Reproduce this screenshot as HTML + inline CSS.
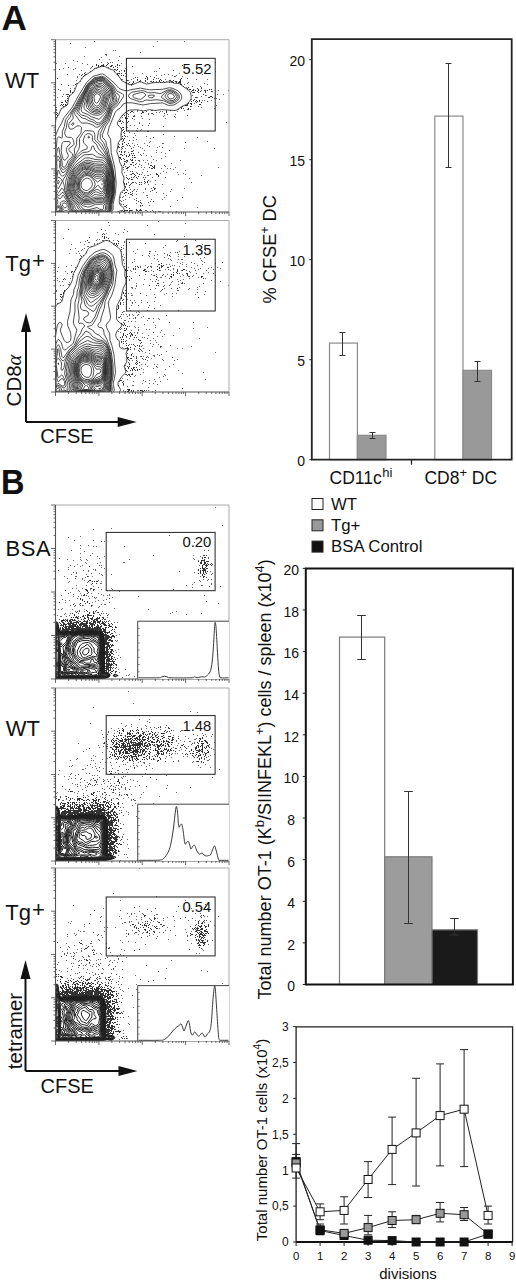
<!DOCTYPE html>
<html><head><meta charset="utf-8"><style>
html,body{margin:0;padding:0;background:#fff;}
body{width:516px;height:1280px;overflow:hidden;}
svg{display:block;font-family:"Liberation Sans", sans-serif;}
</style></head><body>
<svg width="516" height="1280" viewBox="0 0 516 1280" fill="#111">
<text x="1.6" y="29.8" font-size="35" text-anchor="start" font-weight="bold" >A</text>
<text transform="translate(0.9,494.2) scale(0.93,1)" font-size="35" font-weight="bold">B</text>
<rect x="329.5" y="343.1" width="27.899999999999977" height="116.6" fill="#fff" stroke="#8a8a8a" stroke-width="1.2"/>
<rect x="357.4" y="435.3" width="28.600000000000023" height="24.4" fill="#999" stroke="#8a8a8a" stroke-width="1.2"/>
<rect x="434.8" y="116.1" width="28.19999999999999" height="343.6" fill="#fff" stroke="#8a8a8a" stroke-width="1.2"/>
<rect x="463" y="370.3" width="28.5" height="89.4" fill="#999" stroke="#8a8a8a" stroke-width="1.2"/>
<path d="M342.5 332.5V355.5M339.5 332.5h6M339.5 355.5h6" stroke="#333" stroke-width="1" fill="none"/>
<path d="M372.5 432.5V438.5M369.5 432.5h6M369.5 438.5h6" stroke="#333" stroke-width="1" fill="none"/>
<path d="M448.5 63.5V167.5M445.5 63.5h6M445.5 167.5h6" stroke="#333" stroke-width="1" fill="none"/>
<path d="M477.5 361.5V381.5M474.5 361.5h6M474.5 381.5h6" stroke="#333" stroke-width="1" fill="none"/>
<path d="M311.8 39.2H511.7V459.7H311.8Z" fill="none" stroke="#222" stroke-width="1.8"/>
<path d="M309.3 459.7H311.8" stroke="#222" stroke-width="1"/>
<text x="305" y="465.8" font-size="14" text-anchor="end" font-weight="normal" >0</text>
<path d="M309.3 359.7H311.8" stroke="#222" stroke-width="1"/>
<text x="305" y="365.8" font-size="14" text-anchor="end" font-weight="normal" >5</text>
<path d="M309.3 259.7H311.8" stroke="#222" stroke-width="1"/>
<text x="305" y="265.8" font-size="14" text-anchor="end" font-weight="normal" >10</text>
<path d="M309.3 159.7H311.8" stroke="#222" stroke-width="1"/>
<text x="305" y="165.8" font-size="14" text-anchor="end" font-weight="normal" >15</text>
<path d="M309.3 59.69999999999999H311.8" stroke="#222" stroke-width="1"/>
<text x="305" y="65.8" font-size="14" text-anchor="end" font-weight="normal" >20</text>
<path d="M411.5 459.7V464.7" stroke="#222" stroke-width="1.2"/>
<text x="329.5" y="483.8" font-size="17.5" text-anchor="start" font-weight="normal" >CD11c<tspan font-size="13" dy="-7" dx="0.5">hi</tspan></text>
<text x="424.4" y="483.8" font-size="17.5" text-anchor="start" font-weight="normal" >CD8<tspan font-size="13" dy="-7">+</tspan><tspan dy="7"> DC</tspan></text>
<text transform="translate(275.5,249.3) rotate(-90)" font-size="18.3" text-anchor="middle">% CFSE<tspan font-size="12" dy="-7">+</tspan><tspan dy="7"> DC</tspan></text>
<rect x="312" y="498.5" width="11" height="11" fill="#fff" stroke="#222" stroke-width="1"/>
<text x="331" y="509.5" font-size="16.8" text-anchor="start" font-weight="normal" >WT</text>
<rect x="312" y="519.8" width="11" height="11" fill="#999" stroke="#222" stroke-width="1"/>
<text x="331" y="530.8" font-size="16.8" text-anchor="start" font-weight="normal" >Tg+</text>
<rect x="312" y="541.1" width="11" height="11" fill="#111" stroke="#222" stroke-width="1"/>
<text x="331" y="552.1" font-size="16.8" text-anchor="start" font-weight="normal" >BSA Control</text>
<rect x="339.5" y="637.1" width="45.2" height="347.4" fill="#fff" stroke="#7a7a7a" stroke-width="1.2"/>
<rect x="384.7" y="856.8" width="47.3" height="127.7" fill="#9c9c9c" stroke="#7a7a7a" stroke-width="1.2"/>
<rect x="432" y="929.8" width="45.5" height="54.7" fill="#1a1a1a" stroke="#7a7a7a" stroke-width="1.2"/>
<path d="M361.5 615.5V659.5M357.2 615.5h8.6M357.2 659.5h8.6" stroke="#333" stroke-width="1" fill="none"/>
<path d="M408.5 791.5V923.5M404.2 791.5h8.6M404.2 923.5h8.6" stroke="#333" stroke-width="1" fill="none"/>
<path d="M454.5 918.5V935M450.2 918.5h8.6M450.2 935h8.6" stroke="#333" stroke-width="1" fill="none"/>
<path d="M305.8 568.4H512.9V984.5H305.8Z" fill="none" stroke="#111" stroke-width="2"/>
<path d="M302.8 984.5H305.8" stroke="#222" stroke-width="1"/>
<text x="291.2" y="991.3" font-size="14" text-anchor="middle" font-weight="normal" >0</text>
<path d="M302.8 942.9H305.8" stroke="#222" stroke-width="1"/>
<text x="291.2" y="949.7" font-size="14" text-anchor="middle" font-weight="normal" >2</text>
<path d="M302.8 901.3H305.8" stroke="#222" stroke-width="1"/>
<text x="291.2" y="908.1" font-size="14" text-anchor="middle" font-weight="normal" >4</text>
<path d="M302.8 859.7H305.8" stroke="#222" stroke-width="1"/>
<text x="291.2" y="866.5" font-size="14" text-anchor="middle" font-weight="normal" >6</text>
<path d="M302.8 818.1H305.8" stroke="#222" stroke-width="1"/>
<text x="291.2" y="824.9" font-size="14" text-anchor="middle" font-weight="normal" >8</text>
<path d="M302.8 776.5H305.8" stroke="#222" stroke-width="1"/>
<text x="291.2" y="783.2" font-size="14" text-anchor="middle" font-weight="normal" >10</text>
<path d="M302.8 734.8H305.8" stroke="#222" stroke-width="1"/>
<text x="291.2" y="741.6" font-size="14" text-anchor="middle" font-weight="normal" >12</text>
<path d="M302.8 693.2H305.8" stroke="#222" stroke-width="1"/>
<text x="291.2" y="700.0" font-size="14" text-anchor="middle" font-weight="normal" >14</text>
<path d="M302.8 651.6H305.8" stroke="#222" stroke-width="1"/>
<text x="291.2" y="658.4" font-size="14" text-anchor="middle" font-weight="normal" >16</text>
<path d="M302.8 610.0H305.8" stroke="#222" stroke-width="1"/>
<text x="291.2" y="616.8" font-size="14" text-anchor="middle" font-weight="normal" >18</text>
<path d="M302.8 568.4H305.8" stroke="#222" stroke-width="1"/>
<text x="291.2" y="575.2" font-size="14" text-anchor="middle" font-weight="normal" >20</text>
<text transform="translate(270.7,779.3) rotate(-90)" font-size="18" text-anchor="middle">Total number OT-1 (K<tspan font-size="13" dy="-7">b</tspan><tspan dy="7">/SIINFEKL</tspan><tspan font-size="13" dy="-7">+</tspan><tspan dy="7">) cells / spleen (x10</tspan><tspan font-size="13" dy="-7">4</tspan><tspan dy="7">)</tspan></text>
<path d="M296.1 1242.0V1026.8H512.6V1242.0" fill="none" stroke="#222" stroke-width="1.3"/>
<path d="M296.1 1242.0H512.6" stroke="#111" stroke-width="2.2"/>
<path d="M293.1 1242.0H296.1" stroke="#222" stroke-width="1"/>
<text x="288.8" y="1246.3" font-size="12" text-anchor="end" font-weight="normal" >0</text>
<path d="M293.1 1206.1H296.1" stroke="#222" stroke-width="1"/>
<text x="288.8" y="1210.4" font-size="12" text-anchor="end" font-weight="normal" >0,5</text>
<path d="M293.1 1170.2H296.1" stroke="#222" stroke-width="1"/>
<text x="288.8" y="1174.5" font-size="12" text-anchor="end" font-weight="normal" >1</text>
<path d="M293.1 1134.3H296.1" stroke="#222" stroke-width="1"/>
<text x="288.8" y="1138.6" font-size="12" text-anchor="end" font-weight="normal" >1,5</text>
<path d="M293.1 1098.4H296.1" stroke="#222" stroke-width="1"/>
<text x="288.8" y="1102.7" font-size="12" text-anchor="end" font-weight="normal" >2</text>
<path d="M293.1 1062.5H296.1" stroke="#222" stroke-width="1"/>
<text x="288.8" y="1066.8" font-size="12" text-anchor="end" font-weight="normal" >2,5</text>
<path d="M293.1 1026.6H296.1" stroke="#222" stroke-width="1"/>
<text x="288.8" y="1030.9" font-size="12" text-anchor="end" font-weight="normal" >3</text>
<path d="M296.1 1242.0V1246.0" stroke="#222" stroke-width="1"/>
<text x="296.1" y="1259.5" font-size="11.5" text-anchor="middle" font-weight="normal" >0</text>
<path d="M320.1 1242.0V1246.0" stroke="#222" stroke-width="1"/>
<text x="320.1" y="1259.5" font-size="11.5" text-anchor="middle" font-weight="normal" >1</text>
<path d="M344.1 1242.0V1246.0" stroke="#222" stroke-width="1"/>
<text x="344.1" y="1259.5" font-size="11.5" text-anchor="middle" font-weight="normal" >2</text>
<path d="M368.1 1242.0V1246.0" stroke="#222" stroke-width="1"/>
<text x="368.1" y="1259.5" font-size="11.5" text-anchor="middle" font-weight="normal" >3</text>
<path d="M392.1 1242.0V1246.0" stroke="#222" stroke-width="1"/>
<text x="392.1" y="1259.5" font-size="11.5" text-anchor="middle" font-weight="normal" >4</text>
<path d="M416.1 1242.0V1246.0" stroke="#222" stroke-width="1"/>
<text x="416.1" y="1259.5" font-size="11.5" text-anchor="middle" font-weight="normal" >5</text>
<path d="M440.1 1242.0V1246.0" stroke="#222" stroke-width="1"/>
<text x="440.1" y="1259.5" font-size="11.5" text-anchor="middle" font-weight="normal" >6</text>
<path d="M464.1 1242.0V1246.0" stroke="#222" stroke-width="1"/>
<text x="464.1" y="1259.5" font-size="11.5" text-anchor="middle" font-weight="normal" >7</text>
<path d="M488.1 1242.0V1246.0" stroke="#222" stroke-width="1"/>
<text x="488.1" y="1259.5" font-size="11.5" text-anchor="middle" font-weight="normal" >8</text>
<path d="M512.1 1242.0V1246.0" stroke="#222" stroke-width="1"/>
<text x="512.1" y="1259.5" font-size="11.5" text-anchor="middle" font-weight="normal" >9</text>
<text x="408" y="1278.5" font-size="15" text-anchor="middle" font-weight="normal" >divisions</text>
<text transform="translate(267,1140) rotate(-90)" font-size="15" text-anchor="middle">Total number OT-1 cells (x10<tspan font-size="10" dy="-6">4</tspan><tspan dy="6">)</tspan></text>
<polyline points="296.1,1161.6 320.1,1230.5 344.1,1235.5 368.1,1240.2 392.1,1240.6 416.1,1242.0 440.1,1242.0 464.1,1242.0 488.1,1234.1" fill="none" stroke="#222" stroke-width="1"/>
<path d="M296.1 1143.6V1170.2M292.1 1143.6h8M292.1 1170.2h8M320.1 1224.0V1234.8M316.1 1224.0h8M316.1 1234.8h8M344.1 1230.5V1236.3M340.1 1230.5h8M340.1 1236.3h8M368.1 1215.4V1234.8M364.1 1215.4h8M364.1 1234.8h8M392.1 1211.8V1227.6M388.1 1211.8h8M388.1 1227.6h8M416.1 1215.4V1223.3M412.1 1215.4h8M412.1 1223.3h8M440.1 1202.5V1221.9M436.1 1202.5h8M436.1 1221.9h8M464.1 1207.5V1220.5M460.1 1207.5h8M460.1 1220.5h8M488.1 1233.4V1234.8M484.1 1233.4h8M484.1 1234.8h8" stroke="#222" stroke-width="1" fill="none"/>
<polyline points="296.1,1163.0 320.1,1229.8 344.1,1233.4 368.1,1227.6 392.1,1220.5 416.1,1219.7 440.1,1213.3 464.1,1214.7 488.1,1234.1" fill="none" stroke="#222" stroke-width="1"/>
<path d="M296.1 1154.4V1178.1M292.1 1154.4h8M292.1 1178.1h8M320.1 1203.9V1219.7M316.1 1203.9h8M316.1 1219.7h8M344.1 1196.8V1224.0M340.1 1196.8h8M340.1 1224.0h8M368.1 1161.6V1197.5M364.1 1161.6h8M364.1 1197.5h8M392.1 1117.1V1184.6M388.1 1117.1h8M388.1 1184.6h8M416.1 1078.3V1186.0M412.1 1078.3h8M412.1 1186.0h8M440.1 1063.9V1165.9M436.1 1063.9h8M436.1 1165.9h8M464.1 1049.6V1166.6M460.1 1049.6h8M460.1 1166.6h8M488.1 1206.1V1224.0M484.1 1206.1h8M484.1 1224.0h8" stroke="#222" stroke-width="1" fill="none"/>
<polyline points="296.1,1168.0 320.1,1211.8 344.1,1210.4 368.1,1179.5 392.1,1149.4 416.1,1132.9 440.1,1115.6 464.1,1109.2 488.1,1215.4" fill="none" stroke="#222" stroke-width="1"/>
<rect x="292.1" y="1157.6" width="8" height="8" fill="#111" stroke="#111" stroke-width="1"/>
<rect x="340.1" y="1231.5" width="8" height="8" fill="#111" stroke="#111" stroke-width="1"/>
<rect x="292.1" y="1159.0" width="8" height="8" fill="#999" stroke="#111" stroke-width="1"/>
<rect x="316.1" y="1225.8" width="8" height="8" fill="#999" stroke="#111" stroke-width="1"/>
<rect x="340.1" y="1229.4" width="8" height="8" fill="#999" stroke="#111" stroke-width="1"/>
<rect x="364.1" y="1223.6" width="8" height="8" fill="#999" stroke="#111" stroke-width="1"/>
<rect x="388.1" y="1216.5" width="8" height="8" fill="#999" stroke="#111" stroke-width="1"/>
<rect x="412.1" y="1215.7" width="8" height="8" fill="#999" stroke="#111" stroke-width="1"/>
<rect x="436.1" y="1209.3" width="8" height="8" fill="#999" stroke="#111" stroke-width="1"/>
<rect x="460.1" y="1210.7" width="8" height="8" fill="#999" stroke="#111" stroke-width="1"/>
<rect x="484.1" y="1230.1" width="8" height="8" fill="#999" stroke="#111" stroke-width="1"/>
<rect x="316.1" y="1226.5" width="8" height="8" fill="#111" stroke="#111" stroke-width="1"/>
<rect x="364.1" y="1236.2" width="8" height="8" fill="#111" stroke="#111" stroke-width="1"/>
<rect x="388.1" y="1236.6" width="8" height="8" fill="#111" stroke="#111" stroke-width="1"/>
<rect x="412.1" y="1238.0" width="8" height="8" fill="#111" stroke="#111" stroke-width="1"/>
<rect x="436.1" y="1238.0" width="8" height="8" fill="#111" stroke="#111" stroke-width="1"/>
<rect x="460.1" y="1238.0" width="8" height="8" fill="#111" stroke="#111" stroke-width="1"/>
<rect x="484.1" y="1230.1" width="8" height="8" fill="#111" stroke="#111" stroke-width="1"/>
<rect x="292.1" y="1164.0" width="8" height="8" fill="#fff" stroke="#111" stroke-width="1"/>
<rect x="316.1" y="1207.8" width="8" height="8" fill="#fff" stroke="#111" stroke-width="1"/>
<rect x="340.1" y="1206.4" width="8" height="8" fill="#fff" stroke="#111" stroke-width="1"/>
<rect x="364.1" y="1175.5" width="8" height="8" fill="#fff" stroke="#111" stroke-width="1"/>
<rect x="388.1" y="1145.4" width="8" height="8" fill="#fff" stroke="#111" stroke-width="1"/>
<rect x="412.1" y="1128.9" width="8" height="8" fill="#fff" stroke="#111" stroke-width="1"/>
<rect x="436.1" y="1111.6" width="8" height="8" fill="#fff" stroke="#111" stroke-width="1"/>
<rect x="460.1" y="1105.2" width="8" height="8" fill="#fff" stroke="#111" stroke-width="1"/>
<rect x="484.1" y="1211.4" width="8" height="8" fill="#fff" stroke="#111" stroke-width="1"/>
<clipPath id="c39"><rect x="55.5" y="39.7" width="173.5" height="172.3"/></clipPath>
<g clip-path="url(#c39)">
<path d="M108 63h1v1h-1zM96 64h1v1h-1zM103 64h1v1h-1zM107 64h1v1h-1zM117 64h1v1h-1zM96 65h1v1h-1zM98 65h1v1h-1zM101 65h3v1h-3zM106 65h1v1h-1zM111 65h2v1h-2zM117 65h1v1h-1zM119 65h1v1h-1zM92 66h1v1h-1zM98 66h1v1h-1zM100 66h1v1h-1zM103 66h1v1h-1zM110 66h2v1h-2zM115 66h1v1h-1zM113 67h1v1h-1zM117 67h1v1h-1zM114 69h2v1h-2zM117 69h1v1h-1zM116 70h1v1h-1zM124 70h1v1h-1zM126 70h1v1h-1zM114 71h1v1h-1zM119 71h1v1h-1zM124 71h1v1h-1zM84 73h1v1h-1zM117 73h3v1h-3zM121 73h1v1h-1zM82 74h1v1h-1zM85 74h1v1h-1zM117 74h1v1h-1zM81 75h1v1h-1zM84 75h1v1h-1zM118 75h1v1h-1zM121 75h1v1h-1zM123 75h1v1h-1zM83 76h1v1h-1zM146 76h1v1h-1zM174 76h1v1h-1zM135 77h1v1h-1zM147 77h1v1h-1zM154 77h1v1h-1zM145 78h1v1h-1zM147 78h1v1h-1zM158 78h1v1h-1zM181 78h1v1h-1zM137 79h1v1h-1zM147 79h1v1h-1zM153 79h1v1h-1zM160 79h1v1h-1zM180 79h1v1h-1zM127 80h1v1h-1zM145 80h1v1h-1zM159 80h1v1h-1zM161 80h1v1h-1zM169 80h2v1h-2zM173 80h1v1h-1zM180 80h1v1h-1zM133 81h1v1h-1zM139 81h1v1h-1zM145 81h1v1h-1zM151 81h1v1h-1zM153 81h1v1h-1zM159 81h1v1h-1zM163 81h1v1h-1zM171 81h2v1h-2zM175 81h2v1h-2zM179 81h2v1h-2zM129 82h1v1h-1zM133 82h1v1h-1zM152 82h1v1h-1zM160 82h1v1h-1zM169 82h1v1h-1zM173 82h1v1h-1zM176 82h1v1h-1zM178 82h3v1h-3zM132 83h1v1h-1zM180 83h1v1h-1zM75 84h1v1h-1zM131 84h1v1h-1zM181 84h1v1h-1zM188 87h1v1h-1zM187 88h1v1h-1zM197 88h1v1h-1zM201 88h1v1h-1zM189 89h2v1h-2zM193 89h1v1h-1zM198 89h1v1h-1zM209 89h1v1h-1zM211 89h1v1h-1zM70 90h1v1h-1zM192 90h2v1h-2zM195 90h1v1h-1zM198 90h1v1h-1zM204 90h2v1h-2zM207 90h1v1h-1zM70 91h1v1h-1zM191 91h1v1h-1zM197 91h1v1h-1zM200 91h1v1h-1zM205 91h1v1h-1zM211 91h1v1h-1zM70 92h1v1h-1zM72 92h1v1h-1zM192 92h3v1h-3zM198 92h1v1h-1zM205 92h1v1h-1zM66 94h3v1h-3zM203 94h1v1h-1zM69 95h1v1h-1zM67 96h1v1h-1zM69 96h1v1h-1zM210 96h2v1h-2zM195 97h2v1h-2zM208 97h2v1h-2zM212 97h1v1h-1zM67 98h1v1h-1zM194 99h1v1h-1zM65 100h1v1h-1zM67 100h1v1h-1zM193 100h1v1h-1zM196 100h1v1h-1zM199 100h1v1h-1zM65 101h1v1h-1zM191 101h1v1h-1zM195 101h1v1h-1zM197 101h1v1h-1zM199 101h1v1h-1zM61 102h2v1h-2zM66 102h1v1h-1zM196 102h1v1h-1zM201 102h1v1h-1zM188 103h1v1h-1zM190 103h2v1h-2zM61 104h1v1h-1zM63 104h1v1h-1zM65 104h1v1h-1zM67 104h1v1h-1zM187 104h1v1h-1zM191 104h1v1h-1zM199 104h2v1h-2zM62 105h1v1h-1zM65 105h2v1h-2zM185 105h3v1h-3zM63 106h1v1h-1zM182 106h1v1h-1zM190 106h1v1h-1zM181 107h1v1h-1zM181 108h1v1h-1zM183 108h1v1h-1zM188 108h1v1h-1zM188 109h1v1h-1zM131 111h2v1h-2zM142 111h1v1h-1zM166 111h1v1h-1zM56 112h1v1h-1zM130 112h1v1h-1zM142 112h2v1h-2zM166 112h1v1h-1zM57 113h1v1h-1zM141 113h1v1h-1zM164 113h1v1h-1zM56 114h1v1h-1zM128 114h1v1h-1zM57 115h1v1h-1zM122 115h1v1h-1zM124 115h1v1h-1zM133 116h2v1h-2zM125 117h1v1h-1zM125 118h1v1h-1zM127 118h1v1h-1zM132 118h1v1h-1zM120 120h1v1h-1zM126 120h1v1h-1zM119 121h2v1h-2zM122 121h1v1h-1zM128 121h1v1h-1zM127 122h1v1h-1zM121 123h1v1h-1zM122 127h2v1h-2zM121 128h1v1h-1zM123 129h1v1h-1zM122 130h1v1h-1zM124 131h1v1h-1zM123 132h1v1h-1zM124 133h1v1h-1zM124 135h1v1h-1zM122 136h1v1h-1zM125 136h1v1h-1zM122 138h1v1h-1zM124 138h1v1h-1zM121 139h1v1h-1zM123 139h1v1h-1zM123 140h1v1h-1zM122 141h1v1h-1zM124 142h1v1h-1zM122 143h1v1h-1zM128 143h1v1h-1zM122 144h1v1h-1zM126 144h1v1h-1zM127 145h1v1h-1zM129 145h1v1h-1zM118 146h1v1h-1zM122 146h2v1h-2zM119 147h1v1h-1zM121 147h1v1h-1zM122 148h1v1h-1zM131 148h1v1h-1zM121 149h1v1h-1zM133 150h1v1h-1zM119 151h1v1h-1zM121 151h1v1h-1zM131 151h2v1h-2zM121 152h1v1h-1zM124 152h1v1h-1zM131 153h1v1h-1zM133 153h1v1h-1zM120 154h2v1h-2zM124 154h1v1h-1zM129 154h1v1h-1zM122 155h1v1h-1zM126 155h1v1h-1zM129 155h1v1h-1zM132 155h1v1h-1zM134 155h1v1h-1zM126 156h1v1h-1zM128 156h1v1h-1zM119 157h2v1h-2zM132 157h1v1h-1zM134 157h1v1h-1zM120 158h1v1h-1zM121 159h1v1h-1zM124 159h1v1h-1zM130 159h1v1h-1zM132 159h1v1h-1zM126 160h2v1h-2zM131 160h2v1h-2zM124 161h2v1h-2zM127 161h1v1h-1zM126 162h1v1h-1zM132 162h2v1h-2zM124 163h1v1h-1zM124 164h1v1h-1zM130 164h2v1h-2zM135 164h1v1h-1zM123 165h1v1h-1zM133 165h1v1h-1zM150 165h2v1h-2zM154 165h1v1h-1zM125 166h1v1h-1zM129 166h1v1h-1zM152 166h1v1h-1zM154 166h1v1h-1zM123 167h1v1h-1zM127 167h2v1h-2zM149 167h1v1h-1zM153 167h2v1h-2zM126 168h2v1h-2zM151 168h2v1h-2zM154 168h1v1h-1zM132 171h1v1h-1zM132 173h2v1h-2zM137 173h1v1h-1zM156 173h1v1h-1zM131 174h1v1h-1zM134 174h1v1h-1zM139 174h1v1h-1zM156 174h2v1h-2zM135 175h1v1h-1zM158 175h1v1h-1zM134 176h1v1h-1zM138 176h1v1h-1zM158 176h1v1h-1zM126 177h1v1h-1zM131 177h1v1h-1zM133 177h1v1h-1zM136 177h1v1h-1zM143 177h1v1h-1zM145 177h1v1h-1zM127 178h1v1h-1zM129 178h1v1h-1zM128 179h1v1h-1zM131 179h2v1h-2zM144 179h1v1h-1zM148 180h1v1h-1zM144 181h1v1h-1zM147 181h1v1h-1zM128 182h1v1h-1zM132 182h2v1h-2zM139 182h1v1h-1zM141 182h1v1h-1zM145 182h1v1h-1zM147 182h1v1h-1zM124 183h1v1h-1zM126 183h1v1h-1zM131 183h1v1h-1zM124 184h1v1h-1zM126 184h1v1h-1zM130 184h1v1h-1zM139 184h1v1h-1zM141 184h1v1h-1zM129 185h1v1h-1zM125 186h1v1h-1zM153 187h1v1h-1zM154 188h2v1h-2zM126 189h1v1h-1zM134 189h1v1h-1zM154 189h1v1h-1zM124 190h1v1h-1zM127 190h1v1h-1zM152 190h1v1h-1zM132 191h1v1h-1zM125 192h2v1h-2zM130 192h1v1h-1zM124 193h1v1h-1zM128 193h1v1h-1zM132 193h1v1h-1zM130 194h2v1h-2zM132 195h1v1h-1zM136 200h1v1h-1zM121 201h1v1h-1zM138 201h1v1h-1zM140 202h1v1h-1zM141 203h1v1h-1zM123 204h1v1h-1zM126 205h1v1h-1zM140 205h1v1h-1zM142 205h1v1h-1zM124 206h2v1h-2zM126 207h1v1h-1zM129 208h1v1h-1zM136 209h1v1h-1zM140 209h1v1h-1zM124 210h4v1h-4zM129 210h3v1h-3zM136 210h2v1h-2zM139 210h3v1h-3zM123 211h2v1h-2zM129 211h1v1h-1zM138 211h1v1h-1z" fill="#333"/>
<path d="M94 41h1v1h-1zM157 41h1v1h-1zM184 41h1v1h-1zM70 43h1v1h-1zM153 46h1v1h-1zM85 47h1v1h-1zM113 50h1v1h-1zM115 50h1v1h-1zM140 52h1v1h-1zM105 54h2v1h-2zM106 55h1v1h-1zM84 56h1v1h-1zM119 56h1v1h-1zM101 57h1v1h-1zM99 59h1v1h-1zM109 59h1v1h-1zM73 60h1v1h-1zM118 60h1v1h-1zM77 61h1v1h-1zM101 62h1v1h-1zM107 62h1v1h-1zM110 62h1v1h-1zM112 62h1v1h-1zM215 62h1v1h-1zM56 63h1v1h-1zM65 63h1v1h-1zM82 63h1v1h-1zM121 63h1v1h-1zM87 64h1v1h-1zM187 64h1v1h-1zM182 65h1v1h-1zM132 66h1v1h-1zM68 67h1v1h-1zM91 67h1v1h-1zM108 67h1v1h-1zM63 68h1v1h-1zM75 68h1v1h-1zM90 68h1v1h-1zM94 68h1v1h-1zM96 68h1v1h-1zM125 68h1v1h-1zM159 68h1v1h-1zM59 69h1v1h-1zM73 69h1v1h-1zM196 69h1v1h-1zM81 70h1v1h-1zM121 70h1v1h-1zM173 70h1v1h-1zM90 71h1v1h-1zM154 71h1v1h-1zM156 71h1v1h-1zM215 71h1v1h-1zM85 72h1v1h-1zM125 73h1v1h-1zM133 73h1v1h-1zM142 73h1v1h-1zM179 73h1v1h-1zM67 74h1v1h-1zM79 74h1v1h-1zM164 74h1v1h-1zM168 74h1v1h-1zM202 74h1v1h-1zM156 75h1v1h-1zM161 75h1v1h-1zM172 75h1v1h-1zM176 75h1v1h-1zM77 76h1v1h-1zM125 76h1v1h-1zM150 76h1v1h-1zM175 76h1v1h-1zM182 76h1v1h-1zM77 77h1v1h-1zM137 77h1v1h-1zM57 78h1v1h-1zM81 78h1v1h-1zM133 78h1v1h-1zM156 78h1v1h-1zM187 78h1v1h-1zM121 79h2v1h-2zM131 79h1v1h-1zM165 79h1v1h-1zM196 79h1v1h-1zM207 79h1v1h-1zM76 80h1v1h-1zM128 80h1v1h-1zM137 80h1v1h-1zM140 80h1v1h-1zM80 81h1v1h-1zM140 81h1v1h-1zM150 81h1v1h-1zM156 81h1v1h-1zM166 81h1v1h-1zM125 82h1v1h-1zM147 82h1v1h-1zM164 82h1v1h-1zM188 82h1v1h-1zM76 83h2v1h-2zM128 83h1v1h-1zM187 83h1v1h-1zM204 83h1v1h-1zM61 84h1v1h-1zM184 84h1v1h-1zM207 84h1v1h-1zM68 85h1v1h-1zM73 85h1v1h-1zM131 85h1v1h-1zM183 86h1v1h-1zM192 86h1v1h-1zM200 86h1v1h-1zM186 87h1v1h-1zM201 87h1v1h-1zM70 88h1v1h-1zM74 88h1v1h-1zM58 89h1v1h-1zM60 90h1v1h-1zM201 90h1v1h-1zM218 90h1v1h-1zM228 90h1v1h-1zM212 91h1v1h-1zM63 94h1v1h-1zM217 94h1v1h-1zM223 94h1v1h-1zM192 95h1v1h-1zM205 95h2v1h-2zM62 96h1v1h-1zM201 96h1v1h-1zM57 97h1v1h-1zM197 97h1v1h-1zM214 98h1v1h-1zM216 98h1v1h-1zM191 99h1v1h-1zM219 99h1v1h-1zM202 100h1v1h-1zM204 100h1v1h-1zM211 100h1v1h-1zM207 101h1v1h-1zM194 103h1v1h-1zM60 105h1v1h-1zM216 105h1v1h-1zM191 106h1v1h-1zM198 106h1v1h-1zM56 107h1v1h-1zM201 107h1v1h-1zM61 108h1v1h-1zM214 108h1v1h-1zM56 109h1v1h-1zM178 109h1v1h-1zM187 109h1v1h-1zM190 109h1v1h-1zM56 110h1v1h-1zM60 110h1v1h-1zM128 110h1v1h-1zM137 110h1v1h-1zM151 110h2v1h-2zM155 110h1v1h-1zM166 110h1v1h-1zM170 110h1v1h-1zM174 110h1v1h-1zM184 110h1v1h-1zM137 111h1v1h-1zM146 111h1v1h-1zM160 111h1v1h-1zM162 111h1v1h-1zM177 111h1v1h-1zM133 112h1v1h-1zM156 112h1v1h-1zM159 112h1v1h-1zM127 113h1v1h-1zM148 113h1v1h-1zM151 113h2v1h-2zM123 114h1v1h-1zM148 114h1v1h-1zM153 114h1v1h-1zM167 114h1v1h-1zM175 114h1v1h-1zM134 115h1v1h-1zM164 115h1v1h-1zM187 115h1v1h-1zM128 116h1v1h-1zM141 116h1v1h-1zM163 116h1v1h-1zM174 116h1v1h-1zM56 117h1v1h-1zM122 117h1v1h-1zM175 117h1v1h-1zM142 118h1v1h-1zM165 118h1v1h-1zM134 119h1v1h-1zM149 119h1v1h-1zM123 122h1v1h-1zM139 122h1v1h-1zM226 122h1v1h-1zM126 123h1v1h-1zM139 123h1v1h-1zM149 123h1v1h-1zM118 125h1v1h-1zM130 125h1v1h-1zM134 125h1v1h-1zM142 125h1v1h-1zM148 125h1v1h-1zM126 126h1v1h-1zM163 126h1v1h-1zM127 127h1v1h-1zM137 128h1v1h-1zM141 129h1v1h-1zM128 130h1v1h-1zM136 130h1v1h-1zM140 130h1v1h-1zM137 131h1v1h-1zM147 131h2v1h-2zM129 132h1v1h-1zM134 133h1v1h-1zM121 134h1v1h-1zM163 134h1v1h-1zM135 135h1v1h-1zM127 136h1v1h-1zM146 136h1v1h-1zM174 136h1v1h-1zM133 137h1v1h-1zM153 137h1v1h-1zM197 137h1v1h-1zM150 138h1v1h-1zM136 139h1v1h-1zM129 140h1v1h-1zM133 140h1v1h-1zM150 141h1v1h-1zM207 141h1v1h-1zM149 142h1v1h-1zM185 142h1v1h-1zM118 143h1v1h-1zM132 143h1v1h-1zM144 143h1v1h-1zM162 143h2v1h-2zM119 144h1v1h-1zM137 144h1v1h-1zM134 145h1v1h-1zM147 145h1v1h-1zM130 146h1v1h-1zM138 146h1v1h-1zM149 146h1v1h-1zM159 146h1v1h-1zM118 147h1v1h-1zM133 147h1v1h-1zM140 147h1v1h-1zM157 147h1v1h-1zM162 147h1v1h-1zM125 148h1v1h-1zM142 148h1v1h-1zM184 148h1v1h-1zM214 148h1v1h-1zM144 150h1v1h-1zM156 150h1v1h-1zM169 150h1v1h-1zM124 151h2v1h-2zM128 152h1v1h-1zM138 152h1v1h-1zM156 152h1v1h-1zM161 152h1v1h-1zM143 153h1v1h-1zM165 153h1v1h-1zM140 154h1v1h-1zM141 155h1v1h-1zM146 155h1v1h-1zM151 156h1v1h-1zM165 156h1v1h-1zM135 157h1v1h-1zM123 158h1v1h-1zM161 158h1v1h-1zM153 159h1v1h-1zM135 160h1v1h-1zM138 160h2v1h-2zM143 160h1v1h-1zM147 160h1v1h-1zM156 160h1v1h-1zM180 160h1v1h-1zM139 161h1v1h-1zM145 162h1v1h-1zM151 162h1v1h-1zM136 163h1v1h-1zM148 163h1v1h-1zM171 163h1v1h-1zM139 164h1v1h-1zM148 164h1v1h-1zM121 165h1v1h-1zM141 165h1v1h-1zM164 165h1v1h-1zM138 166h1v1h-1zM165 166h1v1h-1zM135 167h1v1h-1zM141 167h1v1h-1zM144 167h1v1h-1zM175 167h1v1h-1zM218 167h1v1h-1zM161 168h1v1h-1zM167 168h1v1h-1zM170 168h1v1h-1zM123 169h1v1h-1zM143 169h1v1h-1zM173 169h1v1h-1zM127 170h1v1h-1zM185 170h1v1h-1zM130 171h1v1h-1zM147 171h1v1h-1zM163 171h1v1h-1zM124 172h1v1h-1zM136 172h1v1h-1zM142 172h1v1h-1zM166 172h1v1h-1zM177 172h1v1h-1zM160 173h1v1h-1zM183 173h1v1h-1zM130 174h1v1h-1zM141 174h1v1h-1zM150 174h1v1h-1zM178 174h1v1h-1zM185 174h1v1h-1zM126 175h1v1h-1zM144 175h1v1h-1zM147 175h2v1h-2zM201 175h1v1h-1zM123 176h1v1h-1zM152 177h1v1h-1zM165 177h1v1h-1zM137 178h1v1h-1zM189 178h1v1h-1zM155 180h1v1h-1zM150 181h1v1h-1zM123 182h1v1h-1zM135 182h1v1h-1zM191 182h1v1h-1zM136 183h1v1h-1zM144 183h1v1h-1zM148 184h1v1h-1zM155 184h1v1h-1zM162 184h1v1h-1zM125 187h1v1h-1zM129 187h1v1h-1zM145 188h1v1h-1zM151 188h1v1h-1zM184 188h1v1h-1zM130 189h1v1h-1zM137 189h1v1h-1zM145 189h1v1h-1zM171 189h1v1h-1zM133 190h1v1h-1zM136 191h1v1h-1zM150 191h1v1h-1zM170 191h1v1h-1zM122 192h1v1h-1zM143 192h1v1h-1zM156 192h1v1h-1zM163 193h1v1h-1zM136 194h1v1h-1zM125 195h1v1h-1zM146 195h2v1h-2zM166 195h1v1h-1zM123 196h1v1h-1zM120 197h1v1h-1zM122 197h1v1h-1zM129 197h1v1h-1zM147 197h1v1h-1zM164 197h1v1h-1zM182 197h1v1h-1zM136 198h1v1h-1zM125 199h1v1h-1zM134 199h1v1h-1zM151 199h1v1h-1zM162 199h1v1h-1zM120 200h1v1h-1zM123 200h1v1h-1zM140 200h1v1h-1zM177 200h1v1h-1zM150 201h1v1h-1zM153 201h1v1h-1zM148 202h1v1h-1zM120 203h1v1h-1zM136 203h1v1h-1zM121 204h1v1h-1zM149 205h1v1h-1zM140 206h1v1h-1zM170 206h1v1h-1zM197 207h1v1h-1zM132 210h1v1h-1zM145 210h2v1h-2zM152 210h1v1h-1zM121 211h1v1h-1zM147 211h1v1h-1zM150 211h1v1h-1zM153 211h1v1h-1zM155 211h1v1h-1zM158 211h3v1h-3zM176 211h1v1h-1zM211 211h1v1h-1z" fill="#666"/>
<path d="M106.5 216.3L85.0 216.5L67.0 215.0L57.5 215.9L54.0 214.7L51.9 212.2L51.5 209.2L52.3 201.2L51.1 182.7L51.6 175.7L52.4 137.2L56.1 118.7L58.7 114.7L60.5 110.2L62.5 107.8L65.8 106.2L67.0 105.0L67.8 103.2L68.9 96.7L74.0 92.0L76.8 84.7L80.4 80.7L83.5 76.3L90.3 72.2L95.0 68.5L102.0 66.3L105.0 66.5L110.0 69.1L113.5 70.2L115.6 73.2L118.8 76.2L121.8 80.7L129.0 84.6L133.0 84.4L139.5 81.9L141.5 82.1L146.5 84.1L152.5 82.8L159.5 82.3L163.5 82.6L169.5 81.7L174.5 83.2L178.0 83.3L179.5 83.8L189.2 90.7L190.5 92.5L191.2 96.2L191.0 98.7L189.3 101.7L186.8 104.2L182.0 106.4L177.0 109.9L175.0 110.5L161.5 109.6L155.5 110.5L149.5 109.7L143.5 110.9L136.5 109.7L129.5 110.2L127.0 111.3L123.4 114.2L121.0 117.0L118.0 121.7L117.4 123.2L117.4 124.7L121.2 128.2L121.8 130.2L120.9 134.2L121.2 138.2L118.4 142.7L116.8 151.7L118.9 157.2L119.7 162.2L122.2 167.2L121.9 172.7L124.1 177.7L123.5 182.2L124.8 187.2L124.2 189.7L121.5 191.8L120.5 193.3L119.4 198.2L119.2 201.7L120.0 204.9L123.4 207.7L124.2 209.2L123.0 210.4L119.5 211.1L111.5 214.9L106.5 216.3 M105.0 214.7L83.0 214.7L75.5 214.0L66.5 212.3L57.5 213.9L55.0 212.9L53.8 211.2L53.6 208.7L54.8 204.2L55.0 201.2L53.7 192.7L53.0 182.2L53.7 175.7L53.8 162.7L55.2 138.2L56.0 134.5L58.4 128.7L61.3 123.7L64.0 117.7L72.5 107.0L78.2 96.2L86.5 82.7L93.0 76.4L100.5 74.2L102.5 74.0L104.5 74.8L113.0 81.9L119.0 88.3L121.0 89.4L125.0 90.6L127.5 90.7L132.0 89.5L140.5 88.1L149.5 89.9L162.5 89.3L169.5 87.7L173.0 88.4L177.5 90.5L179.5 92.1L180.9 94.2L181.7 96.2L181.7 98.2L181.0 99.7L179.2 101.7L174.0 105.0L168.5 105.4L162.5 102.9L150.5 103.6L143.0 105.0L132.0 102.8L126.5 102.8L123.5 103.8L120.5 107.7L117.0 110.2L115.3 112.2L109.3 126.7L107.7 133.2L108.0 134.7L110.6 139.2L111.2 152.7L114.8 167.7L116.2 183.2L115.4 193.7L113.0 204.7L113.1 209.2L112.7 210.7L109.5 213.4L105.0 214.7 M104.0 214.2L81.0 213.9L74.0 212.9L66.0 210.5L59.5 213.0L57.5 213.1L56.0 212.6L54.7 211.2L54.3 209.7L56.3 203.7L56.5 201.7L54.7 193.2L53.7 182.7L54.7 175.2L54.8 161.7L57.2 138.2L58.5 136.7L61.5 138.1L62.3 137.7L62.3 131.7L64.4 126.2L65.5 119.7L74.7 106.7L80.0 96.7L83.8 90.7L86.8 84.7L94.0 77.9L101.5 76.3L104.0 76.9L106.5 78.7L113.3 85.2L117.0 91.1L122.4 93.7L123.4 94.7L123.6 95.7L123.1 97.2L118.1 104.7L114.0 108.3L112.6 110.2L109.1 121.2L105.7 126.2L102.3 134.7L102.7 137.7L105.1 140.2L105.9 141.7L106.5 145.2L108.1 149.2L109.1 154.2L112.6 165.7L114.8 180.7L114.3 193.7L111.8 204.7L111.7 209.7L110.9 211.2L109.2 212.7L107.0 213.7L104.0 214.2 M172.5 103.2L169.0 103.4L163.5 100.6L156.0 99.7L150.5 100.4L146.0 99.9L142.5 101.6L139.5 101.7L130.9 98.7L129.0 97.2L128.4 95.7L129.6 93.7L131.8 92.2L140.5 90.7L143.5 90.8L149.0 92.9L154.5 92.5L159.5 93.6L161.5 93.1L167.5 90.0L171.0 89.7L173.8 90.7L177.1 92.7L178.8 94.7L179.5 96.7L179.1 98.7L177.9 100.2L175.0 102.4L172.5 103.2 M65.0 160.2L66.6 158.7L68.6 155.7L66.6 151.7L66.3 149.7L67.0 147.2L70.2 143.7L70.1 142.2L69.0 141.5L63.5 141.6L62.5 142.6L61.9 144.2L61.2 150.7L61.4 153.2L63.0 158.9L64.0 160.1L65.0 160.2 M65.9 207.7L67.3 206.2L66.9 204.2L65.0 202.9L63.0 203.3L62.2 204.7L62.8 206.2L64.5 207.7L65.9 207.7 M105.5 213.7L85.0 213.8L73.0 212.1L68.4 209.7L68.1 208.7L68.8 205.7L68.4 204.2L66.5 202.0L64.0 200.7L61.5 201.6L60.2 203.2L60.7 205.2L63.3 209.2L62.8 210.7L60.0 212.4L57.5 212.7L55.6 211.7L54.8 209.7L55.2 207.7L58.0 202.2L55.2 193.2L54.1 182.7L55.2 175.2L55.3 161.7L57.5 149.1L58.5 147.3L59.0 148.1L59.5 152.7L62.2 161.7L62.3 165.7L63.0 167.1L64.5 167.1L66.0 165.8L68.2 160.7L72.0 156.7L72.5 155.2L72.4 153.7L69.0 150.7L68.8 149.2L69.8 147.7L72.5 146.0L73.6 144.7L74.0 143.2L73.5 140.7L72.5 138.5L71.5 137.5L67.5 137.2L66.0 136.5L64.7 133.7L64.8 131.7L66.3 127.7L67.4 120.7L70.2 117.2L71.9 112.2L76.0 106.3L87.6 84.7L94.5 78.7L101.0 77.3L103.0 77.6L105.0 78.6L111.5 84.8L113.3 87.2L115.5 92.4L119.0 95.2L119.6 96.2L117.6 102.7L112.0 108.8L108.0 120.2L103.6 126.2L100.2 133.7L100.4 138.7L103.6 142.7L106.8 150.2L107.9 154.7L110.2 160.2L112.3 167.7L114.2 179.2L113.8 193.7L111.1 204.7L111.0 209.7L109.2 212.2L105.5 213.7 M173.0 101.8L170.0 102.2L168.0 101.6L161.7 97.7L161.5 96.2L165.2 92.7L167.6 91.2L170.0 90.7L173.0 91.4L176.9 94.2L178.1 96.7L177.8 98.2L176.6 99.7L173.0 101.8 M140.5 99.3L138.5 99.2L134.2 97.7L133.0 96.7L132.9 95.2L134.0 94.3L140.5 92.6L142.5 92.5L144.0 93.0L145.5 94.2L145.9 95.2L141.8 98.7L140.5 99.3 M152.0 97.8L149.5 97.7L148.3 96.7L148.2 95.7L151.5 95.0L154.1 95.2L154.5 96.2L152.0 97.8 M103.0 213.7L82.5 213.4L75.0 212.2L71.1 210.7L69.8 209.2L69.9 205.7L69.4 204.2L65.6 199.2L63.8 195.7L63.0 195.3L62.5 195.5L61.3 197.7L60.0 198.7L58.5 198.2L57.0 196.2L55.6 192.2L54.5 182.7L55.8 175.2L56.0 161.7L57.5 156.2L58.0 155.8L59.0 156.7L60.7 160.7L60.8 166.7L61.7 168.7L63.5 169.7L66.5 167.6L68.0 165.7L69.6 161.7L73.6 156.7L74.5 153.2L74.4 149.2L76.5 144.7L76.8 138.2L80.1 134.2L81.1 132.2L81.5 127.7L80.8 126.7L79.5 125.9L77.0 125.9L73.5 128.5L72.0 129.1L70.0 129.0L69.0 127.8L68.7 125.7L69.2 123.2L73.3 118.2L72.7 114.2L73.2 112.2L77.0 106.5L88.3 84.7L95.0 79.4L101.0 78.1L103.0 78.4L105.0 79.6L111.5 86.2L116.4 97.2L116.8 99.2L116.0 102.7L112.5 106.3L111.0 108.6L106.9 119.7L99.1 130.2L98.3 132.2L97.4 138.7L97.8 140.2L101.9 144.2L105.4 150.7L109.2 159.7L111.7 167.7L113.7 178.7L113.3 193.7L110.6 204.7L110.5 209.7L109.7 211.2L108.0 212.5L103.0 213.7 M171.0 100.7L167.7 99.7L165.0 96.7L165.3 95.2L166.3 93.7L168.0 92.4L169.5 91.9L171.5 92.0L173.5 93.0L175.6 94.7L176.4 96.2L176.2 97.7L175.0 99.2L173.0 100.4L171.0 100.7 M59.0 212.2L56.5 211.8L55.5 210.7L55.3 209.7L56.5 206.5L58.5 205.3L60.5 206.6L62.1 209.2L62.0 210.2L61.1 211.2L59.0 212.2 M96.5 127.2L95.5 127.0L92.0 124.6L87.9 123.2L86.0 122.9L83.0 123.3L81.1 122.7L75.0 114.6L74.5 112.7L78.0 106.7L88.7 85.2L90.5 83.4L95.5 80.0L98.5 79.1L101.5 78.8L103.5 79.4L105.0 80.4L111.2 87.2L114.9 97.7L115.3 100.7L114.5 102.7L110.8 107.2L108.3 114.2L104.9 120.7L100.5 125.7L98.5 126.8L96.5 127.2 M172.5 98.7L170.0 98.8L168.2 97.7L167.5 95.7L168.5 94.0L171.0 93.3L173.5 94.7L174.4 96.7L173.9 97.7L172.5 98.7 M72.5 125.3L71.6 124.7L71.9 123.7L73.0 122.9L74.0 123.1L73.8 124.2L72.5 125.3 M105.0 213.2L84.5 213.3L78.0 212.4L73.4 211.2L71.0 209.2L70.5 204.7L67.2 199.7L65.3 195.2L64.0 193.4L63.0 192.6L62.0 192.5L59.5 195.4L58.5 195.6L57.0 194.2L56.2 191.7L54.8 182.2L56.4 175.2L57.0 166.7L56.6 162.7L57.1 160.7L58.0 159.5L59.5 160.9L59.9 162.7L59.5 167.2L62.0 172.1L63.0 172.9L64.5 172.1L68.5 167.0L70.8 162.2L74.0 158.2L76.0 153.8L78.5 149.7L79.6 146.2L79.5 138.7L84.0 131.5L85.0 130.6L92.5 131.0L93.8 131.7L94.9 134.7L94.7 138.7L95.0 140.2L99.1 144.2L104.0 151.5L108.5 159.7L111.2 167.7L113.3 178.7L112.8 194.7L110.1 204.7L109.8 210.2L108.0 212.1L105.0 213.2 M59.0 211.7L57.0 211.6L55.8 210.2L56.1 208.2L58.0 206.5L59.9 207.2L61.2 209.2L60.7 210.7L59.0 211.7 M98.5 124.8L96.5 124.4L93.0 122.0L89.0 120.8L86.0 119.0L82.0 117.9L77.8 114.2L76.7 112.2L83.9 95.7L89.1 85.7L91.0 83.8L95.5 81.0L101.0 79.6L103.0 80.1L104.5 81.0L110.5 87.7L112.2 92.2L113.8 100.2L113.1 102.2L110.3 106.2L107.8 113.2L104.2 119.7L101.5 123.2L98.5 124.8 M105.5 212.8L102.0 213.2L95.0 212.7L84.5 212.9L78.5 212.1L74.0 210.7L72.3 209.2L71.8 205.2L68.2 199.7L66.0 194.5L62.5 188.4L62.0 187.9L61.5 188.3L59.6 191.7L58.5 192.7L57.5 192.1L56.5 189.3L55.3 181.7L57.5 175.2L58.0 170.4L59.0 170.7L60.2 174.2L61.3 175.7L62.5 176.1L64.0 175.5L66.0 173.2L71.7 163.2L77.4 154.7L82.0 150.6L87.0 148.9L87.4 147.7L87.0 146.3L83.9 143.2L83.2 140.2L84.8 135.7L86.0 134.4L87.5 133.7L90.0 133.8L91.9 135.2L92.5 136.7L92.3 140.2L92.7 141.2L96.3 144.2L98.5 148.7L107.0 158.6L108.6 161.7L110.9 168.7L112.8 178.7L112.3 194.7L109.5 204.7L109.2 210.2L107.9 211.7L105.5 212.8 M59.0 211.0L57.5 211.0L56.6 210.2L56.7 208.7L57.5 207.8L58.9 207.7L59.9 208.7L59.9 210.2L59.0 211.0 M99.5 122.9L97.0 122.8L93.7 120.2L90.0 118.8L86.5 116.3L81.5 115.0L79.4 113.2L78.7 111.2L80.9 104.7L84.5 95.7L89.5 86.2L91.5 84.2L95.5 81.8L98.5 80.7L101.0 80.4L103.0 80.9L104.5 82.0L109.8 88.2L111.7 93.2L112.6 99.2L112.1 101.2L109.8 105.2L106.8 113.2L102.0 120.8L99.5 122.9 M89.0 138.0L88.0 137.7L88.0 136.7L88.5 136.4L89.5 136.8L89.5 137.7L89.0 138.0 M104.0 212.7L84.0 212.6L78.6 211.7L74.6 210.2L73.5 208.7L72.8 205.2L68.7 199.2L64.9 190.7L64.0 184.7L62.6 181.2L63.7 178.7L67.0 173.8L72.6 163.7L77.8 156.7L83.0 152.5L87.5 152.0L89.5 151.2L90.9 149.7L91.8 146.7L92.5 145.8L93.5 146.0L94.7 149.7L98.0 153.4L103.5 156.2L107.0 160.0L109.9 167.2L112.1 176.7L112.4 184.2L112.0 194.2L111.1 198.7L108.9 205.2L108.9 209.2L107.5 211.4L104.0 212.7 M58.5 188.5L58.0 188.6L57.0 187.2L55.9 182.2L57.0 178.5L58.0 177.4L59.0 177.2L60.9 178.7L62.4 181.2L58.5 188.5 M99.0 119.4L91.5 116.8L87.0 114.0L82.5 112.5L81.4 111.2L81.2 109.7L82.1 105.2L85.4 95.7L90.2 86.7L92.0 84.9L95.0 83.2L98.5 81.9L101.0 81.6L102.5 81.9L104.3 83.2L109.0 89.1L110.6 93.2L111.1 97.7L110.7 100.2L106.2 111.7L104.5 114.0L99.0 119.4 M104.0 212.2L95.0 211.9L85.0 212.2L80.5 211.5L76.9 210.2L75.5 208.7L74.4 205.2L69.8 199.2L66.1 190.7L65.7 181.2L67.2 176.2L74.5 163.6L80.3 157.7L84.0 154.9L92.5 154.3L96.5 156.8L103.0 157.9L105.0 159.4L106.5 161.2L109.2 167.2L111.7 178.2L111.4 194.7L110.3 199.2L108.0 205.2L107.9 209.7L106.7 211.2L104.0 212.2 M58.5 183.8L57.5 183.7L57.2 182.7L57.3 181.2L58.0 180.4L58.9 180.7L59.2 181.7L58.5 183.8 M98.0 115.3L93.5 114.9L90.0 113.3L84.9 109.7L84.1 108.2L83.9 106.2L86.5 95.7L91.4 87.2L93.0 85.7L95.5 84.4L101.0 83.2L102.5 83.7L104.0 84.9L108.0 90.3L109.3 93.2L109.6 96.7L106.3 107.7L105.0 110.7L101.5 113.9L98.0 115.3 M104.5 211.3L101.5 211.7L94.5 211.1L86.0 211.5L82.5 211.1L79.8 210.2L78.5 209.2L76.4 205.2L71.5 199.6L67.5 191.2L67.1 188.2L67.8 180.2L68.7 176.7L70.8 172.2L76.0 164.7L85.0 158.0L89.0 157.8L95.0 159.4L102.5 160.1L104.5 161.4L106.0 163.1L108.5 168.2L110.9 177.7L111.2 184.7L110.7 194.2L109.5 199.2L106.8 205.2L106.7 209.7L104.5 211.3 M99.0 113.2L94.5 113.4L90.5 111.7L86.7 107.7L86.0 104.2L87.5 95.7L92.0 88.2L95.5 85.7L100.5 84.7L103.0 85.9L107.0 91.2L108.2 93.7L108.4 96.2L104.5 108.8L102.5 111.4L99.0 113.2 M103.5 210.7L101.0 210.8L95.5 210.1L86.0 210.8L81.4 209.7L80.3 208.7L78.2 205.2L72.9 199.7L68.6 191.2L68.1 188.2L69.3 179.2L70.3 175.7L72.0 172.2L74.0 169.1L77.0 165.9L85.5 160.5L88.5 160.2L93.7 161.7L100.5 161.9L103.0 162.6L106.0 165.2L108.5 170.5L110.3 178.2L110.6 185.2L110.0 194.7L108.6 199.7L105.6 205.2L105.5 209.2L104.7 210.2L103.5 210.7 M97.0 112.2L92.5 111.3L90.5 109.9L89.1 108.2L87.6 104.2L87.6 98.7L88.8 94.7L93.0 88.6L96.0 86.7L100.0 86.2L102.5 87.5L106.0 92.0L107.1 94.2L107.2 96.2L104.7 105.2L103.2 108.7L100.5 111.2L97.0 112.2 M102.0 209.7L99.7 209.2L97.0 207.5L89.0 209.7L85.5 209.7L83.0 208.9L80.4 205.7L74.0 199.5L69.5 191.2L69.0 188.2L70.3 179.2L72.5 173.2L74.5 170.1L77.5 167.1L81.0 164.5L85.0 162.4L88.0 161.9L94.5 163.8L103.0 164.4L104.5 165.3L106.0 167.1L108.4 172.2L109.6 176.7L110.1 184.2L109.3 195.2L107.5 200.5L103.6 205.7L103.7 208.7L102.0 209.7 M98.5 110.8L94.5 110.7L91.3 108.7L89.2 104.7L88.5 100.2L89.3 95.7L92.5 90.7L95.0 88.5L98.5 87.6L100.5 88.0L102.5 89.7L105.4 93.2L106.1 95.7L105.7 98.2L103.0 106.5L101.1 109.2L98.5 110.8 M90.0 206.8L87.5 207.0L83.5 205.9L78.0 202.1L73.3 196.7L70.6 191.7L69.9 189.2L71.5 177.7L74.0 172.3L76.5 169.4L80.5 166.1L84.0 164.2L87.0 163.4L89.0 163.5L95.5 165.7L102.5 165.8L104.5 166.9L106.5 169.7L108.5 174.2L109.6 183.7L108.7 195.7L107.7 198.7L106.0 201.5L102.5 204.1L95.5 204.4L90.0 206.8 M98.5 109.3L95.5 109.6L92.5 107.8L90.5 104.2L89.7 100.2L90.0 96.7L92.2 92.7L94.5 90.2L97.5 89.2L99.5 89.5L102.0 91.2L104.2 93.7L104.9 96.2L102.2 105.2L100.5 107.9L98.5 109.3 M90.0 204.3L83.5 204.1L79.8 202.2L74.5 196.5L71.9 192.2L70.9 189.2L72.4 178.2L74.5 173.3L77.0 170.3L80.5 167.4L83.5 165.6L86.5 164.8L89.0 165.0L95.5 167.4L101.5 167.2L104.0 168.2L106.0 170.6L107.8 174.2L109.1 183.7L108.1 195.2L107.1 198.2L105.5 200.7L102.5 202.6L96.0 202.7L90.0 204.3 M98.0 107.8L95.5 107.9L93.5 106.5L91.7 103.2L91.0 99.7L91.3 96.7L92.7 93.7L94.5 91.7L97.0 90.7L99.0 91.0L101.0 92.2L102.9 94.2L103.6 96.2L103.2 98.7L101.2 104.2L99.6 106.7L98.0 107.8 M90.0 202.7L84.0 202.8L80.5 201.2L75.2 195.7L72.8 191.7L72.0 189.2L73.3 178.7L75.0 174.4L77.1 171.7L80.5 168.6L83.5 166.9L86.5 166.1L89.0 166.4L95.5 169.0L101.5 168.8L104.0 169.9L106.0 172.2L107.2 174.7L108.5 183.7L107.5 194.8L106.5 197.7L105.0 199.8L102.5 201.3L96.5 201.1L90.0 202.7 M97.0 106.2L95.5 105.9L93.9 104.2L92.7 101.7L92.3 98.7L92.7 96.2L94.0 93.8L95.5 92.5L97.5 92.1L100.8 93.7L101.9 95.2L102.3 96.7L101.7 99.2L99.5 104.2L98.5 105.5L97.0 106.2 M88.5 201.8L84.0 201.7L80.5 199.8L75.3 194.2L73.7 191.2L73.0 188.7L74.2 178.7L75.6 175.2L78.0 172.2L81.0 169.4L83.5 167.9L86.5 167.2L89.0 167.6L95.5 170.4L101.5 170.3L104.0 171.3L105.5 172.8L106.7 175.2L108.1 184.2L106.9 194.7L106.0 197.0L104.5 199.0L102.5 200.0L96.5 199.7L88.5 201.8 M96.5 103.2L95.5 102.7L94.5 101.1L94.0 97.2L95.0 94.7L96.0 93.9L97.5 93.7L100.0 95.1L100.6 97.2L98.0 102.4L96.5 103.2 M88.0 200.7L83.5 200.4L80.0 198.0L75.7 193.2L74.5 190.7L73.9 188.2L75.0 179.2L76.4 175.7L81.4 170.2L83.5 169.0L86.0 168.3L89.0 168.8L96.0 171.8L101.5 171.6L104.0 172.6L106.1 175.7L107.6 184.2L106.3 194.2L105.5 196.2L104.0 198.0L102.0 198.8L96.0 198.4L88.0 200.7 M87.5 199.7L84.5 199.7L82.0 198.5L78.0 194.9L75.6 191.2L75.0 189.2L74.9 186.7L75.9 179.2L77.1 176.2L81.5 171.3L83.5 170.0L85.5 169.4L89.0 169.8L96.0 173.0L101.5 172.8L103.5 173.4L104.9 174.7L105.6 176.2L107.1 184.2L106.0 192.6L105.0 195.4L104.0 196.6L102.5 197.4L96.0 196.9L87.5 199.7 M87.0 198.3L84.5 198.1L82.0 196.8L78.6 193.7L76.7 190.7L76.1 188.2L76.2 185.7L77.1 179.2L78.5 176.2L82.5 172.2L86.0 170.7L89.0 171.3L96.0 174.8L101.5 174.5L103.5 175.2L104.7 177.2L106.4 184.7L105.2 191.7L104.2 194.2L103.0 195.3L101.5 195.7L96.5 194.5L95.0 194.5L90.4 197.2L87.0 198.3 M87.0 196.8L84.9 196.7L82.5 195.6L79.5 193.0L77.7 190.2L77.2 187.2L77.8 181.7L78.4 178.7L79.5 176.7L83.5 173.0L86.5 172.0L89.0 172.6L96.0 176.4L101.5 176.1L103.0 176.7L105.0 181.3L105.7 184.7L104.5 190.7L103.5 192.9L102.5 193.7L101.0 193.9L97.0 192.0L95.5 191.9L93.5 192.8L89.5 195.9L87.0 196.8 M87.0 195.3L85.0 195.3L82.5 194.0L79.9 191.7L78.5 189.2L78.2 186.2L78.9 180.7L79.5 178.7L80.9 176.7L84.5 173.9L87.0 173.3L89.5 174.1L96.5 178.4L101.0 177.9L102.5 178.6L104.5 182.2L104.9 184.7L104.5 187.3L102.9 191.2L102.0 191.9L101.0 191.9L98.0 189.6L96.5 189.5L93.5 191.0L89.0 194.5L87.0 195.3 M87.5 193.9L85.5 194.1L83.3 193.2L80.5 190.8L79.3 188.7L78.9 185.7L79.6 181.2L80.5 178.7L82.0 177.0L85.0 174.8L87.5 174.4L91.1 176.2L97.5 182.0L100.5 180.0L101.5 180.0L102.5 180.7L103.7 182.7L104.1 184.7L103.5 187.1L102.5 188.8L102.0 189.2L101.0 188.9L98.5 185.6L97.5 185.4L94.2 189.2L87.5 193.9 M87.5 192.7L85.0 192.7L82.3 191.2L80.2 188.7L79.6 186.2L80.1 182.2L81.2 179.2L84.5 176.3L87.0 175.4L89.5 176.2L92.5 178.7L94.3 181.2L95.1 184.2L94.8 186.2L93.6 188.2L90.0 191.3L87.5 192.7 M102.0 184.7L102.0 183.6L102.0 184.7 M87.5 190.4L85.5 190.5L83.0 189.3L81.5 187.5L81.0 185.2L81.5 182.6L83.0 180.2L85.5 178.4L87.5 178.0L89.4 178.7L90.9 180.2L92.0 182.2L92.4 184.2L92.0 186.2L91.1 187.7L87.5 190.4" fill="none" stroke="#222" stroke-width="0.8"/>
</g>
<path d="M55.5 39.7H229V212" fill="none" stroke="#aaa" stroke-width="1"/>
<path d="M55.5 39.7V212H229" fill="none" stroke="#555" stroke-width="1.1"/>
<path d="M51.0 212.0H55.5M55.5 212V216M53.5 199.0H55.5M68.6 212V214M53.5 191.4H55.5M76.2 212V214M53.5 186.1H55.5M81.6 212V214M53.5 181.9H55.5M85.8 212V214M53.5 178.5H55.5M89.3 212V214M53.5 175.6H55.5M92.2 212V214M53.5 173.1H55.5M94.7 212V214M53.5 170.9H55.5M96.9 212V214M51.0 168.9H55.5M98.9 212V216M53.5 156.0H55.5M111.9 212V214M53.5 148.4H55.5M119.6 212V214M53.5 143.0H55.5M125.0 212V214M53.5 138.8H55.5M129.2 212V214M53.5 135.4H55.5M132.6 212V214M53.5 132.5H55.5M135.5 212V214M53.5 130.0H55.5M138.0 212V214M53.5 127.8H55.5M140.3 212V214M51.0 125.8H55.5M142.2 212V216M53.5 112.9H55.5M155.3 212V214M53.5 105.3H55.5M162.9 212V214M53.5 99.9H55.5M168.4 212V214M53.5 95.7H55.5M172.6 212V214M53.5 92.3H55.5M176.0 212V214M53.5 89.4H55.5M178.9 212V214M53.5 86.9H55.5M181.4 212V214M53.5 84.7H55.5M183.6 212V214M51.0 82.8H55.5M185.6 212V216M53.5 69.8H55.5M198.7 212V214M53.5 62.2H55.5M206.3 212V214M53.5 56.8H55.5M211.7 212V214M53.5 52.7H55.5M215.9 212V214M53.5 49.3H55.5M219.4 212V214M53.5 46.4H55.5M222.3 212V214M53.5 43.9H55.5M224.8 212V214M53.5 41.7H55.5M227.0 212V214M51.0 39.7H55.5M229.0 212V216" stroke="#444" stroke-width="0.8" fill="none"/>
<rect x="126.4" y="58.3" width="88.79999999999998" height="72.7" fill="none" stroke="#222" stroke-width="1"/>
<text x="211.39999999999998" y="74.3" font-size="14.8" text-anchor="end">5.52</text>
<clipPath id="c220"><rect x="55.5" y="220.5" width="173.5" height="171.5"/></clipPath>
<g clip-path="url(#c220)">
<path d="M102 234h1v1h-1zM104 234h1v1h-1zM102 236h1v1h-1zM104 236h1v1h-1zM104 237h1v1h-1zM106 237h1v1h-1zM104 238h1v1h-1zM108 238h1v1h-1zM87 240h1v1h-1zM118 241h1v1h-1zM114 243h1v1h-1zM116 243h1v1h-1zM118 243h1v1h-1zM116 244h1v1h-1zM115 245h1v1h-1zM117 245h1v1h-1zM121 247h1v1h-1zM121 249h1v1h-1zM177 252h1v1h-1zM149 253h1v1h-1zM169 255h1v1h-1zM81 256h1v1h-1zM161 263h1v1h-1zM159 264h1v1h-1zM161 265h1v1h-1zM163 265h1v1h-1zM135 266h1v1h-1zM137 266h1v1h-1zM150 266h1v1h-1zM157 266h1v1h-1zM161 266h2v1h-2zM170 266h1v1h-1zM126 267h1v1h-1zM138 267h1v1h-1zM147 267h1v1h-1zM159 267h1v1h-1zM161 267h1v1h-1zM167 267h2v1h-2zM126 268h1v1h-1zM133 268h1v1h-1zM135 268h1v1h-1zM159 268h1v1h-1zM125 269h1v1h-1zM133 269h1v1h-1zM135 269h1v1h-1zM144 269h2v1h-2zM157 269h1v1h-1zM168 269h1v1h-1zM183 269h2v1h-2zM125 270h1v1h-1zM127 270h1v1h-1zM143 270h2v1h-2zM159 270h1v1h-1zM177 270h1v1h-1zM182 270h1v1h-1zM72 271h1v1h-1zM145 271h2v1h-2zM177 271h1v1h-1zM71 272h1v1h-1zM176 272h1v1h-1zM177 273h1v1h-1zM186 273h2v1h-2zM171 274h1v1h-1zM173 274h1v1h-1zM187 274h1v1h-1zM154 275h1v1h-1zM162 275h1v1h-1zM173 275h1v1h-1zM187 275h1v1h-1zM127 276h1v1h-1zM156 276h1v1h-1zM170 276h2v1h-2zM188 276h2v1h-2zM201 276h2v1h-2zM171 277h1v1h-1zM201 277h1v1h-1zM131 278h1v1h-1zM169 278h1v1h-1zM203 278h1v1h-1zM63 279h1v1h-1zM156 279h1v1h-1zM182 282h1v1h-1zM157 283h2v1h-2zM182 283h1v1h-1zM156 285h1v1h-1zM158 285h1v1h-1zM177 288h1v1h-1zM162 289h1v1h-1zM64 290h1v1h-1zM64 291h1v1h-1zM63 292h1v1h-1zM123 292h1v1h-1zM63 293h1v1h-1zM123 293h1v1h-1zM125 293h1v1h-1zM60 294h2v1h-2zM124 295h1v1h-1zM60 296h1v1h-1zM62 296h1v1h-1zM61 297h1v1h-1zM121 298h1v1h-1zM123 299h1v1h-1zM122 300h1v1h-1zM120 302h1v1h-1zM132 302h1v1h-1zM120 303h1v1h-1zM120 304h1v1h-1zM118 305h1v1h-1zM118 306h1v1h-1zM118 307h1v1h-1zM118 308h1v1h-1zM122 312h1v1h-1zM121 314h1v1h-1zM138 314h1v1h-1zM120 316h1v1h-1zM127 316h1v1h-1zM119 317h1v1h-1zM135 317h1v1h-1zM123 322h1v1h-1zM121 323h1v1h-1zM124 323h1v1h-1zM122 324h1v1h-1zM124 324h1v1h-1zM123 325h1v1h-1zM125 325h1v1h-1zM127 326h1v1h-1zM124 328h1v1h-1zM126 328h1v1h-1zM120 329h1v1h-1zM126 329h1v1h-1zM124 330h2v1h-2zM130 332h1v1h-1zM123 333h1v1h-1zM129 333h1v1h-1zM131 333h1v1h-1zM123 334h1v1h-1zM127 334h1v1h-1zM131 334h2v1h-2zM123 335h1v1h-1zM125 335h1v1h-1zM130 335h1v1h-1zM132 335h1v1h-1zM135 335h1v1h-1zM122 336h1v1h-1zM126 336h1v1h-1zM130 336h1v1h-1zM120 337h1v1h-1zM122 337h1v1h-1zM134 337h1v1h-1zM136 337h1v1h-1zM121 339h1v1h-1zM123 339h1v1h-1zM138 339h1v1h-1zM139 340h2v1h-2zM121 341h1v1h-1zM123 341h1v1h-1zM125 341h1v1h-1zM121 342h1v1h-1zM141 342h1v1h-1zM123 343h1v1h-1zM126 343h1v1h-1zM140 343h1v1h-1zM133 344h1v1h-1zM126 345h1v1h-1zM128 345h1v1h-1zM137 345h1v1h-1zM139 345h1v1h-1zM135 346h1v1h-1zM139 346h1v1h-1zM141 346h1v1h-1zM160 346h1v1h-1zM127 347h1v1h-1zM130 347h1v1h-1zM125 348h1v1h-1zM127 348h2v1h-2zM139 348h1v1h-1zM128 349h1v1h-1zM130 349h1v1h-1zM140 349h1v1h-1zM127 350h1v1h-1zM138 350h1v1h-1zM141 350h1v1h-1zM139 351h1v1h-1zM131 354h1v1h-1zM131 355h1v1h-1zM133 356h1v1h-1zM141 356h1v1h-1zM127 357h2v1h-2zM146 357h1v1h-1zM127 358h1v1h-1zM130 358h2v1h-2zM136 358h1v1h-1zM142 358h1v1h-1zM128 359h1v1h-1zM145 359h1v1h-1zM129 360h1v1h-1zM136 360h1v1h-1zM137 361h1v1h-1zM128 362h1v1h-1zM136 362h1v1h-1zM139 362h1v1h-1zM135 363h1v1h-1zM137 363h1v1h-1zM129 364h1v1h-1zM136 364h1v1h-1zM127 366h1v1h-1zM129 366h1v1h-1zM156 366h1v1h-1zM128 367h1v1h-1zM133 367h2v1h-2zM136 367h1v1h-1zM128 368h1v1h-1zM131 368h1v1h-1zM133 368h1v1h-1zM132 369h1v1h-1zM134 369h1v1h-1zM137 369h1v1h-1zM139 369h1v1h-1zM126 370h1v1h-1zM130 370h1v1h-1zM132 370h1v1h-1zM135 370h1v1h-1zM137 370h1v1h-1zM126 374h1v1h-1zM128 374h2v1h-2zM131 374h2v1h-2zM127 375h1v1h-1zM129 375h1v1h-1zM130 376h1v1h-1zM120 380h2v1h-2zM123 381h1v1h-1zM122 382h1v1h-1zM123 383h1v1h-1zM123 384h1v1h-1zM127 389h3v1h-3zM128 390h2v1h-2zM131 390h1v1h-1zM133 390h1v1h-1zM140 390h3v1h-3zM144 390h1v1h-1zM125 391h1v1h-1zM127 391h2v1h-2zM131 391h1v1h-1zM133 391h1v1h-1zM142 391h2v1h-2z" fill="#333"/>
<path d="M158 221h1v1h-1zM108 222h1v1h-1zM185 223h1v1h-1zM109 225h1v1h-1zM147 225h1v1h-1zM68 229h1v1h-1zM101 229h1v1h-1zM124 229h1v1h-1zM105 230h1v1h-1zM127 231h1v1h-1zM97 232h1v1h-1zM123 232h1v1h-1zM103 233h1v1h-1zM106 233h1v1h-1zM115 233h1v1h-1zM118 234h1v1h-1zM154 234h1v1h-1zM184 236h1v1h-1zM89 237h1v1h-1zM63 238h1v1h-1zM97 239h1v1h-1zM99 239h1v1h-1zM126 239h1v1h-1zM96 240h1v1h-1zM102 240h2v1h-2zM106 240h1v1h-1zM109 240h1v1h-1zM113 240h1v1h-1zM117 240h1v1h-1zM177 240h1v1h-1zM195 240h1v1h-1zM85 241h1v1h-1zM124 241h1v1h-1zM176 241h1v1h-1zM80 242h1v1h-1zM88 242h2v1h-2zM124 242h1v1h-1zM129 242h1v1h-1zM94 243h1v1h-1zM97 243h1v1h-1zM145 243h1v1h-1zM186 243h1v1h-1zM71 244h1v1h-1zM84 244h1v1h-1zM94 244h1v1h-1zM113 244h1v1h-1zM202 244h1v1h-1zM123 245h1v1h-1zM126 245h1v1h-1zM165 245h1v1h-1zM87 246h2v1h-2zM91 246h1v1h-1zM163 247h1v1h-1zM75 248h1v1h-1zM84 248h1v1h-1zM123 248h1v1h-1zM70 249h1v1h-1zM82 249h1v1h-1zM126 249h1v1h-1zM137 249h1v1h-1zM81 250h1v1h-1zM205 250h1v1h-1zM78 251h1v1h-1zM121 251h1v1h-1zM133 251h1v1h-1zM149 251h2v1h-2zM155 251h1v1h-1zM179 251h1v1h-1zM86 252h1v1h-1zM170 252h1v1h-1zM175 252h1v1h-1zM196 252h1v1h-1zM69 253h1v1h-1zM76 253h1v1h-1zM79 253h1v1h-1zM135 253h1v1h-1zM164 253h1v1h-1zM123 254h1v1h-1zM126 254h1v1h-1zM157 254h1v1h-1zM167 254h1v1h-1zM178 254h1v1h-1zM205 254h1v1h-1zM80 255h1v1h-1zM83 255h1v1h-1zM142 255h1v1h-1zM148 255h1v1h-1zM154 255h1v1h-1zM167 255h1v1h-1zM198 255h1v1h-1zM122 256h1v1h-1zM149 256h1v1h-1zM170 256h1v1h-1zM178 256h1v1h-1zM184 256h1v1h-1zM124 257h1v1h-1zM164 257h1v1h-1zM204 257h1v1h-1zM80 258h1v1h-1zM154 258h1v1h-1zM168 258h1v1h-1zM200 258h1v1h-1zM79 259h1v1h-1zM123 259h1v1h-1zM134 259h1v1h-1zM157 259h1v1h-1zM170 259h1v1h-1zM178 259h1v1h-1zM181 259h2v1h-2zM123 260h1v1h-1zM171 260h1v1h-1zM201 260h1v1h-1zM134 261h1v1h-1zM158 261h1v1h-1zM202 261h1v1h-1zM132 262h1v1h-1zM177 262h1v1h-1zM182 262h1v1h-1zM191 262h1v1h-1zM204 262h1v1h-1zM222 262h1v1h-1zM124 263h1v1h-1zM151 263h1v1h-1zM180 263h1v1h-1zM194 263h1v1h-1zM215 263h1v1h-1zM158 264h1v1h-1zM166 264h1v1h-1zM169 264h1v1h-1zM182 264h1v1h-1zM186 264h1v1h-1zM202 264h1v1h-1zM71 265h1v1h-1zM145 265h1v1h-1zM172 265h1v1h-1zM174 265h1v1h-1zM197 265h1v1h-1zM66 266h1v1h-1zM77 266h1v1h-1zM124 266h1v1h-1zM140 266h1v1h-1zM148 266h1v1h-1zM151 266h1v1h-1zM179 266h1v1h-1zM186 266h1v1h-1zM58 267h1v1h-1zM75 267h1v1h-1zM128 267h1v1h-1zM140 267h1v1h-1zM151 267h1v1h-1zM191 267h1v1h-1zM211 267h1v1h-1zM217 267h1v1h-1zM173 268h1v1h-1zM194 268h1v1h-1zM200 268h1v1h-1zM208 268h1v1h-1zM220 268h1v1h-1zM75 269h1v1h-1zM165 269h1v1h-1zM173 269h1v1h-1zM177 269h1v1h-1zM198 269h1v1h-1zM213 269h1v1h-1zM130 270h1v1h-1zM151 270h1v1h-1zM160 270h1v1h-1zM170 270h1v1h-1zM181 270h1v1h-1zM186 270h1v1h-1zM195 270h1v1h-1zM206 270h1v1h-1zM57 271h1v1h-1zM65 271h1v1h-1zM71 271h1v1h-1zM74 271h1v1h-1zM131 271h1v1h-1zM148 271h1v1h-1zM153 271h1v1h-1zM189 271h1v1h-1zM135 272h1v1h-1zM173 272h1v1h-1zM190 272h1v1h-1zM208 272h1v1h-1zM67 273h1v1h-1zM179 273h1v1h-1zM196 273h1v1h-1zM203 273h1v1h-1zM213 273h1v1h-1zM73 274h1v1h-1zM145 274h1v1h-1zM151 274h1v1h-1zM156 274h1v1h-1zM163 274h1v1h-1zM167 274h1v1h-1zM182 274h1v1h-1zM139 275h1v1h-1zM153 275h1v1h-1zM183 275h1v1h-1zM193 275h1v1h-1zM215 275h1v1h-1zM72 276h1v1h-1zM129 276h1v1h-1zM165 276h1v1h-1zM180 276h1v1h-1zM192 276h1v1h-1zM125 277h1v1h-1zM157 277h1v1h-1zM160 277h2v1h-2zM198 277h1v1h-1zM57 278h1v1h-1zM64 278h1v1h-1zM70 278h1v1h-1zM126 278h1v1h-1zM189 278h1v1h-1zM205 278h1v1h-1zM65 279h1v1h-1zM129 279h1v1h-1zM144 279h1v1h-1zM150 279h1v1h-1zM177 279h1v1h-1zM183 279h1v1h-1zM57 280h1v1h-1zM129 280h1v1h-1zM158 280h1v1h-1zM180 280h1v1h-1zM211 280h1v1h-1zM59 281h1v1h-1zM62 281h1v1h-1zM152 281h1v1h-1zM155 281h1v1h-1zM172 281h1v1h-1zM178 281h1v1h-1zM220 281h1v1h-1zM69 282h1v1h-1zM163 282h1v1h-1zM171 282h1v1h-1zM136 283h1v1h-1zM181 283h1v1h-1zM184 283h1v1h-1zM203 283h1v1h-1zM68 284h2v1h-2zM126 284h1v1h-1zM143 284h1v1h-1zM170 284h1v1h-1zM178 284h1v1h-1zM60 285h1v1h-1zM63 285h1v1h-1zM136 285h1v1h-1zM149 285h1v1h-1zM164 285h1v1h-1zM169 285h1v1h-1zM228 285h1v1h-1zM136 286h1v1h-1zM163 286h1v1h-1zM199 286h1v1h-1zM126 287h1v1h-1zM131 287h2v1h-2zM179 287h1v1h-1zM197 287h1v1h-1zM132 288h1v1h-1zM135 288h1v1h-1zM155 288h1v1h-1zM164 288h1v1h-1zM171 288h1v1h-1zM189 288h1v1h-1zM66 289h1v1h-1zM150 289h1v1h-1zM188 289h1v1h-1zM197 289h1v1h-1zM56 290h1v1h-1zM125 290h1v1h-1zM161 290h1v1h-1zM177 290h2v1h-2zM56 291h1v1h-1zM160 291h1v1h-1zM205 291h1v1h-1zM197 292h1v1h-1zM128 293h1v1h-1zM131 293h1v1h-1zM140 293h1v1h-1zM166 293h1v1h-1zM172 293h1v1h-1zM176 293h1v1h-1zM154 294h1v1h-1zM164 294h1v1h-1zM195 294h1v1h-1zM204 294h1v1h-1zM131 295h2v1h-2zM146 295h1v1h-1zM125 296h1v1h-1zM172 296h1v1h-1zM121 297h1v1h-1zM155 297h1v1h-1zM198 297h1v1h-1zM56 299h1v1h-1zM60 299h1v1h-1zM127 299h1v1h-1zM61 300h1v1h-1zM130 300h1v1h-1zM134 300h1v1h-1zM141 300h1v1h-1zM154 301h1v1h-1zM60 302h1v1h-1zM123 302h1v1h-1zM135 302h1v1h-1zM141 302h1v1h-1zM147 302h1v1h-1zM57 303h1v1h-1zM132 303h1v1h-1zM123 304h1v1h-1zM126 304h1v1h-1zM131 305h1v1h-1zM138 305h1v1h-1zM149 305h1v1h-1zM160 305h1v1h-1zM148 307h1v1h-1zM129 308h1v1h-1zM154 308h1v1h-1zM117 309h1v1h-1zM130 310h1v1h-1zM147 310h1v1h-1zM178 310h1v1h-1zM123 311h2v1h-2zM138 311h1v1h-1zM136 312h1v1h-1zM139 312h1v1h-1zM116 313h1v1h-1zM123 314h1v1h-1zM126 314h1v1h-1zM129 314h1v1h-1zM132 314h1v1h-1zM129 315h1v1h-1zM133 315h1v1h-1zM137 315h1v1h-1zM166 315h1v1h-1zM143 316h1v1h-1zM118 317h1v1h-1zM141 317h1v1h-1zM121 318h1v1h-1zM129 318h1v1h-1zM133 318h1v1h-1zM135 318h1v1h-1zM148 318h2v1h-2zM153 318h1v1h-1zM158 318h1v1h-1zM159 319h1v1h-1zM124 320h2v1h-2zM147 320h1v1h-1zM128 321h1v1h-1zM131 321h1v1h-1zM135 321h1v1h-1zM153 322h1v1h-1zM169 322h1v1h-1zM193 322h1v1h-1zM144 324h1v1h-1zM155 325h1v1h-1zM129 326h1v1h-1zM134 326h1v1h-1zM120 327h1v1h-1zM135 327h1v1h-1zM138 327h1v1h-1zM155 327h1v1h-1zM207 327h1v1h-1zM121 328h1v1h-1zM179 328h1v1h-1zM193 328h1v1h-1zM138 329h1v1h-1zM146 329h1v1h-1zM149 329h1v1h-1zM131 330h1v1h-1zM138 330h1v1h-1zM161 330h1v1h-1zM118 331h1v1h-1zM120 332h1v1h-1zM134 332h1v1h-1zM137 332h1v1h-1zM153 332h1v1h-1zM160 332h1v1h-1zM137 333h1v1h-1zM142 333h1v1h-1zM164 334h1v1h-1zM148 335h1v1h-1zM173 335h1v1h-1zM157 336h1v1h-1zM162 336h1v1h-1zM126 337h1v1h-1zM142 337h1v1h-1zM144 337h1v1h-1zM129 338h1v1h-1zM147 338h1v1h-1zM153 338h1v1h-1zM199 338h1v1h-1zM117 339h1v1h-1zM133 339h1v1h-1zM126 340h1v1h-1zM150 340h1v1h-1zM155 340h1v1h-1zM156 342h1v1h-1zM150 343h1v1h-1zM129 344h1v1h-1zM131 344h1v1h-1zM153 344h1v1h-1zM158 344h1v1h-1zM134 345h1v1h-1zM142 345h1v1h-1zM170 345h1v1h-1zM152 346h1v1h-1zM161 346h1v1h-1zM191 346h1v1h-1zM122 347h1v1h-1zM160 347h1v1h-1zM134 348h1v1h-1zM143 348h1v1h-1zM177 348h1v1h-1zM182 348h1v1h-1zM134 349h1v1h-1zM149 350h1v1h-1zM142 351h1v1h-1zM166 351h1v1h-1zM145 352h1v1h-1zM215 352h1v1h-1zM127 353h1v1h-1zM132 353h1v1h-1zM149 353h1v1h-1zM157 354h1v1h-1zM161 354h1v1h-1zM153 355h2v1h-2zM159 355h1v1h-1zM136 356h1v1h-1zM140 356h1v1h-1zM143 356h1v1h-1zM147 356h1v1h-1zM154 356h1v1h-1zM136 357h1v1h-1zM148 357h1v1h-1zM172 357h1v1h-1zM151 358h1v1h-1zM143 359h1v1h-1zM162 359h1v1h-1zM177 359h1v1h-1zM132 360h1v1h-1zM147 360h1v1h-1zM163 360h1v1h-1zM174 360h1v1h-1zM129 363h1v1h-1zM141 364h1v1h-1zM145 364h1v1h-1zM154 364h1v1h-1zM157 364h1v1h-1zM173 364h1v1h-1zM125 365h1v1h-1zM139 365h1v1h-1zM147 366h1v1h-1zM169 366h1v1h-1zM157 367h1v1h-1zM125 368h1v1h-1zM141 368h1v1h-1zM153 368h1v1h-1zM143 369h1v1h-1zM165 369h1v1h-1zM178 370h1v1h-1zM127 371h1v1h-1zM143 372h1v1h-1zM157 372h1v1h-1zM203 372h1v1h-1zM132 373h1v1h-1zM182 373h1v1h-1zM125 374h1v1h-1zM140 374h1v1h-1zM164 374h1v1h-1zM135 375h1v1h-1zM165 375h1v1h-1zM134 376h1v1h-1zM163 376h1v1h-1zM159 377h1v1h-1zM122 378h1v1h-1zM127 379h1v1h-1zM154 379h1v1h-1zM167 379h1v1h-1zM205 379h1v1h-1zM143 380h1v1h-1zM149 380h1v1h-1zM119 381h1v1h-1zM133 381h1v1h-1zM145 381h1v1h-1zM155 381h1v1h-1zM160 381h1v1h-1zM142 383h1v1h-1zM149 383h1v1h-1zM153 383h1v1h-1zM157 384h1v1h-1zM118 385h1v1h-1zM123 385h1v1h-1zM132 385h2v1h-2zM127 386h1v1h-1zM148 387h1v1h-1zM182 388h1v1h-1zM123 390h1v1h-1zM137 390h2v1h-2zM146 390h1v1h-1zM148 390h1v1h-1zM155 390h1v1h-1zM123 391h1v1h-1zM152 391h1v1h-1z" fill="#666"/>
<path d="M91.0 397.5L78.5 397.4L64.5 396.1L57.0 396.7L53.5 395.5L51.4 393.0L50.6 390.0L51.4 380.0L51.0 362.5L51.5 346.5L53.0 325.5L54.3 317.5L54.6 312.0L55.7 306.0L57.0 304.3L60.7 302.5L62.1 301.0L64.2 292.5L65.5 290.5L68.6 287.5L71.6 282.0L72.5 279.6L73.4 273.5L76.0 269.1L80.5 259.4L82.4 257.0L85.7 254.0L87.7 249.5L89.5 247.5L95.5 245.4L105.0 240.7L107.0 240.4L110.5 241.8L118.5 247.8L120.1 249.5L121.3 253.0L122.4 264.5L125.1 270.0L124.7 275.5L126.0 279.5L126.0 282.5L123.2 288.5L120.7 298.5L117.1 305.5L116.6 307.5L116.5 319.0L117.5 320.7L121.4 324.0L121.7 325.5L121.0 327.0L117.1 331.0L116.0 333.5L115.7 335.5L116.5 338.0L119.3 341.0L119.4 346.0L120.1 347.5L122.5 348.9L124.5 349.0L127.0 348.3L127.5 349.0L126.1 353.5L126.8 358.5L126.7 362.0L124.2 366.0L125.9 371.5L125.4 373.0L121.5 377.0L118.0 382.5L118.0 385.0L120.5 389.5L120.2 391.0L119.0 392.3L113.5 394.8L107.0 396.8L102.0 397.4L91.0 397.5 M90.0 396.0L78.0 395.8L64.5 393.9L57.5 394.9L55.5 394.5L53.6 393.0L52.8 391.5L52.5 389.5L53.6 382.5L53.1 363.5L53.8 347.0L57.2 326.0L58.0 323.8L59.5 322.5L61.0 322.7L62.0 324.0L62.0 325.5L60.6 329.0L60.4 331.0L63.9 340.0L65.5 341.9L67.0 342.5L69.0 342.0L70.4 340.5L71.0 338.0L70.7 333.5L70.0 330.9L67.7 325.5L67.5 321.5L69.9 312.0L71.0 299.5L73.4 294.5L74.0 289.5L76.1 284.5L78.1 275.5L82.4 266.5L89.0 257.2L95.0 252.1L101.0 249.8L104.0 249.5L106.0 250.2L110.5 253.1L112.9 255.5L113.8 258.0L114.9 265.0L116.8 270.5L114.8 285.5L111.9 295.0L109.0 300.6L108.2 303.0L110.5 316.0L110.4 318.5L109.5 320.6L106.7 324.0L106.2 325.5L106.6 327.5L109.6 333.5L110.1 340.5L111.9 345.5L114.0 355.0L115.5 372.5L113.1 384.0L114.4 390.0L113.5 391.5L111.7 393.0L106.5 395.2L102.0 395.8L90.0 396.0 M103.0 395.0L80.5 395.3L74.5 394.7L64.5 392.8L57.5 394.1L56.0 393.7L54.5 392.7L53.4 390.0L54.9 383.0L54.1 363.0L55.1 347.5L56.0 343.7L57.5 340.1L58.0 339.5L59.0 339.8L61.4 343.0L63.0 348.6L64.5 350.1L66.0 349.5L68.5 347.0L72.0 344.7L73.3 343.0L76.8 330.5L76.5 329.0L74.0 325.0L73.3 322.0L75.0 311.0L74.9 302.5L76.9 296.0L77.3 291.0L78.8 286.5L79.2 281.0L80.7 275.0L83.6 268.5L90.0 259.0L95.5 255.2L100.0 253.3L102.5 252.8L104.5 253.1L106.5 254.1L109.1 256.0L110.7 258.0L112.4 263.0L113.9 273.0L113.4 280.0L112.5 285.0L105.1 301.5L104.3 308.0L101.1 318.0L100.7 321.5L98.4 324.0L97.8 325.5L98.5 327.0L102.0 327.9L103.6 330.0L104.2 334.5L106.8 339.0L111.2 351.5L113.0 364.0L113.3 374.5L111.5 384.6L112.3 389.0L112.1 390.5L111.0 392.0L108.8 393.5L103.0 395.0 M88.0 395.0L77.0 394.6L64.5 391.8L59.5 393.3L57.5 393.5L56.0 393.1L54.8 392.0L54.1 390.5L54.1 389.0L55.9 384.5L56.2 382.5L54.9 363.5L56.0 355.5L56.2 348.5L57.5 345.1L58.5 344.8L59.0 345.2L60.7 349.5L61.9 356.5L63.0 357.7L64.0 357.3L69.0 349.9L74.5 345.0L77.5 337.6L80.7 333.0L82.1 329.0L84.8 326.0L84.4 325.0L82.5 323.5L81.0 323.1L79.0 323.3L78.4 322.5L79.2 318.5L77.8 305.5L79.0 300.0L79.2 293.0L80.5 287.0L80.8 281.5L82.1 275.5L84.4 269.5L90.5 260.2L93.0 258.2L96.5 256.3L100.0 255.1L103.0 254.8L105.5 255.6L108.0 257.4L109.7 259.5L110.8 262.0L112.6 272.5L111.9 281.0L110.9 284.5L108.7 289.0L107.0 294.0L103.7 300.0L101.7 305.5L99.7 309.5L96.9 317.5L92.5 324.7L91.0 325.7L87.5 326.5L87.4 327.0L88.5 328.0L92.4 330.0L95.5 333.5L99.0 335.1L101.3 337.5L104.5 339.9L106.0 341.9L109.0 348.0L110.7 354.0L112.1 365.5L112.2 375.5L110.6 385.0L111.2 389.5L110.8 391.0L109.3 392.5L105.0 394.3L101.5 394.7L88.0 395.0 M89.5 323.0L85.9 322.0L84.2 320.5L83.6 319.0L84.3 317.5L88.0 315.5L88.6 313.5L88.1 312.0L86.5 310.8L82.5 310.2L81.0 308.7L80.4 307.0L80.5 305.4L82.0 301.5L80.4 294.0L82.0 280.0L84.5 271.0L90.5 261.2L93.0 259.1L97.0 257.0L100.5 256.0L103.5 256.0L105.5 256.8L107.8 258.5L110.2 262.5L111.8 272.5L111.2 280.0L106.3 293.5L98.6 307.0L95.0 316.6L91.6 322.0L89.5 323.0 M93.5 394.5L84.5 394.8L77.5 394.4L71.5 393.2L64.5 391.0L59.5 392.9L57.5 393.1L55.3 392.0L54.5 390.0L55.1 387.5L58.0 383.2L61.3 385.5L63.0 386.2L64.3 385.5L64.8 384.0L64.4 381.5L63.0 379.0L62.0 378.6L61.0 379.0L58.5 381.7L58.0 381.7L56.9 378.5L55.5 363.0L57.1 355.5L57.7 349.0L58.0 348.6L58.5 348.8L59.0 349.8L59.5 355.5L60.3 358.0L62.0 360.4L63.5 360.9L65.0 359.2L69.2 351.5L75.0 346.3L79.5 338.2L82.9 335.0L85.0 331.6L86.0 331.2L89.2 332.5L92.0 336.0L93.5 337.2L98.0 339.5L103.0 340.9L105.5 343.1L107.9 347.0L109.3 350.5L111.4 363.0L111.7 375.0L110.0 384.5L110.6 389.0L110.1 391.0L108.0 392.8L104.5 394.1L93.5 394.5 M94.0 311.2L93.0 311.3L92.0 310.8L86.5 306.9L85.0 305.0L84.1 300.5L82.0 296.8L81.4 294.5L82.5 281.0L84.9 271.5L90.5 262.0L93.0 259.8L96.5 257.9L100.0 256.9L103.0 256.8L105.0 257.5L107.2 259.0L108.9 261.0L109.8 263.0L111.2 272.0L110.8 278.5L105.5 293.6L100.0 302.4L97.1 305.5L95.4 309.5L94.0 311.2 M89.0 394.5L81.0 394.5L75.0 393.7L69.5 392.3L64.0 389.8L60.0 392.4L57.5 392.7L55.5 391.7L54.8 390.0L55.5 387.5L57.5 385.5L59.5 385.7L64.0 388.2L65.5 386.9L66.2 385.0L65.3 380.5L62.5 375.4L61.5 375.1L59.0 377.4L58.5 377.5L57.8 376.5L56.2 364.5L56.3 362.0L57.0 359.5L57.5 358.7L58.5 358.4L60.9 361.5L61.6 364.0L61.1 369.0L61.5 370.2L62.5 370.2L64.0 367.5L65.1 361.5L69.9 352.0L75.0 347.5L80.0 341.1L85.0 337.2L87.0 336.3L89.0 336.8L92.9 339.5L96.2 341.0L103.0 342.3L105.5 344.4L107.8 348.0L109.2 352.0L111.3 366.5L111.2 376.0L109.6 385.0L110.2 389.5L109.2 391.5L106.5 393.2L103.0 394.1L89.0 394.5 M91.5 306.1L89.5 305.7L87.5 304.1L85.7 299.5L82.9 294.5L82.6 291.5L83.2 283.0L84.6 275.0L86.8 269.5L89.7 264.5L91.6 262.0L94.5 259.9L97.5 258.5L100.5 257.9L103.0 258.1L106.7 260.0L109.0 263.5L110.3 272.5L109.8 278.5L105.3 291.5L104.1 294.0L98.6 301.0L93.5 305.2L91.5 306.1 M92.5 394.0L84.5 394.3L78.0 393.9L72.5 392.7L68.3 391.0L67.2 390.0L66.9 389.0L67.9 385.5L67.9 384.0L64.5 373.5L66.6 361.5L70.5 353.4L79.5 344.6L87.5 340.4L93.5 342.8L102.0 343.7L105.0 345.5L107.0 348.3L108.3 351.5L110.6 364.5L110.6 375.5L109.0 384.2L109.5 389.0L108.9 391.0L107.0 392.5L103.5 393.6L92.5 394.0 M58.5 364.7L57.9 364.0L58.0 363.2L58.5 363.0L58.5 364.7 M59.0 392.1L56.9 392.0L55.5 390.5L55.7 388.5L57.5 386.8L60.0 387.2L61.6 389.0L61.3 390.5L59.0 392.1 M92.0 302.1L90.5 302.3L89.5 301.6L85.3 295.5L84.4 293.5L84.0 290.0L84.3 284.0L85.7 275.0L87.9 269.5L90.4 265.0L92.1 263.0L97.5 259.8L100.0 259.3L102.5 259.5L106.0 261.3L108.0 264.5L109.2 272.5L108.8 278.0L104.5 290.1L103.0 293.0L98.5 297.5L92.0 302.1 M94.0 393.5L86.0 393.9L79.5 393.6L74.0 392.6L70.2 391.0L69.2 390.0L68.9 389.0L69.7 386.0L69.6 384.0L66.4 375.0L66.3 371.5L67.7 362.5L71.0 355.5L73.0 352.9L79.5 347.3L84.0 344.9L86.5 344.0L88.5 344.1L93.5 345.5L101.0 345.3L104.0 346.5L105.9 348.5L107.2 351.0L109.4 361.0L110.0 367.0L109.9 375.0L108.2 384.5L108.6 389.0L108.3 390.5L106.5 392.1L103.5 393.2L94.0 393.5 M59.0 391.0L57.5 391.2L56.7 390.5L56.5 389.5L57.1 388.5L58.5 388.2L59.8 389.0L59.9 390.0L59.0 391.0 M93.5 297.6L91.5 297.8L89.0 296.7L87.2 295.0L86.0 292.6L85.3 286.5L86.4 276.5L88.1 271.0L92.0 264.5L94.0 262.9L97.0 261.3L99.0 260.8L101.5 260.9L104.9 262.5L106.6 265.0L108.1 272.0L107.8 277.5L105.1 285.5L102.2 291.5L98.5 294.9L93.5 297.6 M86.5 393.5L76.5 392.7L72.8 391.5L70.9 390.0L70.5 388.5L71.2 386.0L71.1 384.0L68.4 377.5L67.7 374.0L69.1 362.0L71.5 357.4L74.5 353.7L79.0 349.9L84.5 346.8L88.0 346.2L94.0 347.9L99.5 346.9L102.0 347.1L104.3 348.5L106.0 351.0L107.8 356.5L108.9 363.0L109.3 367.5L109.1 375.0L107.3 384.5L107.6 390.0L106.0 391.7L102.5 392.9L86.5 393.5 M94.5 295.1L92.5 295.5L90.5 295.0L89.0 294.0L87.5 291.7L86.5 287.0L86.9 278.5L88.5 272.5L92.1 266.0L94.0 264.3L96.5 262.9L98.5 262.4L100.5 262.4L103.5 263.8L105.2 266.0L106.9 271.5L106.9 276.5L104.7 284.0L102.0 289.2L99.0 292.4L94.5 295.1 M88.5 393.0L78.0 392.5L74.6 391.5L72.4 390.0L72.0 388.5L72.5 384.0L69.8 377.5L69.1 374.5L70.3 362.5L72.4 358.5L76.0 354.3L79.5 351.5L85.0 348.5L88.0 348.0L95.0 350.2L99.5 348.8L102.0 348.9L104.0 350.2L105.7 353.0L107.3 358.0L108.3 364.0L108.4 374.5L106.4 384.5L106.7 389.5L105.5 391.2L102.5 392.3L88.5 393.0 M94.0 293.5L92.0 293.6L90.7 293.0L88.4 290.0L87.5 283.5L88.0 277.5L89.7 272.0L93.0 266.5L96.5 264.2L100.0 263.9L102.9 265.5L104.8 268.5L106.1 273.0L105.8 277.0L103.8 284.0L101.5 288.0L98.5 291.1L94.0 293.5 M90.0 392.5L85.0 392.7L79.5 392.3L76.0 391.4L73.7 390.0L73.3 388.5L73.8 384.0L71.1 377.5L70.5 375.0L71.3 363.0L73.1 359.5L77.5 354.6L80.5 352.4L85.5 349.8L88.5 349.6L95.5 352.1L97.0 352.0L100.0 350.7L102.0 350.8L104.0 352.4L106.0 356.2L107.8 365.0L107.6 375.5L105.4 385.0L105.8 389.5L104.6 391.0L102.0 391.9L90.0 392.5 M95.0 291.6L92.0 291.7L89.7 289.5L88.5 284.5L88.5 279.0L90.0 273.2L92.9 268.0L95.5 266.0L99.0 265.4L101.7 266.5L103.7 269.0L105.0 272.5L105.0 276.5L103.5 282.5L101.8 286.0L99.0 289.2L95.0 291.6 M90.5 392.1L85.5 392.3L80.5 392.0L77.0 391.2L75.0 390.0L74.4 388.5L75.0 384.0L72.3 377.5L71.7 375.0L72.0 365.0L73.7 360.5L79.5 354.4L84.0 351.9L87.0 351.0L89.5 351.3L96.0 353.9L101.0 352.8L103.0 353.5L104.5 355.2L105.8 358.0L107.2 366.0L107.0 375.0L104.3 385.0L104.9 388.5L104.5 390.0L103.1 391.0L101.5 391.4L90.5 392.1 M95.5 290.1L92.5 290.2L90.7 288.5L89.2 283.5L89.1 279.0L90.4 274.0L93.0 269.2L95.5 267.1L98.5 266.6L101.0 267.5L103.0 269.7L104.1 272.5L104.3 276.0L103.1 281.5L101.6 285.0L99.0 288.0L95.5 290.1 M86.0 392.0L78.5 391.2L76.5 390.3L75.5 389.0L76.2 384.0L73.4 377.5L72.8 374.5L72.8 366.5L73.7 362.5L75.6 359.5L79.5 355.5L82.0 353.9L85.5 352.5L87.5 352.2L89.5 352.5L96.5 355.5L101.0 354.6L102.5 354.9L104.3 356.5L105.5 359.0L106.8 367.5L106.2 376.5L105.0 380.9L103.1 385.0L103.7 389.5L102.6 390.5L101.0 390.9L96.0 390.9L86.0 392.0 M95.0 289.1L92.5 288.6L91.0 286.6L89.8 282.5L89.8 278.5L91.1 274.0L93.5 269.9L95.5 268.2L98.5 267.8L101.0 268.8L102.7 271.0L103.6 274.0L103.5 277.0L102.3 282.0L100.8 285.0L98.0 287.8L95.0 289.1 M88.5 391.5L81.0 391.3L78.1 390.5L76.8 389.5L76.5 388.0L77.5 384.5L74.4 377.5L73.6 373.0L73.8 365.5L75.5 361.0L78.5 357.5L81.0 355.4L84.0 354.0L87.5 353.4L90.5 353.9L96.5 356.9L101.0 356.0L103.0 356.5L104.3 358.0L105.1 360.0L106.2 368.0L105.8 376.0L103.7 382.0L100.5 385.2L97.0 384.8L95.5 385.8L95.9 386.5L97.0 386.8L100.0 385.6L100.5 385.9L102.5 388.0L102.4 389.5L100.5 390.3L96.0 390.2L88.5 391.5 M95.5 288.0L93.5 287.9L91.7 286.0L90.3 282.0L90.3 278.5L91.5 274.5L93.8 270.5L96.0 268.9L98.5 268.7L100.5 269.5L102.2 271.5L103.0 274.0L102.8 277.5L101.9 281.5L100.5 284.4L98.0 286.9L95.5 288.0 M90.0 391.0L82.5 391.1L79.4 390.5L77.7 389.5L77.4 388.0L78.5 384.5L75.4 378.0L74.4 374.0L74.4 366.0L76.0 361.5L81.0 356.2L83.5 354.9L86.5 354.3L90.5 354.9L96.5 358.0L101.0 357.1L102.9 357.5L104.5 360.0L105.6 366.0L105.5 374.9L103.5 381.1L101.0 383.2L96.5 383.6L94.4 384.5L93.6 386.0L95.3 389.0L93.7 390.0L90.0 391.0 M100.5 389.1L98.8 389.0L98.9 388.5L100.5 388.4L100.5 389.1 M97.0 286.5L95.0 287.0L93.0 286.0L91.3 283.0L90.8 279.5L91.5 276.0L93.6 272.0L95.5 270.1L98.0 269.5L100.0 270.2L101.3 271.5L102.1 273.5L102.3 276.0L101.6 280.5L100.6 283.0L99.0 285.2L97.0 286.5 M86.5 391.0L81.3 390.5L79.8 390.0L78.6 389.0L78.6 388.0L79.8 385.5L79.8 384.5L76.4 378.5L75.0 373.0L75.1 366.5L76.2 362.5L80.5 357.4L82.5 356.1L85.0 355.4L90.0 355.7L96.5 359.3L98.0 359.3L101.0 358.3L102.5 358.5L103.5 359.5L104.3 361.5L105.3 368.5L105.0 374.9L103.5 379.6L102.5 381.1L101.2 382.0L96.0 382.8L93.0 384.3L92.2 385.5L93.2 388.5L92.7 389.5L90.3 390.5L86.5 391.0 M97.0 285.6L95.0 285.8L93.1 284.5L91.6 281.5L91.4 279.0L92.1 276.0L94.0 272.6L96.0 270.8L98.0 270.4L99.5 270.9L100.7 272.0L101.5 274.0L101.6 276.0L101.0 280.0L100.2 282.5L99.0 284.2L97.0 285.6 M88.0 390.5L83.5 390.4L81.5 390.0L80.0 389.0L79.9 388.0L81.1 386.0L81.2 385.0L77.2 378.5L75.6 372.5L75.7 366.5L77.0 362.5L81.0 357.9L83.0 356.7L85.0 356.3L90.5 356.9L97.0 360.6L102.0 359.6L103.5 361.5L104.7 367.5L104.5 374.8L102.5 379.9L101.0 381.1L96.0 381.9L92.5 383.5L90.9 385.5L91.6 389.0L90.2 390.0L88.0 390.5 M97.0 284.6L95.0 284.7L93.5 283.5L92.3 281.5L92.0 279.0L92.7 276.0L94.5 273.0L96.0 271.7L98.0 271.3L99.5 271.9L100.4 273.0L100.9 276.5L99.6 282.0L98.5 283.6L97.0 284.6 M88.0 390.0L84.0 390.0L81.6 389.0L81.5 388.0L82.7 386.0L82.6 385.0L77.9 378.5L76.2 372.5L76.3 367.0L77.5 363.0L81.0 358.7L82.5 357.7L84.5 357.1L90.5 357.9L97.0 361.8L98.5 361.8L101.0 361.0L102.0 361.2L103.4 363.5L104.2 368.0L104.0 374.5L102.2 379.0L100.5 380.3L95.5 381.4L90.4 384.0L89.5 385.5L90.5 388.5L89.7 389.5L88.0 390.0 M96.5 283.6L95.0 283.3L93.5 282.0L92.8 280.5L92.7 278.5L93.4 276.0L95.0 273.6L96.5 272.4L98.0 272.2L99.0 272.7L99.9 274.0L100.1 278.0L99.0 281.6L98.0 282.8L96.5 283.6 M87.5 389.5L84.9 389.5L83.3 388.5L85.5 385.5L79.0 379.1L77.6 376.0L76.7 372.5L76.9 367.0L78.0 363.3L81.5 359.2L84.5 358.0L90.5 358.9L97.0 363.2L101.5 362.9L103.0 365.2L103.7 369.0L103.5 374.4L102.0 378.0L100.5 379.3L95.0 380.8L87.2 385.0L86.8 385.5L89.0 388.0L88.7 389.0L87.5 389.5 M97.0 282.0L95.5 282.0L94.5 281.3L93.7 280.0L93.5 278.5L95.0 275.0L96.5 273.6L97.5 273.4L99.0 274.4L99.4 277.0L98.5 280.4L97.0 282.0 M87.5 383.1L84.5 383.0L80.5 379.8L78.5 376.7L77.3 372.5L77.4 368.0L78.4 364.0L81.0 360.6L84.0 359.0L90.5 359.9L92.5 361.1L96.5 364.5L101.0 364.8L102.2 366.0L103.0 368.7L102.9 374.0L101.0 377.6L87.5 383.1 M96.5 280.1L95.1 279.5L94.8 278.0L95.5 276.4L97.0 275.3L97.9 276.0L98.1 277.5L97.5 279.3L96.5 280.1 M87.5 382.0L84.5 381.7L81.0 379.2L79.2 376.5L78.0 372.5L78.0 368.0L79.0 364.5L81.5 361.3L84.0 360.1L88.5 360.5L91.0 361.2L92.8 362.5L96.5 366.4L101.0 367.0L102.2 369.5L102.0 373.5L100.5 376.0L96.5 377.8L92.0 380.6L87.5 382.0 M87.5 381.0L84.5 380.5L81.5 378.5L79.7 376.0L78.6 372.5L78.6 368.5L79.5 365.2L81.5 362.5L84.0 361.2L88.5 361.5L91.0 362.4L92.9 364.0L96.0 368.8L97.0 369.2L100.0 369.0L100.8 370.5L100.0 373.0L97.0 373.9L93.1 379.0L90.5 380.4L87.5 381.0 M89.0 379.5L86.0 379.5L83.5 378.4L81.4 376.5L79.9 373.5L79.5 370.0L80.1 366.5L81.5 364.3L84.0 362.8L87.5 362.7L90.2 363.5L92.0 365.1L93.3 368.0L93.8 371.5L92.9 376.5L91.4 378.5L89.0 379.5 M89.0 377.2L87.0 377.4L84.5 376.5L82.8 375.0L81.7 373.0L81.0 370.5L81.3 368.0L82.4 366.0L84.0 364.9L86.0 364.5L88.5 364.8L90.0 365.7L91.0 367.1L91.6 370.0L91.3 373.0L90.4 376.0L89.0 377.2" fill="none" stroke="#222" stroke-width="0.8"/>
</g>
<path d="M55.5 220.5H229V392" fill="none" stroke="#aaa" stroke-width="1"/>
<path d="M55.5 220.5V392H229" fill="none" stroke="#555" stroke-width="1.1"/>
<path d="M51.0 392.0H55.5M55.5 392V396M53.5 379.1H55.5M68.6 392V394M53.5 371.5H55.5M76.2 392V394M53.5 366.2H55.5M81.6 392V394M53.5 362.0H55.5M85.8 392V394M53.5 358.6H55.5M89.3 392V394M53.5 355.8H55.5M92.2 392V394M53.5 353.3H55.5M94.7 392V394M53.5 351.1H55.5M96.9 392V394M51.0 349.1H55.5M98.9 392V396M53.5 336.2H55.5M111.9 392V394M53.5 328.7H55.5M119.6 392V394M53.5 323.3H55.5M125.0 392V394M53.5 319.2H55.5M129.2 392V394M53.5 315.8H55.5M132.6 392V394M53.5 312.9H55.5M135.5 392V394M53.5 310.4H55.5M138.0 392V394M53.5 308.2H55.5M140.3 392V394M51.0 306.2H55.5M142.2 392V396M53.5 293.3H55.5M155.3 392V394M53.5 285.8H55.5M162.9 392V394M53.5 280.4H55.5M168.4 392V394M53.5 276.3H55.5M172.6 392V394M53.5 272.9H55.5M176.0 392V394M53.5 270.0H55.5M178.9 392V394M53.5 267.5H55.5M181.4 392V394M53.5 265.3H55.5M183.6 392V394M51.0 263.4H55.5M185.6 392V396M53.5 250.5H55.5M198.7 392V394M53.5 242.9H55.5M206.3 392V394M53.5 237.6H55.5M211.7 392V394M53.5 233.4H55.5M215.9 392V394M53.5 230.0H55.5M219.4 392V394M53.5 227.1H55.5M222.3 392V394M53.5 224.7H55.5M224.8 392V394M53.5 222.5H55.5M227.0 392V394M51.0 220.5H55.5M229.0 392V396" stroke="#444" stroke-width="0.8" fill="none"/>
<rect x="126.4" y="239.2" width="88.79999999999998" height="71.80000000000001" fill="none" stroke="#222" stroke-width="1"/>
<text x="211.39999999999998" y="255.2" font-size="14.8" text-anchor="end">1.35</text>
<clipPath id="c505"><rect x="55.5" y="505" width="173.5" height="174"/></clipPath>
<g clip-path="url(#c505)">
<path d="M203 555h2v1h-2zM206 555h1v1h-1zM202 557h1v1h-1zM204 557h2v1h-2zM202 558h1v1h-1zM204 559h1v1h-1zM201 560h4v1h-4zM198 561h1v1h-1zM201 561h1v1h-1zM204 561h1v1h-1zM206 561h3v1h-3zM200 562h2v1h-2zM204 562h2v1h-2zM200 563h2v1h-2zM204 563h2v1h-2zM207 563h1v1h-1zM211 563h1v1h-1zM203 564h2v1h-2zM206 564h1v1h-1zM208 564h1v1h-1zM210 564h1v1h-1zM212 564h1v1h-1zM99 565h1v1h-1zM202 565h1v1h-1zM205 565h3v1h-3zM211 565h1v1h-1zM202 566h1v1h-1zM206 566h1v1h-1zM202 567h1v1h-1zM205 567h1v1h-1zM200 568h1v1h-1zM202 568h3v1h-3zM206 568h2v1h-2zM198 569h1v1h-1zM203 569h3v1h-3zM198 570h1v1h-1zM200 570h1v1h-1zM202 570h4v1h-4zM200 571h1v1h-1zM203 571h1v1h-1zM205 571h1v1h-1zM207 571h1v1h-1zM200 572h1v1h-1zM203 572h1v1h-1zM205 572h1v1h-1zM198 573h1v1h-1zM200 573h1v1h-1zM203 573h1v1h-1zM206 573h1v1h-1zM202 574h1v1h-1zM204 574h1v1h-1zM202 575h1v1h-1zM87 576h1v1h-1zM203 576h2v1h-2zM203 577h1v1h-1zM89 580h2v1h-2zM88 581h1v1h-1zM92 581h1v1h-1zM94 581h1v1h-1zM96 581h2v1h-2zM92 583h1v1h-1zM96 583h1v1h-1zM91 588h1v1h-1zM85 589h2v1h-2zM93 589h1v1h-1zM86 590h2v1h-2zM93 590h1v1h-1zM87 591h1v1h-1zM88 592h1v1h-1zM87 593h1v1h-1zM84 594h1v1h-1zM83 595h2v1h-2zM86 595h1v1h-1zM94 597h1v1h-1zM80 598h1v1h-1zM80 599h1v1h-1zM82 599h1v1h-1zM82 600h1v1h-1zM84 601h1v1h-1zM87 601h1v1h-1zM87 602h1v1h-1zM80 603h1v1h-1zM85 603h1v1h-1zM89 603h1v1h-1zM73 604h1v1h-1zM75 605h1v1h-1zM80 605h1v1h-1zM82 605h1v1h-1zM91 605h1v1h-1zM86 610h1v1h-1zM96 610h1v1h-1zM77 611h1v1h-1zM79 611h1v1h-1zM87 611h1v1h-1zM93 611h1v1h-1zM95 611h1v1h-1zM76 612h1v1h-1zM89 612h1v1h-1zM93 612h1v1h-1zM97 612h2v1h-2zM72 613h1v1h-1zM78 613h1v1h-1zM89 613h1v1h-1zM93 613h2v1h-2zM101 613h1v1h-1zM74 614h1v1h-1zM87 614h2v1h-2zM99 614h1v1h-1zM74 615h1v1h-1zM83 615h1v1h-1zM85 615h1v1h-1zM87 615h5v1h-5zM93 615h1v1h-1zM100 615h1v1h-1zM107 615h1v1h-1zM76 616h1v1h-1zM78 616h1v1h-1zM82 616h2v1h-2zM87 616h1v1h-1zM93 616h1v1h-1zM71 617h1v1h-1zM73 617h1v1h-1zM75 617h3v1h-3zM80 617h1v1h-1zM84 617h1v1h-1zM87 617h2v1h-2zM92 617h1v1h-1zM97 617h1v1h-1zM99 617h1v1h-1zM102 617h2v1h-2zM77 618h2v1h-2zM84 618h2v1h-2zM88 618h1v1h-1zM90 618h3v1h-3zM96 618h4v1h-4zM103 618h1v1h-1zM63 619h1v1h-1zM65 619h1v1h-1zM67 619h1v1h-1zM70 619h3v1h-3zM74 619h1v1h-1zM81 619h1v1h-1zM83 619h1v1h-1zM88 619h1v1h-1zM91 619h2v1h-2zM94 619h4v1h-4zM102 619h1v1h-1zM104 619h2v1h-2zM61 620h4v1h-4zM66 620h2v1h-2zM69 620h2v1h-2zM72 620h4v1h-4zM78 620h1v1h-1zM84 620h1v1h-1zM87 620h1v1h-1zM89 620h1v1h-1zM93 620h2v1h-2zM96 620h2v1h-2zM100 620h1v1h-1zM61 621h2v1h-2zM65 621h1v1h-1zM67 621h1v1h-1zM69 621h3v1h-3zM76 621h2v1h-2zM79 621h2v1h-2zM83 621h5v1h-5zM91 621h1v1h-1zM93 621h3v1h-3zM97 621h4v1h-4zM102 621h1v1h-1zM104 621h1v1h-1zM106 621h1v1h-1zM108 621h1v1h-1zM59 622h1v1h-1zM62 622h2v1h-2zM68 622h1v1h-1zM70 622h2v1h-2zM73 622h6v1h-6zM81 622h2v1h-2zM86 622h2v1h-2zM89 622h2v1h-2zM93 622h3v1h-3zM97 622h3v1h-3zM102 622h2v1h-2zM105 622h1v1h-1zM60 623h1v1h-1zM63 623h2v1h-2zM67 623h7v1h-7zM76 623h1v1h-1zM78 623h1v1h-1zM80 623h8v1h-8zM89 623h5v1h-5zM95 623h1v1h-1zM99 623h1v1h-1zM101 623h4v1h-4zM108 623h1v1h-1zM111 623h1v1h-1zM61 624h1v1h-1zM63 624h4v1h-4zM68 624h3v1h-3zM72 624h5v1h-5zM79 624h8v1h-8zM90 624h5v1h-5zM97 624h1v1h-1zM100 624h1v1h-1zM103 624h3v1h-3zM109 624h1v1h-1zM112 624h1v1h-1zM60 625h4v1h-4zM65 625h1v1h-1zM69 625h7v1h-7zM77 625h1v1h-1zM79 625h3v1h-3zM83 625h5v1h-5zM89 625h1v1h-1zM91 625h2v1h-2zM94 625h1v1h-1zM97 625h2v1h-2zM101 625h1v1h-1zM104 625h3v1h-3zM108 625h2v1h-2zM63 626h1v1h-1zM65 626h14v1h-14zM80 626h1v1h-1zM82 626h6v1h-6zM89 626h1v1h-1zM91 626h2v1h-2zM96 626h3v1h-3zM100 626h2v1h-2zM109 626h3v1h-3zM60 627h1v1h-1zM62 627h1v1h-1zM64 627h3v1h-3zM68 627h6v1h-6zM76 627h5v1h-5zM82 627h1v1h-1zM85 627h6v1h-6zM92 627h1v1h-1zM94 627h7v1h-7zM105 627h2v1h-2zM108 627h1v1h-1zM112 627h1v1h-1zM115 627h2v1h-2zM60 628h1v1h-1zM62 628h2v1h-2zM65 628h5v1h-5zM71 628h30v1h-30zM102 628h2v1h-2zM105 628h1v1h-1zM60 629h1v1h-1zM62 629h40v1h-40zM103 629h3v1h-3zM112 629h1v1h-1zM114 629h1v1h-1zM61 630h8v1h-8zM71 630h3v1h-3zM76 630h6v1h-6zM84 630h2v1h-2zM88 630h3v1h-3zM93 630h1v1h-1zM97 630h1v1h-1zM99 630h3v1h-3zM103 630h3v1h-3zM111 630h1v1h-1zM102 631h4v1h-4zM109 631h1v1h-1zM114 631h1v1h-1zM104 632h6v1h-6zM105 633h1v1h-1zM107 633h1v1h-1zM111 633h2v1h-2zM104 634h3v1h-3zM110 634h1v1h-1zM104 635h5v1h-5zM112 635h2v1h-2zM105 636h5v1h-5zM111 636h4v1h-4zM105 637h7v1h-7zM114 637h1v1h-1zM105 638h4v1h-4zM111 638h1v1h-1zM105 639h3v1h-3zM109 639h2v1h-2zM105 640h2v1h-2zM108 640h5v1h-5zM105 641h2v1h-2zM111 641h2v1h-2zM105 642h5v1h-5zM105 643h4v1h-4zM105 644h4v1h-4zM110 644h1v1h-1zM112 644h1v1h-1zM107 645h3v1h-3zM111 645h3v1h-3zM106 646h4v1h-4zM111 646h1v1h-1zM105 647h3v1h-3zM109 647h2v1h-2zM106 648h2v1h-2zM109 648h1v1h-1zM106 649h3v1h-3zM110 649h3v1h-3zM106 650h2v1h-2zM111 650h2v1h-2zM105 651h4v1h-4zM110 651h2v1h-2zM113 651h1v1h-1zM105 652h4v1h-4zM110 652h2v1h-2zM105 653h3v1h-3zM109 653h1v1h-1zM111 653h2v1h-2zM105 654h6v1h-6zM113 654h1v1h-1zM106 655h2v1h-2zM109 655h2v1h-2zM106 656h4v1h-4zM111 656h2v1h-2zM105 657h4v1h-4zM111 657h1v1h-1zM114 657h1v1h-1zM105 658h1v1h-1zM107 658h3v1h-3zM111 658h2v1h-2zM106 659h6v1h-6zM113 659h1v1h-1zM115 659h1v1h-1zM106 660h4v1h-4zM112 660h1v1h-1zM106 661h9v1h-9zM106 662h1v1h-1zM108 662h1v1h-1zM113 662h1v1h-1zM105 663h5v1h-5zM111 663h1v1h-1zM113 663h2v1h-2zM106 664h7v1h-7zM115 664h2v1h-2zM106 665h6v1h-6zM113 665h1v1h-1zM116 665h1v1h-1zM105 666h4v1h-4zM110 666h1v1h-1zM106 667h6v1h-6zM113 667h1v1h-1zM116 667h1v1h-1zM105 668h4v1h-4zM110 668h1v1h-1zM112 668h1v1h-1zM115 668h1v1h-1zM106 669h3v1h-3zM110 669h1v1h-1zM105 670h2v1h-2zM108 670h3v1h-3zM113 670h1v1h-1zM106 671h1v1h-1zM108 671h1v1h-1zM111 671h2v1h-2zM115 671h2v1h-2zM110 672h1v1h-1zM115 672h1v1h-1zM111 673h1v1h-1z" fill="#333"/>
<path d="M215 507h1v1h-1zM222 525h1v1h-1zM111 528h1v1h-1zM93 529h1v1h-1zM169 535h1v1h-1zM80 536h1v1h-1zM68 537h1v1h-1zM74 540h1v1h-1zM93 540h1v1h-1zM101 541h1v1h-1zM104 541h1v1h-1zM194 542h1v1h-1zM206 542h1v1h-1zM80 545h1v1h-1zM88 545h1v1h-1zM93 546h1v1h-1zM96 546h1v1h-1zM124 546h1v1h-1zM80 548h1v1h-1zM71 550h1v1h-1zM204 550h1v1h-1zM208 550h1v1h-1zM84 551h1v1h-1zM80 553h1v1h-1zM92 553h1v1h-1zM90 555h1v1h-1zM153 555h1v1h-1zM193 555h1v1h-1zM97 556h1v1h-1zM104 556h1v1h-1zM200 556h1v1h-1zM80 557h1v1h-1zM208 557h1v1h-1zM59 558h1v1h-1zM99 558h1v1h-1zM193 558h1v1h-1zM208 558h1v1h-1zM67 559h1v1h-1zM80 559h1v1h-1zM86 559h1v1h-1zM129 559h1v1h-1zM194 559h1v1h-1zM73 560h1v1h-1zM81 560h1v1h-1zM87 560h1v1h-1zM198 560h1v1h-1zM85 562h1v1h-1zM100 562h1v1h-1zM123 562h2v1h-2zM86 563h1v1h-1zM97 563h1v1h-1zM77 564h1v1h-1zM70 565h1v1h-1zM82 565h1v1h-1zM101 565h1v1h-1zM199 565h1v1h-1zM74 566h1v1h-1zM80 566h1v1h-1zM89 566h1v1h-1zM68 567h1v1h-1zM101 567h1v1h-1zM104 568h1v1h-1zM68 569h1v1h-1zM93 569h1v1h-1zM95 569h1v1h-1zM58 570h1v1h-1zM83 570h1v1h-1zM88 570h1v1h-1zM95 570h1v1h-1zM88 571h1v1h-1zM179 571h1v1h-1zM210 571h1v1h-1zM73 572h1v1h-1zM76 572h1v1h-1zM194 572h1v1h-1zM76 573h1v1h-1zM91 573h1v1h-1zM99 573h1v1h-1zM212 573h1v1h-1zM71 574h1v1h-1zM86 574h1v1h-1zM101 574h1v1h-1zM111 574h1v1h-1zM211 574h1v1h-1zM102 575h1v1h-1zM64 576h1v1h-1zM75 576h2v1h-2zM88 576h1v1h-1zM92 576h1v1h-1zM200 576h1v1h-1zM85 577h1v1h-1zM206 577h1v1h-1zM67 578h1v1h-1zM75 578h1v1h-1zM82 578h1v1h-1zM82 579h1v1h-1zM203 579h1v1h-1zM208 579h1v1h-1zM211 579h1v1h-1zM84 580h1v1h-1zM98 580h1v1h-1zM199 580h1v1h-1zM207 580h1v1h-1zM69 581h1v1h-1zM101 581h1v1h-1zM200 581h1v1h-1zM68 582h1v1h-1zM87 582h1v1h-1zM194 582h1v1h-1zM100 583h2v1h-2zM211 583h1v1h-1zM91 584h1v1h-1zM192 584h1v1h-1zM211 584h1v1h-1zM76 585h1v1h-1zM86 585h1v1h-1zM186 585h1v1h-1zM201 585h2v1h-2zM93 586h1v1h-1zM209 586h1v1h-1zM220 586h1v1h-1zM98 587h1v1h-1zM192 587h1v1h-1zM72 588h1v1h-1zM76 588h1v1h-1zM82 588h1v1h-1zM90 588h1v1h-1zM111 588h1v1h-1zM90 589h1v1h-1zM94 589h1v1h-1zM101 589h1v1h-1zM112 589h1v1h-1zM173 589h1v1h-1zM65 590h1v1h-1zM78 590h1v1h-1zM191 590h1v1h-1zM79 591h1v1h-1zM119 591h1v1h-1zM70 592h1v1h-1zM68 593h1v1h-1zM80 593h1v1h-1zM91 593h1v1h-1zM98 593h1v1h-1zM73 594h1v1h-1zM101 594h1v1h-1zM109 594h1v1h-1zM61 595h1v1h-1zM81 595h1v1h-1zM103 595h1v1h-1zM107 595h1v1h-1zM109 595h1v1h-1zM204 595h1v1h-1zM73 596h1v1h-1zM78 596h1v1h-1zM88 596h1v1h-1zM92 596h1v1h-1zM138 596h1v1h-1zM96 597h1v1h-1zM112 597h1v1h-1zM77 598h1v1h-1zM89 598h1v1h-1zM95 598h1v1h-1zM109 598h1v1h-1zM62 599h1v1h-1zM106 599h1v1h-1zM65 600h1v1h-1zM69 600h1v1h-1zM98 600h1v1h-1zM103 600h1v1h-1zM95 601h1v1h-1zM206 601h1v1h-1zM59 602h1v1h-1zM65 602h1v1h-1zM92 602h1v1h-1zM109 602h1v1h-1zM74 603h1v1h-1zM218 603h1v1h-1zM79 604h1v1h-1zM101 604h1v1h-1zM104 604h2v1h-2zM70 605h1v1h-1zM83 605h1v1h-1zM92 605h1v1h-1zM74 606h1v1h-1zM91 606h1v1h-1zM99 606h1v1h-1zM98 607h1v1h-1zM62 608h1v1h-1zM114 608h1v1h-1zM58 609h1v1h-1zM61 609h1v1h-1zM72 609h1v1h-1zM84 609h1v1h-1zM148 609h1v1h-1zM79 610h1v1h-1zM75 611h1v1h-1zM84 611h1v1h-1zM102 611h1v1h-1zM176 611h1v1h-1zM172 612h1v1h-1zM65 613h1v1h-1zM70 613h1v1h-1zM103 613h1v1h-1zM106 613h1v1h-1zM170 613h1v1h-1zM201 613h1v1h-1zM64 614h1v1h-1zM108 614h1v1h-1zM186 614h1v1h-1zM57 615h1v1h-1zM69 615h1v1h-1zM60 616h2v1h-2zM66 616h1v1h-1zM107 617h1v1h-1zM59 619h1v1h-1zM109 620h1v1h-1zM114 622h1v1h-1zM117 622h1v1h-1zM137 625h1v1h-1zM115 626h1v1h-1zM145 627h1v1h-1zM115 632h1v1h-1zM119 634h1v1h-1zM116 635h1v1h-1zM115 640h1v1h-1zM117 640h1v1h-1zM116 641h1v1h-1zM118 649h1v1h-1zM115 650h1v1h-1zM116 652h1v1h-1zM118 655h1v1h-1zM120 657h1v1h-1zM117 658h1v1h-1zM118 669h1v1h-1zM125 669h1v1h-1zM119 672h1v1h-1zM129 674h1v1h-1zM126 675h1v1h-1zM128 675h1v1h-1zM134 676h1v1h-1zM122 677h1v1h-1z" fill="#666"/>
<path d="M85.0 655.0L83.5 654.4L82.6 653.0L83.2 650.5L84.5 649.2L87.0 648.2L88.0 648.2L88.8 649.5L88.9 652.0L87.0 654.2L85.0 655.0 M85.5 657.6L83.5 657.7L81.8 656.5L79.7 651.5L81.5 647.8L84.0 646.8L86.0 645.0L87.5 644.5L89.0 645.4L91.6 649.0L91.9 654.0L91.0 655.3L88.5 655.9L85.5 657.6 M85.5 659.0L82.0 659.0L78.5 656.6L77.5 654.5L77.2 651.0L79.8 646.0L81.5 644.2L84.0 642.9L88.5 642.4L91.0 644.0L92.5 646.5L94.0 648.0L94.1 652.0L96.5 654.2L97.0 656.3L96.5 657.0L93.5 656.2L85.5 659.0 M96.0 660.5L95.0 658.3L94.0 657.6L91.5 658.2L88.0 659.8L82.0 660.6L80.5 660.3L77.5 657.8L75.1 654.0L74.7 648.5L77.0 642.9L78.5 641.9L82.0 640.7L88.0 640.3L93.3 642.5L97.5 645.9L98.2 647.5L97.1 651.5L97.9 654.0L98.1 657.0L97.5 659.4L96.0 660.5 M89.5 663.1L86.0 663.2L83.9 662.0L79.6 661.5L76.4 658.5L73.6 654.0L73.4 647.5L74.7 645.0L75.2 643.0L76.5 641.5L80.5 639.5L83.0 638.8L89.0 638.3L91.0 640.0L96.0 642.1L99.0 646.0L98.8 657.0L97.9 661.0L96.5 662.4L95.0 662.6L93.7 661.5L93.3 659.5L92.0 659.2L91.0 660.0L90.6 662.5L89.5 663.1 M89.0 664.5L85.0 664.7L82.5 663.3L78.5 662.2L75.2 659.0L72.7 654.5L72.1 652.5L72.5 650.0L72.1 647.5L73.6 645.0L74.4 642.0L79.0 638.7L86.5 636.8L90.4 637.0L92.5 639.2L96.5 641.0L99.4 645.0L99.9 646.5L99.2 659.0L98.2 662.5L95.5 664.5L92.5 663.8L89.0 664.5 M95.5 666.0L92.0 664.9L87.0 666.1L80.5 666.1L78.7 664.0L73.8 660.5L71.1 653.5L70.3 647.5L72.4 644.5L73.0 641.7L78.5 637.1L82.5 636.6L86.0 635.7L90.0 635.8L96.5 639.2L97.7 640.5L99.9 644.5L100.4 646.5L99.6 660.0L98.5 664.0L96.5 665.8L95.5 666.0 M57.5 651.5L57.0 652.0L56.9 651.5L57.0 649.4L57.5 649.6L57.5 651.5 M83.0 667.6L80.5 667.8L78.7 667.0L76.4 664.0L72.7 661.5L71.6 659.0L69.9 657.0L69.8 651.0L69.0 647.5L70.4 644.5L71.1 641.5L74.0 637.6L78.5 635.2L82.5 635.7L86.0 635.0L90.0 635.1L94.0 636.6L97.0 637.0L98.1 638.0L100.8 646.5L100.0 661.5L99.1 665.5L98.0 666.7L96.5 667.3L91.5 665.8L87.5 667.1L83.0 667.6 M57.0 664.0L56.5 663.8L56.2 662.0L56.1 650.5L57.0 647.3L58.0 648.6L58.3 650.5L57.9 662.0L57.0 664.0 M82.5 675.6L80.2 675.5L78.0 674.5L79.5 673.9L84.5 674.3L85.1 674.5L84.6 675.0L82.5 675.6 M57.0 676.2L56.6 675.5L57.0 675.1L57.0 676.2 M82.5 669.0L79.5 668.9L78.0 667.8L75.5 664.9L72.0 662.2L67.9 656.5L67.7 655.5L68.7 652.5L68.1 647.0L70.2 641.0L72.5 637.3L74.6 636.0L78.5 634.5L82.5 634.9L86.0 634.4L90.0 634.6L97.5 636.0L99.1 638.0L101.2 646.5L100.5 661.7L99.8 666.5L98.5 668.4L97.5 668.9L91.0 666.9L82.5 669.0 M57.5 664.6L57.0 664.9L56.2 664.5L55.8 662.0L55.8 650.0L56.5 643.8L57.0 642.9L57.6 643.5L58.7 650.5L58.4 662.0L57.5 664.6 M83.0 676.0L80.5 676.0L75.3 675.0L76.3 674.0L78.5 673.2L86.0 673.3L89.5 674.5L89.5 675.0L83.0 676.0 M57.0 677.1L56.1 676.5L56.0 675.5L57.0 674.1L57.7 674.5L58.1 675.5L57.8 676.5L57.0 677.1 M92.0 674.6L90.1 674.5L92.0 674.1L92.0 674.6 M97.0 671.3L96.5 671.3L94.5 669.4L90.5 668.5L84.5 670.1L79.5 670.0L73.0 665.3L69.2 659.5L66.9 657.0L66.3 655.5L67.4 650.0L67.3 646.5L69.6 640.5L71.6 637.0L75.0 635.1L79.0 634.1L90.5 634.2L96.5 634.9L98.0 635.5L99.0 636.5L100.0 639.0L101.5 646.5L100.9 661.5L100.0 667.8L99.0 669.6L97.0 671.3 M57.0 665.7L55.8 664.5L55.4 660.5L56.0 643.8L57.0 641.7L58.2 643.0L59.1 650.5L58.7 662.5L58.0 664.6L57.0 665.7 M86.0 676.0L81.5 676.4L75.5 675.9L71.5 675.0L71.4 674.5L78.5 672.5L82.0 672.9L85.5 672.4L89.5 673.3L96.5 671.9L97.4 673.5L96.7 674.5L91.5 675.7L86.0 676.0 M57.0 677.5L55.9 677.0L55.6 675.5L56.0 674.2L57.0 673.4L58.0 674.0L58.5 675.5L58.0 676.9L57.0 677.5 M84.0 676.5L75.0 676.2L67.3 675.0L67.5 674.5L71.0 673.6L75.5 672.9L77.7 672.0L78.6 671.0L76.0 668.2L72.1 666.5L68.2 659.5L65.6 656.5L65.3 654.0L66.5 649.5L66.5 646.5L70.4 637.0L74.0 635.0L79.5 633.7L90.5 633.9L97.5 634.6L99.0 635.6L100.2 638.0L101.8 647.0L101.0 666.0L100.2 669.0L98.5 672.0L98.5 674.5L97.5 675.2L92.0 676.1L84.0 676.5 M57.5 666.1L56.5 666.3L56.0 665.8L55.2 662.0L55.7 643.5L56.0 642.0L57.0 640.9L58.0 641.4L58.5 642.5L59.5 650.5L59.0 662.5L57.5 666.1 M89.9 672.0L90.1 671.0L89.0 670.3L87.5 670.4L86.9 671.0L88.0 672.2L89.9 672.0 M82.9 672.0L83.3 671.5L82.5 671.0L81.0 671.0L80.3 671.5L81.5 672.2L82.9 672.0 M57.5 677.7L56.0 677.6L55.4 676.0L55.7 674.0L57.0 672.6L58.0 673.2L58.9 675.0L58.6 676.5L57.5 677.7 M91.5 676.5L82.0 676.9L75.0 676.6L67.0 675.8L65.2 675.0L65.5 674.4L67.0 673.8L75.0 672.5L77.2 671.0L76.0 669.1L72.0 667.4L69.2 664.5L67.1 659.5L65.1 657.0L64.3 654.5L64.3 653.0L65.4 649.0L65.4 646.5L67.2 644.0L69.5 637.0L70.5 635.9L78.0 633.6L85.5 633.4L97.0 634.0L98.5 634.6L99.8 636.0L100.9 639.0L102.1 647.0L101.1 667.5L99.4 672.0L99.0 675.0L97.5 675.7L91.5 676.5 M57.0 667.3L56.0 666.5L55.3 665.0L55.0 660.5L55.4 643.5L56.0 641.2L57.0 639.9L58.0 640.5L59.0 642.5L59.9 651.0L59.2 663.0L58.0 666.1L57.0 667.3 M57.5 678.0L56.0 677.9L55.1 676.0L55.4 674.0L57.0 671.0L59.4 675.0L58.7 677.0L57.5 678.0 M84.0 677.0L67.0 676.2L65.0 675.8L63.9 675.0L64.8 674.0L66.0 673.5L70.5 672.3L74.5 671.9L75.5 671.4L76.0 670.5L75.0 669.4L72.0 668.2L67.9 665.5L63.4 654.0L63.5 651.0L63.0 647.0L66.5 643.7L68.9 636.5L70.0 635.2L79.0 633.2L91.0 633.3L98.0 633.9L99.7 635.0L100.9 637.5L102.3 646.5L101.6 666.5L100.1 672.0L99.9 674.5L99.1 675.5L97.5 676.1L84.0 677.0 M58.0 678.0L56.0 678.2L54.9 676.0L56.4 669.0L54.8 663.0L55.2 643.5L57.0 636.8L57.5 636.9L59.4 642.0L60.5 651.0L59.6 662.5L57.7 668.5L58.3 672.0L59.9 675.0L58.0 678.0 M57.5 678.5L56.5 678.6L55.5 678.1L54.7 676.0L55.9 669.0L54.7 663.0L55.0 643.5L56.3 636.5L57.0 635.2L57.5 635.3L58.2 636.5L58.8 639.5L60.0 642.0L60.2 645.5L61.0 646.9L66.0 642.4L68.2 636.0L69.5 634.7L79.5 632.9L96.5 633.3L99.7 634.5L101.5 638.5L102.5 647.0L101.8 667.0L100.3 675.0L97.5 676.4L82.5 677.3L66.5 676.5L62.9 675.5L62.1 675.0L64.6 673.5L70.0 671.6L73.0 671.4L74.2 670.5L73.3 669.5L69.5 667.5L67.5 667.7L67.0 667.3L66.4 664.0L64.6 661.0L63.2 655.5L61.5 653.2L60.5 655.5L59.9 662.5L58.3 668.0L58.8 672.0L61.1 675.0L57.5 678.5 M57.5 678.7L55.5 678.3L54.6 676.0L55.6 669.0L54.5 663.0L54.8 643.5L56.0 636.0L57.0 634.1L58.0 634.7L59.5 639.3L60.5 640.3L61.5 639.9L62.5 638.0L65.5 637.5L68.5 634.5L70.0 634.0L79.0 632.8L85.5 632.8L97.0 633.1L100.2 634.5L101.7 638.5L102.7 647.0L102.1 667.0L101.1 671.5L101.1 674.5L100.5 675.4L97.5 676.7L82.5 677.5L66.0 676.7L61.5 675.9L60.5 676.1L57.5 678.7 M61.7 644.5L62.1 643.5L61.5 643.0L60.9 643.5L60.8 644.5L61.0 644.8L61.7 644.5 M63.4 673.5L67.6 672.0L69.0 670.1L70.0 669.5L68.0 669.7L66.5 668.8L65.4 664.0L62.5 659.5L62.6 656.0L61.5 655.1L60.8 656.5L60.9 659.5L58.8 667.0L58.9 670.5L59.5 672.5L60.5 673.4L62.0 673.8L63.4 673.5 M58.0 678.7L56.5 679.0L55.5 678.6L54.7 677.5L54.4 676.0L55.3 669.0L54.3 663.0L54.6 643.5L55.7 636.0L56.5 633.7L57.0 633.2L58.0 633.7L60.0 637.9L60.5 638.1L62.0 636.8L65.0 636.3L69.0 633.8L78.5 632.6L96.5 632.9L99.0 633.4L100.5 634.3L102.0 638.5L102.9 647.0L102.3 667.0L101.5 671.5L101.7 674.5L101.1 675.5L98.0 676.9L90.0 677.5L75.0 677.4L61.5 676.3L60.5 676.6L58.0 678.7 M63.4 673.0L66.2 672.0L67.1 671.0L65.8 669.0L64.5 664.2L61.5 661.0L61.0 661.4L59.2 666.5L59.3 671.0L60.5 672.8L62.0 673.2L63.4 673.0 M57.5 679.1L56.5 679.2L55.2 678.5L54.3 676.0L55.1 669.0L54.2 663.0L54.5 643.5L55.4 636.0L56.5 632.9L57.0 632.5L58.0 633.0L60.5 636.5L65.0 635.4L69.0 633.5L79.0 632.4L96.5 632.6L100.6 634.0L102.1 638.0L103.1 647.0L102.5 667.5L101.8 671.5L102.3 674.5L101.9 675.5L98.0 677.1L90.0 677.7L75.0 677.6L61.5 676.7L60.5 676.9L57.5 679.1 M63.5 672.5L65.8 671.0L64.0 665.0L61.5 662.5L59.6 666.5L59.7 671.0L61.0 672.5L63.5 672.5 M58.0 679.0L56.5 679.3L55.5 679.0L54.6 678.0L54.1 676.0L54.9 669.0L54.1 663.0L54.3 643.5L55.3 635.5L56.5 632.0L57.5 632.0L60.5 635.4L64.5 634.9L69.0 633.2L79.5 632.2L96.5 632.5L99.5 633.1L101.0 634.0L102.3 638.0L103.3 647.0L102.7 667.5L102.1 671.5L102.8 674.5L102.6 675.5L98.0 677.3L90.5 677.8L75.0 677.8L61.5 676.9L60.5 677.2L58.0 679.0 M63.4 672.0L64.6 671.0L64.2 667.5L63.5 665.9L61.5 664.0L60.0 666.1L60.0 670.5L61.1 672.0L63.4 672.0 M58.0 679.2L56.5 679.5L55.3 679.0L54.2 677.5L54.0 676.0L54.7 669.0L53.9 662.5L54.2 643.0L55.1 635.5L56.5 631.3L57.5 631.4L60.0 634.3L61.0 634.7L64.5 634.4L69.0 632.9L79.5 632.1L96.5 632.3L101.0 633.7L101.8 635.0L102.5 638.0L103.4 646.5L103.1 661.0L102.4 671.5L103.2 675.5L102.0 676.3L98.0 677.5L90.5 678.0L75.0 677.9L61.5 677.2L60.5 677.4L58.0 679.2 M62.7 671.5L63.6 670.5L63.5 667.7L62.2 666.0L61.0 665.5L60.4 667.0L60.6 670.5L61.5 671.5L62.7 671.5 M57.5 679.5L56.0 679.5L55.0 678.9L54.3 678.0L53.9 676.0L54.6 669.0L53.8 662.5L54.1 643.0L54.9 635.5L55.7 632.0L56.5 630.6L57.5 630.9L60.0 633.7L61.0 634.1L65.0 633.9L69.5 632.6L79.5 631.9L96.5 632.1L101.2 633.5L101.9 634.5L102.7 638.0L103.6 647.0L102.6 671.5L104.0 675.0L103.4 676.0L98.0 677.7L90.0 678.2L75.5 678.1L61.5 677.4L57.5 679.5 M57.5 679.7L56.0 679.7L54.9 679.0L54.2 678.0L53.8 676.0L54.4 669.0L53.7 662.5L53.9 643.5L54.7 635.5L56.0 630.5L57.0 630.0L60.0 633.3L61.5 633.8L65.0 633.6L69.5 632.5L80.0 631.8L96.5 632.0L100.0 632.7L101.5 633.5L102.9 638.0L103.7 647.0L102.8 671.5L103.5 673.4L105.4 675.0L103.0 676.6L97.5 677.9L82.5 678.4L61.5 677.6L57.5 679.7 M58.0 679.6L56.5 679.9L55.0 679.3L54.0 678.0L53.6 676.0L54.2 669.0L53.6 662.5L53.8 643.0L54.7 635.0L56.0 629.9L57.0 629.5L60.0 632.9L61.5 633.4L65.0 633.3L69.5 632.3L80.0 631.7L96.5 631.8L101.5 633.2L102.3 634.5L103.0 638.0L103.8 647.0L103.0 671.5L104.0 673.6L105.0 674.2L107.0 674.4L107.2 675.5L97.5 678.1L82.5 678.5L61.5 677.8L58.0 679.6 M58.5 679.5L56.5 680.0L55.0 679.4L53.9 678.0L53.5 676.0L54.1 669.0L53.5 661.5L53.7 643.0L54.4 635.5L55.2 631.0L56.0 629.3L57.0 628.9L59.5 632.2L61.5 633.1L65.0 633.1L69.5 632.1L80.0 631.6L96.5 631.7L101.5 633.0L102.5 634.5L103.2 638.0L104.0 647.0L103.2 671.5L104.5 673.6L107.5 674.2L107.9 675.0L107.5 675.9L97.0 678.3L82.5 678.6L61.5 678.0L58.5 679.5 M57.5 680.0L56.0 680.0L54.5 679.2L53.8 678.0L53.4 676.0L54.0 669.0L53.4 661.5L53.6 643.0L54.9 631.5L56.0 628.7L57.0 628.3L59.6 632.0L61.5 632.9L79.5 631.4L91.5 631.4L97.5 631.6L101.8 633.0L102.7 634.5L103.3 638.0L104.1 647.0L103.4 671.5L104.5 673.3L107.8 674.0L108.3 675.0L107.9 676.0L97.5 678.4L82.5 678.7L61.5 678.2L57.5 680.0 M57.5 680.2L56.0 680.2L54.5 679.3L53.7 678.0L53.3 676.0L53.9 669.0L53.2 661.0L53.5 642.5L54.7 631.5L56.0 628.0L57.0 627.6L59.5 631.6L61.5 632.7L79.5 631.3L91.5 631.3L98.0 631.6L102.0 632.9L102.7 634.0L103.4 637.5L104.2 647.0L103.6 671.5L104.6 673.0L108.2 674.0L108.7 675.0L108.3 676.0L107.0 676.8L97.0 678.6L82.5 678.8L61.5 678.3L57.5 680.2 M58.0 680.1L56.0 680.3L54.5 679.5L53.6 678.0L53.2 676.0L53.7 669.0L53.2 662.0L53.4 643.0L54.7 631.0L56.5 626.5L57.0 626.7L59.7 631.5L61.5 632.5L79.5 631.2L91.5 631.1L97.5 631.4L102.0 632.7L102.9 634.0L103.6 638.0L104.3 647.0L103.8 671.5L105.0 673.0L107.5 673.3L108.5 673.9L109.0 675.0L108.5 676.2L107.0 677.0L97.0 678.7L82.5 678.9L61.5 678.5L58.0 680.1 M58.5 680.0L56.5 680.4L54.5 679.6L53.7 678.5L53.1 676.0L53.6 669.0L53.1 662.5L53.3 643.0L54.6 630.5L56.5 625.2L57.0 625.1L59.5 631.0L61.5 632.3L79.0 631.1L91.5 631.0L97.5 631.3L102.0 632.5L102.8 633.5L103.2 635.0L104.4 646.5L103.9 671.0L104.6 672.5L107.5 673.0L108.9 674.0L109.2 675.5L108.6 676.5L107.0 677.2L97.0 678.8L61.5 678.7L58.5 680.0 M57.0 680.5L55.5 680.3L54.0 679.2L53.2 677.5L53.0 675.5L53.5 669.0L53.0 661.0L53.2 642.5L54.3 631.0L56.5 623.6L57.0 623.4L57.5 624.3L58.1 627.5L59.5 630.7L61.5 632.1L65.5 632.1L69.5 631.4L91.5 630.9L98.0 631.2L101.0 631.9L102.5 632.8L103.2 634.0L103.9 638.0L104.5 647.0L104.0 671.0L105.0 672.5L107.5 672.8L108.7 673.5L109.5 675.0L108.9 676.5L107.0 677.4L97.5 678.9L61.5 678.8L57.0 680.5 M57.5 680.6L55.5 680.4L54.1 679.5L53.2 678.0L53.0 676.0L53.4 669.0L52.9 661.0L53.1 642.5L54.3 630.5L56.4 622.5L57.0 622.4L57.5 623.0L58.3 627.5L59.5 630.4L60.4 631.5L61.5 631.9L65.5 631.9L69.5 631.3L91.5 630.8L98.0 631.1L101.0 631.7L102.5 632.6L103.3 634.0L103.9 637.5L104.6 647.0L104.2 671.0L105.0 672.3L107.5 672.7L109.0 673.5L109.8 675.0L109.3 676.5L107.0 677.6L97.0 679.1L61.5 678.9L57.5 680.6 M115.5 676.2L114.0 676.0L114.0 675.0L115.0 674.7L115.9 675.0L116.2 675.5L115.5 676.2 M58.0 680.5L56.0 680.7L54.5 680.0L53.3 678.5L52.9 676.0L53.3 669.0L52.8 661.0L53.1 642.5L54.1 630.5L56.0 622.2L57.0 621.8L57.7 622.5L59.0 629.0L60.1 631.0L61.5 631.8L79.5 630.8L91.5 630.7L97.5 630.9L101.0 631.6L102.5 632.4L103.6 635.0L104.7 647.0L104.3 671.0L105.0 672.1L108.0 672.6L109.2 673.5L110.1 675.0L109.6 676.5L107.5 677.6L97.0 679.2L61.5 679.1L58.0 680.5 M115.5 676.6L114.0 676.6L113.3 676.0L113.4 675.0L114.0 674.4L115.5 674.3L118.2 675.5L115.5 676.6" fill="none" stroke="#222" stroke-width="1.0"/>
</g>
<path d="M55.5 505H229V679" fill="none" stroke="#aaa" stroke-width="1"/>
<path d="M55.5 505V679H229" fill="none" stroke="#555" stroke-width="1.1"/>
<path d="M51.0 679.0H55.5M55.5 679V683M53.5 665.9H55.5M68.6 679V681M53.5 658.2H55.5M76.2 679V681M53.5 652.8H55.5M81.6 679V681M53.5 648.6H55.5M85.8 679V681M53.5 645.2H55.5M89.3 679V681M53.5 642.2H55.5M92.2 679V681M53.5 639.7H55.5M94.7 679V681M53.5 637.5H55.5M96.9 679V681M51.0 635.5H55.5M98.9 679V683M53.5 622.4H55.5M111.9 679V681M53.5 614.7H55.5M119.6 679V681M53.5 609.3H55.5M125.0 679V681M53.5 605.1H55.5M129.2 679V681M53.5 601.7H55.5M132.6 679V681M53.5 598.7H55.5M135.5 679V681M53.5 596.2H55.5M138.0 679V681M53.5 594.0H55.5M140.3 679V681M51.0 592.0H55.5M142.2 679V683M53.5 578.9H55.5M155.3 679V681M53.5 571.2H55.5M162.9 679V681M53.5 565.8H55.5M168.4 679V681M53.5 561.6H55.5M172.6 679V681M53.5 558.2H55.5M176.0 679V681M53.5 555.2H55.5M178.9 679V681M53.5 552.7H55.5M181.4 679V681M53.5 550.5H55.5M183.6 679V681M51.0 548.5H55.5M185.6 679V683M53.5 535.4H55.5M198.7 679V681M53.5 527.7H55.5M206.3 679V681M53.5 522.3H55.5M211.7 679V681M53.5 518.1H55.5M215.9 679V681M53.5 514.7H55.5M219.4 679V681M53.5 511.7H55.5M222.3 679V681M53.5 509.2H55.5M224.8 679V681M53.5 507.0H55.5M227.0 679V681M51.0 505.0H55.5M229.0 679V683" stroke="#444" stroke-width="0.8" fill="none"/>
<rect x="106.2" y="532.4" width="108.89999999999999" height="58.30000000000007" fill="none" stroke="#222" stroke-width="1"/>
<text x="211.29999999999998" y="547.3" font-size="14.8" text-anchor="end">0.20</text>
<rect x="137.7" y="621.2" width="91.30000000000001" height="57.799999999999955" fill="#fff"/>
<path d="M137.7 679V621.2H229" fill="none" stroke="#444" stroke-width="1"/>
<path d="M137.7 671.8h2M137.7 664.5h2M137.7 657.3h2M137.7 650.1h2M137.7 642.9h2M137.7 635.7h2M137.7 628.4h2" stroke="#555" stroke-width="0.7"/>
<path d="M138.5 677.8C141.8 677.8 154.2 677.9 158.0 677.8C161.8 677.7 160.4 677.2 161.5 677.0C162.6 676.8 163.5 676.3 164.5 676.3C165.5 676.3 166.7 676.8 167.6 677.0C168.5 677.2 166.1 677.7 170.0 677.8C173.9 677.9 186.9 678.0 191.0 677.8C195.1 677.6 193.5 676.8 194.5 676.8C195.5 676.8 196.1 677.8 197.0 677.8C197.9 677.8 199.0 677.2 200.0 677.0C201.0 676.8 202.1 676.8 203.0 676.8C203.9 676.8 204.2 677.4 205.3 676.8C206.4 676.2 208.4 674.6 209.4 673.0C210.4 671.4 210.8 670.4 211.4 667.0C212.0 663.6 212.5 659.2 213.0 652.7C213.5 646.2 214.2 633.3 214.5 628.3C214.8 623.2 214.8 622.4 215.1 622.4C215.4 622.4 215.7 623.2 216.1 628.3C216.5 633.3 217.1 645.9 217.5 652.7C217.9 659.5 218.2 665.1 218.5 669.0C218.8 672.9 219.1 674.5 219.5 676.0C219.9 677.5 219.5 677.5 221.0 677.8C222.5 678.1 227.2 677.8 228.5 677.8" fill="none" stroke="#222" stroke-width="0.9"/>
<clipPath id="c688"><rect x="55.5" y="688" width="173.5" height="173"/></clipPath>
<g clip-path="url(#c688)">
<path d="M158 727h1v1h-1zM160 727h1v1h-1zM168 727h1v1h-1zM122 728h1v1h-1zM169 728h1v1h-1zM123 729h1v1h-1zM137 729h1v1h-1zM119 730h1v1h-1zM122 730h2v1h-2zM130 730h1v1h-1zM132 730h1v1h-1zM136 730h1v1h-1zM138 730h1v1h-1zM165 730h1v1h-1zM171 730h1v1h-1zM117 731h1v1h-1zM123 731h1v1h-1zM130 731h1v1h-1zM142 731h1v1h-1zM148 731h1v1h-1zM151 731h1v1h-1zM164 731h1v1h-1zM167 731h1v1h-1zM169 731h1v1h-1zM119 732h1v1h-1zM127 732h1v1h-1zM129 732h1v1h-1zM137 732h2v1h-2zM143 732h2v1h-2zM152 732h1v1h-1zM155 732h1v1h-1zM166 732h1v1h-1zM119 733h1v1h-1zM121 733h1v1h-1zM127 733h4v1h-4zM132 733h1v1h-1zM136 733h1v1h-1zM138 733h1v1h-1zM142 733h2v1h-2zM149 733h2v1h-2zM154 733h1v1h-1zM161 733h4v1h-4zM127 734h1v1h-1zM129 734h2v1h-2zM140 734h1v1h-1zM143 734h1v1h-1zM145 734h1v1h-1zM147 734h1v1h-1zM149 734h1v1h-1zM152 734h1v1h-1zM154 734h1v1h-1zM157 734h1v1h-1zM118 735h1v1h-1zM120 735h2v1h-2zM125 735h1v1h-1zM131 735h1v1h-1zM133 735h3v1h-3zM139 735h3v1h-3zM146 735h1v1h-1zM152 735h1v1h-1zM155 735h2v1h-2zM163 735h1v1h-1zM203 735h1v1h-1zM114 736h1v1h-1zM116 736h1v1h-1zM125 736h1v1h-1zM127 736h4v1h-4zM132 736h3v1h-3zM138 736h3v1h-3zM143 736h2v1h-2zM148 736h1v1h-1zM151 736h1v1h-1zM155 736h1v1h-1zM158 736h1v1h-1zM161 736h2v1h-2zM168 736h3v1h-3zM123 737h1v1h-1zM127 737h1v1h-1zM132 737h1v1h-1zM136 737h2v1h-2zM139 737h1v1h-1zM142 737h2v1h-2zM145 737h1v1h-1zM148 737h1v1h-1zM150 737h1v1h-1zM152 737h2v1h-2zM156 737h2v1h-2zM163 737h2v1h-2zM172 737h2v1h-2zM202 737h1v1h-1zM113 738h1v1h-1zM116 738h2v1h-2zM121 738h1v1h-1zM125 738h1v1h-1zM128 738h1v1h-1zM130 738h2v1h-2zM134 738h4v1h-4zM139 738h1v1h-1zM142 738h1v1h-1zM147 738h2v1h-2zM152 738h1v1h-1zM158 738h1v1h-1zM162 738h1v1h-1zM168 738h1v1h-1zM172 738h1v1h-1zM178 738h1v1h-1zM199 738h2v1h-2zM202 738h1v1h-1zM112 739h1v1h-1zM118 739h1v1h-1zM122 739h1v1h-1zM124 739h7v1h-7zM132 739h1v1h-1zM135 739h1v1h-1zM137 739h4v1h-4zM142 739h4v1h-4zM148 739h1v1h-1zM153 739h2v1h-2zM157 739h1v1h-1zM160 739h1v1h-1zM169 739h1v1h-1zM172 739h2v1h-2zM200 739h1v1h-1zM111 740h1v1h-1zM113 740h1v1h-1zM115 740h2v1h-2zM119 740h4v1h-4zM125 740h2v1h-2zM128 740h1v1h-1zM131 740h1v1h-1zM133 740h2v1h-2zM136 740h1v1h-1zM139 740h1v1h-1zM141 740h1v1h-1zM143 740h2v1h-2zM147 740h1v1h-1zM150 740h1v1h-1zM157 740h2v1h-2zM163 740h1v1h-1zM166 740h1v1h-1zM171 740h2v1h-2zM199 740h1v1h-1zM204 740h2v1h-2zM106 741h1v1h-1zM111 741h1v1h-1zM114 741h1v1h-1zM118 741h1v1h-1zM120 741h3v1h-3zM124 741h2v1h-2zM128 741h1v1h-1zM130 741h2v1h-2zM137 741h1v1h-1zM140 741h3v1h-3zM148 741h2v1h-2zM151 741h2v1h-2zM156 741h2v1h-2zM159 741h1v1h-1zM161 741h1v1h-1zM163 741h2v1h-2zM166 741h3v1h-3zM199 741h1v1h-1zM201 741h2v1h-2zM205 741h2v1h-2zM104 742h1v1h-1zM112 742h2v1h-2zM116 742h1v1h-1zM119 742h1v1h-1zM123 742h1v1h-1zM126 742h1v1h-1zM128 742h1v1h-1zM130 742h6v1h-6zM138 742h3v1h-3zM142 742h1v1h-1zM145 742h2v1h-2zM151 742h4v1h-4zM156 742h1v1h-1zM159 742h1v1h-1zM163 742h1v1h-1zM168 742h2v1h-2zM171 742h2v1h-2zM197 742h1v1h-1zM206 742h2v1h-2zM104 743h1v1h-1zM113 743h1v1h-1zM116 743h2v1h-2zM121 743h4v1h-4zM127 743h3v1h-3zM131 743h1v1h-1zM133 743h1v1h-1zM135 743h8v1h-8zM144 743h2v1h-2zM148 743h2v1h-2zM161 743h1v1h-1zM165 743h1v1h-1zM167 743h1v1h-1zM192 743h1v1h-1zM198 743h1v1h-1zM201 743h3v1h-3zM207 743h1v1h-1zM112 744h1v1h-1zM115 744h2v1h-2zM118 744h2v1h-2zM122 744h2v1h-2zM125 744h1v1h-1zM127 744h1v1h-1zM129 744h1v1h-1zM132 744h11v1h-11zM144 744h1v1h-1zM147 744h1v1h-1zM149 744h2v1h-2zM152 744h1v1h-1zM154 744h1v1h-1zM156 744h2v1h-2zM160 744h2v1h-2zM163 744h1v1h-1zM167 744h2v1h-2zM171 744h1v1h-1zM183 744h1v1h-1zM202 744h1v1h-1zM209 744h1v1h-1zM114 745h1v1h-1zM119 745h1v1h-1zM121 745h5v1h-5zM127 745h1v1h-1zM129 745h12v1h-12zM142 745h1v1h-1zM144 745h4v1h-4zM149 745h2v1h-2zM153 745h2v1h-2zM157 745h4v1h-4zM162 745h2v1h-2zM165 745h1v1h-1zM168 745h1v1h-1zM181 745h2v1h-2zM197 745h2v1h-2zM201 745h2v1h-2zM207 745h2v1h-2zM106 746h2v1h-2zM113 746h5v1h-5zM119 746h1v1h-1zM121 746h1v1h-1zM123 746h8v1h-8zM133 746h1v1h-1zM135 746h1v1h-1zM137 746h1v1h-1zM139 746h2v1h-2zM143 746h2v1h-2zM146 746h3v1h-3zM155 746h1v1h-1zM157 746h3v1h-3zM161 746h1v1h-1zM165 746h1v1h-1zM168 746h2v1h-2zM184 746h1v1h-1zM196 746h1v1h-1zM198 746h1v1h-1zM200 746h1v1h-1zM202 746h1v1h-1zM206 746h1v1h-1zM208 746h1v1h-1zM110 747h2v1h-2zM115 747h4v1h-4zM120 747h6v1h-6zM129 747h2v1h-2zM132 747h1v1h-1zM134 747h2v1h-2zM137 747h3v1h-3zM141 747h1v1h-1zM145 747h1v1h-1zM150 747h1v1h-1zM157 747h2v1h-2zM180 747h1v1h-1zM195 747h2v1h-2zM198 747h1v1h-1zM202 747h1v1h-1zM204 747h1v1h-1zM206 747h1v1h-1zM209 747h1v1h-1zM112 748h1v1h-1zM116 748h1v1h-1zM123 748h1v1h-1zM125 748h2v1h-2zM128 748h6v1h-6zM135 748h1v1h-1zM137 748h1v1h-1zM139 748h1v1h-1zM142 748h1v1h-1zM145 748h2v1h-2zM148 748h1v1h-1zM155 748h1v1h-1zM158 748h1v1h-1zM160 748h1v1h-1zM164 748h1v1h-1zM166 748h1v1h-1zM171 748h1v1h-1zM175 748h1v1h-1zM186 748h1v1h-1zM195 748h2v1h-2zM202 748h1v1h-1zM205 748h1v1h-1zM112 749h2v1h-2zM115 749h2v1h-2zM118 749h1v1h-1zM121 749h2v1h-2zM124 749h7v1h-7zM133 749h1v1h-1zM135 749h4v1h-4zM140 749h2v1h-2zM143 749h2v1h-2zM147 749h1v1h-1zM150 749h1v1h-1zM155 749h1v1h-1zM158 749h2v1h-2zM164 749h3v1h-3zM168 749h1v1h-1zM170 749h1v1h-1zM191 749h1v1h-1zM195 749h1v1h-1zM199 749h1v1h-1zM201 749h2v1h-2zM114 750h1v1h-1zM118 750h1v1h-1zM120 750h2v1h-2zM124 750h2v1h-2zM128 750h4v1h-4zM133 750h5v1h-5zM140 750h1v1h-1zM142 750h3v1h-3zM153 750h1v1h-1zM155 750h3v1h-3zM161 750h1v1h-1zM163 750h1v1h-1zM167 750h2v1h-2zM170 750h2v1h-2zM173 750h1v1h-1zM191 750h1v1h-1zM196 750h5v1h-5zM202 750h1v1h-1zM207 750h1v1h-1zM114 751h1v1h-1zM116 751h1v1h-1zM118 751h3v1h-3zM123 751h1v1h-1zM125 751h3v1h-3zM129 751h1v1h-1zM132 751h7v1h-7zM140 751h1v1h-1zM142 751h2v1h-2zM145 751h2v1h-2zM149 751h1v1h-1zM157 751h2v1h-2zM160 751h3v1h-3zM167 751h1v1h-1zM169 751h1v1h-1zM175 751h1v1h-1zM189 751h1v1h-1zM193 751h1v1h-1zM198 751h2v1h-2zM201 751h2v1h-2zM208 751h1v1h-1zM111 752h1v1h-1zM114 752h1v1h-1zM119 752h2v1h-2zM122 752h2v1h-2zM125 752h3v1h-3zM130 752h4v1h-4zM135 752h3v1h-3zM139 752h2v1h-2zM142 752h1v1h-1zM145 752h1v1h-1zM150 752h1v1h-1zM157 752h2v1h-2zM163 752h1v1h-1zM166 752h1v1h-1zM196 752h2v1h-2zM202 752h1v1h-1zM204 752h1v1h-1zM207 752h2v1h-2zM115 753h2v1h-2zM119 753h2v1h-2zM123 753h1v1h-1zM125 753h5v1h-5zM133 753h2v1h-2zM137 753h1v1h-1zM142 753h1v1h-1zM144 753h1v1h-1zM148 753h2v1h-2zM157 753h3v1h-3zM161 753h1v1h-1zM163 753h1v1h-1zM169 753h1v1h-1zM190 753h1v1h-1zM192 753h2v1h-2zM199 753h1v1h-1zM205 753h2v1h-2zM110 754h1v1h-1zM112 754h1v1h-1zM114 754h1v1h-1zM116 754h1v1h-1zM119 754h1v1h-1zM122 754h1v1h-1zM133 754h4v1h-4zM138 754h1v1h-1zM141 754h1v1h-1zM143 754h2v1h-2zM149 754h1v1h-1zM156 754h1v1h-1zM158 754h1v1h-1zM161 754h3v1h-3zM171 754h1v1h-1zM185 754h1v1h-1zM187 754h1v1h-1zM196 754h1v1h-1zM200 754h1v1h-1zM203 754h1v1h-1zM205 754h1v1h-1zM112 755h1v1h-1zM114 755h1v1h-1zM121 755h1v1h-1zM124 755h1v1h-1zM128 755h1v1h-1zM130 755h2v1h-2zM135 755h1v1h-1zM138 755h4v1h-4zM147 755h1v1h-1zM154 755h1v1h-1zM157 755h1v1h-1zM169 755h1v1h-1zM192 755h1v1h-1zM195 755h1v1h-1zM198 755h3v1h-3zM205 755h1v1h-1zM110 756h1v1h-1zM114 756h2v1h-2zM117 756h1v1h-1zM119 756h1v1h-1zM123 756h1v1h-1zM125 756h3v1h-3zM129 756h1v1h-1zM131 756h6v1h-6zM138 756h1v1h-1zM146 756h1v1h-1zM149 756h1v1h-1zM155 756h1v1h-1zM157 756h1v1h-1zM193 756h1v1h-1zM198 756h1v1h-1zM204 756h1v1h-1zM109 757h1v1h-1zM118 757h1v1h-1zM120 757h2v1h-2zM123 757h2v1h-2zM127 757h1v1h-1zM131 757h2v1h-2zM136 757h1v1h-1zM143 757h2v1h-2zM149 757h1v1h-1zM159 757h1v1h-1zM194 757h1v1h-1zM197 757h1v1h-1zM201 757h1v1h-1zM206 757h1v1h-1zM116 758h1v1h-1zM118 758h1v1h-1zM124 758h1v1h-1zM126 758h1v1h-1zM129 758h1v1h-1zM132 758h1v1h-1zM134 758h1v1h-1zM136 758h2v1h-2zM146 758h1v1h-1zM149 758h1v1h-1zM153 758h1v1h-1zM160 758h1v1h-1zM199 758h1v1h-1zM201 758h1v1h-1zM204 758h1v1h-1zM117 759h1v1h-1zM125 759h1v1h-1zM129 759h1v1h-1zM132 759h1v1h-1zM135 759h1v1h-1zM137 759h2v1h-2zM142 759h1v1h-1zM144 759h1v1h-1zM147 759h1v1h-1zM151 759h1v1h-1zM153 759h1v1h-1zM160 759h1v1h-1zM199 759h1v1h-1zM123 760h1v1h-1zM129 760h2v1h-2zM132 760h1v1h-1zM136 760h1v1h-1zM158 760h1v1h-1zM133 761h1v1h-1zM140 761h1v1h-1zM197 761h2v1h-2zM201 761h1v1h-1zM203 762h1v1h-1zM134 767h1v1h-1zM109 771h1v1h-1zM111 771h1v1h-1zM110 773h2v1h-2zM123 776h1v1h-1zM93 778h1v1h-1zM97 779h1v1h-1zM118 779h1v1h-1zM94 780h2v1h-2zM118 780h1v1h-1zM96 781h1v1h-1zM103 781h1v1h-1zM108 781h1v1h-1zM117 781h2v1h-2zM96 782h1v1h-1zM119 782h1v1h-1zM89 783h1v1h-1zM119 783h1v1h-1zM88 784h1v1h-1zM90 784h1v1h-1zM95 784h1v1h-1zM111 785h1v1h-1zM116 785h1v1h-1zM87 786h1v1h-1zM115 787h1v1h-1zM109 788h1v1h-1zM69 789h1v1h-1zM111 789h1v1h-1zM113 789h1v1h-1zM115 789h1v1h-1zM113 790h1v1h-1zM70 791h3v1h-3zM93 792h2v1h-2zM104 792h1v1h-1zM113 792h1v1h-1zM91 793h1v1h-1zM93 793h1v1h-1zM91 794h2v1h-2zM102 794h1v1h-1zM106 794h1v1h-1zM119 794h1v1h-1zM126 794h1v1h-1zM83 795h1v1h-1zM93 795h1v1h-1zM127 795h1v1h-1zM66 796h1v1h-1zM77 796h1v1h-1zM60 797h1v1h-1zM68 797h1v1h-1zM83 797h1v1h-1zM85 797h1v1h-1zM96 797h1v1h-1zM105 797h1v1h-1zM56 798h1v1h-1zM66 798h1v1h-1zM70 798h1v1h-1zM72 798h1v1h-1zM77 798h4v1h-4zM95 798h1v1h-1zM104 798h1v1h-1zM58 799h2v1h-2zM70 799h1v1h-1zM77 799h3v1h-3zM81 799h2v1h-2zM87 799h2v1h-2zM92 799h2v1h-2zM96 799h1v1h-1zM98 799h2v1h-2zM105 799h1v1h-1zM111 799h1v1h-1zM133 799h1v1h-1zM58 800h1v1h-1zM69 800h1v1h-1zM77 800h1v1h-1zM79 800h1v1h-1zM83 800h2v1h-2zM86 800h1v1h-1zM89 800h1v1h-1zM93 800h4v1h-4zM98 800h1v1h-1zM107 800h1v1h-1zM111 800h1v1h-1zM93 801h1v1h-1zM95 801h1v1h-1zM98 801h1v1h-1zM103 801h3v1h-3zM109 801h1v1h-1zM61 802h1v1h-1zM67 802h2v1h-2zM70 802h1v1h-1zM72 802h3v1h-3zM76 802h1v1h-1zM79 802h1v1h-1zM84 802h1v1h-1zM86 802h1v1h-1zM91 802h2v1h-2zM95 802h2v1h-2zM100 802h1v1h-1zM103 802h2v1h-2zM106 802h3v1h-3zM111 802h1v1h-1zM118 802h1v1h-1zM60 803h1v1h-1zM62 803h4v1h-4zM68 803h1v1h-1zM72 803h1v1h-1zM74 803h1v1h-1zM83 803h2v1h-2zM87 803h1v1h-1zM89 803h1v1h-1zM93 803h1v1h-1zM95 803h4v1h-4zM106 803h1v1h-1zM108 803h1v1h-1zM113 803h1v1h-1zM117 803h2v1h-2zM60 804h1v1h-1zM64 804h1v1h-1zM67 804h1v1h-1zM70 804h1v1h-1zM72 804h1v1h-1zM75 804h3v1h-3zM79 804h1v1h-1zM81 804h2v1h-2zM84 804h2v1h-2zM90 804h1v1h-1zM92 804h1v1h-1zM97 804h1v1h-1zM99 804h5v1h-5zM105 804h1v1h-1zM109 804h1v1h-1zM111 804h1v1h-1zM114 804h1v1h-1zM118 804h1v1h-1zM62 805h3v1h-3zM68 805h1v1h-1zM70 805h1v1h-1zM74 805h1v1h-1zM76 805h1v1h-1zM79 805h2v1h-2zM82 805h2v1h-2zM87 805h1v1h-1zM90 805h8v1h-8zM99 805h2v1h-2zM102 805h2v1h-2zM105 805h1v1h-1zM107 805h1v1h-1zM110 805h1v1h-1zM60 806h2v1h-2zM63 806h2v1h-2zM67 806h4v1h-4zM72 806h1v1h-1zM74 806h1v1h-1zM77 806h4v1h-4zM82 806h2v1h-2zM88 806h1v1h-1zM91 806h2v1h-2zM94 806h1v1h-1zM97 806h4v1h-4zM103 806h1v1h-1zM106 806h3v1h-3zM110 806h1v1h-1zM114 806h2v1h-2zM118 806h1v1h-1zM60 807h4v1h-4zM70 807h3v1h-3zM74 807h1v1h-1zM76 807h1v1h-1zM78 807h2v1h-2zM83 807h2v1h-2zM86 807h4v1h-4zM91 807h2v1h-2zM95 807h3v1h-3zM100 807h2v1h-2zM103 807h2v1h-2zM108 807h3v1h-3zM114 807h2v1h-2zM59 808h7v1h-7zM67 808h1v1h-1zM70 808h4v1h-4zM75 808h6v1h-6zM83 808h2v1h-2zM86 808h1v1h-1zM88 808h3v1h-3zM92 808h4v1h-4zM97 808h4v1h-4zM102 808h2v1h-2zM105 808h1v1h-1zM108 808h1v1h-1zM113 808h1v1h-1zM116 808h1v1h-1zM61 809h1v1h-1zM66 809h3v1h-3zM70 809h1v1h-1zM73 809h1v1h-1zM78 809h4v1h-4zM83 809h4v1h-4zM89 809h2v1h-2zM93 809h1v1h-1zM97 809h8v1h-8zM107 809h2v1h-2zM112 809h2v1h-2zM64 810h2v1h-2zM68 810h14v1h-14zM83 810h6v1h-6zM91 810h2v1h-2zM94 810h13v1h-13zM111 810h2v1h-2zM62 811h9v1h-9zM73 811h8v1h-8zM83 811h3v1h-3zM88 811h14v1h-14zM104 811h1v1h-1zM108 811h1v1h-1zM110 811h3v1h-3zM114 811h1v1h-1zM61 812h18v1h-18zM80 812h4v1h-4zM85 812h10v1h-10zM96 812h15v1h-15zM113 812h3v1h-3zM121 812h1v1h-1zM61 813h6v1h-6zM68 813h37v1h-37zM106 813h3v1h-3zM110 813h1v1h-1zM113 813h1v1h-1zM116 813h1v1h-1zM61 814h5v1h-5zM67 814h6v1h-6zM74 814h2v1h-2zM77 814h7v1h-7zM88 814h5v1h-5zM94 814h2v1h-2zM97 814h3v1h-3zM101 814h5v1h-5zM107 814h2v1h-2zM111 814h1v1h-1zM113 814h2v1h-2zM116 814h2v1h-2zM106 815h7v1h-7zM114 815h2v1h-2zM107 816h4v1h-4zM115 816h1v1h-1zM117 816h1v1h-1zM108 817h6v1h-6zM116 817h2v1h-2zM108 818h2v1h-2zM111 818h1v1h-1zM113 818h1v1h-1zM115 818h1v1h-1zM108 819h1v1h-1zM111 819h1v1h-1zM113 819h3v1h-3zM118 819h1v1h-1zM108 820h1v1h-1zM110 820h7v1h-7zM118 820h1v1h-1zM108 821h5v1h-5zM114 821h1v1h-1zM118 821h1v1h-1zM108 822h6v1h-6zM116 822h1v1h-1zM108 823h5v1h-5zM116 823h1v1h-1zM108 824h5v1h-5zM115 824h1v1h-1zM108 825h5v1h-5zM114 825h4v1h-4zM109 826h1v1h-1zM112 826h1v1h-1zM118 826h1v1h-1zM109 827h3v1h-3zM113 827h1v1h-1zM109 828h3v1h-3zM113 828h4v1h-4zM120 828h1v1h-1zM108 829h5v1h-5zM115 829h1v1h-1zM117 829h2v1h-2zM109 830h7v1h-7zM108 831h1v1h-1zM110 831h2v1h-2zM113 831h2v1h-2zM118 831h1v1h-1zM108 832h6v1h-6zM109 833h3v1h-3zM113 833h2v1h-2zM108 834h3v1h-3zM112 834h4v1h-4zM108 835h4v1h-4zM114 835h1v1h-1zM116 835h1v1h-1zM108 836h2v1h-2zM111 836h2v1h-2zM115 836h4v1h-4zM108 837h10v1h-10zM119 837h1v1h-1zM108 838h4v1h-4zM113 838h4v1h-4zM108 839h3v1h-3zM114 839h4v1h-4zM121 839h1v1h-1zM109 840h3v1h-3zM115 840h2v1h-2zM108 841h2v1h-2zM111 841h6v1h-6zM108 842h1v1h-1zM110 842h5v1h-5zM108 843h6v1h-6zM116 843h2v1h-2zM119 843h1v1h-1zM108 844h6v1h-6zM118 844h1v1h-1zM120 844h2v1h-2zM109 845h2v1h-2zM114 845h2v1h-2zM109 846h3v1h-3zM113 846h2v1h-2zM116 846h1v1h-1zM108 847h5v1h-5zM114 847h1v1h-1zM117 847h1v1h-1zM109 848h6v1h-6zM108 849h5v1h-5zM114 849h2v1h-2zM108 850h6v1h-6zM115 850h2v1h-2zM118 850h1v1h-1zM108 851h2v1h-2zM112 851h1v1h-1zM114 851h2v1h-2zM118 851h1v1h-1zM109 852h2v1h-2zM113 852h4v1h-4zM109 853h3v1h-3zM113 853h1v1h-1zM115 853h2v1h-2zM113 854h1v1h-1z" fill="#333"/>
<path d="M128 691h1v1h-1zM133 703h1v1h-1zM93 707h1v1h-1zM190 711h1v1h-1zM197 712h1v1h-1zM135 715h1v1h-1zM139 719h1v1h-1zM149 719h1v1h-1zM147 721h1v1h-1zM149 722h1v1h-1zM90 723h1v1h-1zM121 723h1v1h-1zM131 724h1v1h-1zM126 725h1v1h-1zM145 725h1v1h-1zM166 725h1v1h-1zM125 726h1v1h-1zM131 726h1v1h-1zM146 726h1v1h-1zM160 726h1v1h-1zM137 727h1v1h-1zM150 727h1v1h-1zM154 727h1v1h-1zM165 727h1v1h-1zM111 728h1v1h-1zM118 728h1v1h-1zM141 728h1v1h-1zM146 728h1v1h-1zM156 728h1v1h-1zM168 728h1v1h-1zM141 729h1v1h-1zM151 729h1v1h-1zM160 729h1v1h-1zM101 730h1v1h-1zM114 730h1v1h-1zM173 730h1v1h-1zM181 730h2v1h-2zM108 731h1v1h-1zM133 731h1v1h-1zM146 731h1v1h-1zM180 731h1v1h-1zM108 732h1v1h-1zM158 732h1v1h-1zM114 733h1v1h-1zM170 733h1v1h-1zM202 733h1v1h-1zM102 734h1v1h-1zM107 734h1v1h-1zM193 734h1v1h-1zM205 734h1v1h-1zM212 734h1v1h-1zM113 735h1v1h-1zM173 735h1v1h-1zM197 735h1v1h-1zM106 736h1v1h-1zM178 736h1v1h-1zM185 736h1v1h-1zM206 736h1v1h-1zM211 736h1v1h-1zM103 737h1v1h-1zM188 738h1v1h-1zM196 738h1v1h-1zM108 739h1v1h-1zM194 739h2v1h-2zM176 740h1v1h-1zM180 740h1v1h-1zM176 741h1v1h-1zM184 741h1v1h-1zM189 741h2v1h-2zM194 742h1v1h-1zM214 742h1v1h-1zM78 743h1v1h-1zM103 743h1v1h-1zM178 743h1v1h-1zM194 743h1v1h-1zM107 744h1v1h-1zM191 744h1v1h-1zM98 745h1v1h-1zM177 745h1v1h-1zM103 746h1v1h-1zM188 746h1v1h-1zM99 747h1v1h-1zM173 747h1v1h-1zM185 747h1v1h-1zM89 748h1v1h-1zM107 748h1v1h-1zM176 748h1v1h-1zM211 748h1v1h-1zM86 749h1v1h-1zM181 749h1v1h-1zM213 749h1v1h-1zM179 750h1v1h-1zM185 750h1v1h-1zM83 751h1v1h-1zM109 751h1v1h-1zM102 752h1v1h-1zM166 753h1v1h-1zM172 753h1v1h-1zM175 753h1v1h-1zM177 753h1v1h-1zM182 753h1v1h-1zM186 753h1v1h-1zM214 754h1v1h-1zM93 755h1v1h-1zM210 755h1v1h-1zM95 756h1v1h-1zM152 756h1v1h-1zM166 756h1v1h-1zM183 756h1v1h-1zM187 756h1v1h-1zM208 756h1v1h-1zM171 757h1v1h-1zM77 758h1v1h-1zM91 758h1v1h-1zM107 758h1v1h-1zM111 758h1v1h-1zM165 758h1v1h-1zM76 759h1v1h-1zM102 759h1v1h-1zM115 759h1v1h-1zM154 759h1v1h-1zM204 759h1v1h-1zM209 759h1v1h-1zM70 760h1v1h-1zM91 760h1v1h-1zM93 760h1v1h-1zM157 760h1v1h-1zM178 760h1v1h-1zM207 760h2v1h-2zM122 761h1v1h-1zM157 761h1v1h-1zM165 761h1v1h-1zM173 761h1v1h-1zM178 761h1v1h-1zM193 761h1v1h-1zM196 761h1v1h-1zM100 762h1v1h-1zM105 762h1v1h-1zM110 762h1v1h-1zM116 762h1v1h-1zM127 762h1v1h-1zM138 762h1v1h-1zM143 762h2v1h-2zM192 762h1v1h-1zM201 762h1v1h-1zM95 763h1v1h-1zM133 763h1v1h-1zM144 763h1v1h-1zM149 763h1v1h-1zM90 764h1v1h-1zM123 764h1v1h-1zM125 764h1v1h-1zM205 764h1v1h-1zM72 765h1v1h-1zM87 765h1v1h-1zM111 765h1v1h-1zM133 765h1v1h-1zM136 765h1v1h-1zM141 765h1v1h-1zM149 765h1v1h-1zM198 765h1v1h-1zM69 766h1v1h-1zM71 766h1v1h-1zM95 766h1v1h-1zM119 766h1v1h-1zM130 766h1v1h-1zM137 766h1v1h-1zM146 766h1v1h-1zM92 767h1v1h-1zM99 767h1v1h-1zM200 767h1v1h-1zM210 767h1v1h-1zM85 768h1v1h-1zM96 768h1v1h-1zM103 768h1v1h-1zM112 768h1v1h-1zM134 768h1v1h-1zM152 768h1v1h-1zM82 769h2v1h-2zM126 769h1v1h-1zM128 769h1v1h-1zM146 769h1v1h-1zM219 769h1v1h-1zM59 770h1v1h-1zM97 770h1v1h-1zM117 770h2v1h-2zM99 771h1v1h-1zM106 772h1v1h-1zM115 772h1v1h-1zM122 772h1v1h-1zM127 772h1v1h-1zM71 773h1v1h-1zM86 773h1v1h-1zM89 773h1v1h-1zM118 773h1v1h-1zM145 773h1v1h-1zM58 774h1v1h-1zM70 774h1v1h-1zM78 774h1v1h-1zM141 774h1v1h-1zM147 774h1v1h-1zM150 774h1v1h-1zM75 775h1v1h-1zM92 775h1v1h-1zM94 775h1v1h-1zM97 775h1v1h-1zM166 775h1v1h-1zM64 776h1v1h-1zM69 776h1v1h-1zM114 776h1v1h-1zM125 776h1v1h-1zM142 776h1v1h-1zM99 777h1v1h-1zM114 777h1v1h-1zM121 777h1v1h-1zM150 777h1v1h-1zM212 777h1v1h-1zM71 778h1v1h-1zM75 778h1v1h-1zM81 778h1v1h-1zM122 778h1v1h-1zM68 779h1v1h-1zM80 779h1v1h-1zM91 779h1v1h-1zM103 779h1v1h-1zM107 779h1v1h-1zM110 779h1v1h-1zM130 779h1v1h-1zM156 779h1v1h-1zM84 780h1v1h-1zM90 780h1v1h-1zM104 780h1v1h-1zM127 780h1v1h-1zM133 780h1v1h-1zM137 781h1v1h-1zM80 782h1v1h-1zM87 782h1v1h-1zM127 782h1v1h-1zM72 783h1v1h-1zM104 783h1v1h-1zM110 783h1v1h-1zM114 783h1v1h-1zM75 784h1v1h-1zM77 784h1v1h-1zM97 784h1v1h-1zM101 784h1v1h-1zM122 784h1v1h-1zM124 784h1v1h-1zM80 785h1v1h-1zM85 785h1v1h-1zM92 785h1v1h-1zM94 785h1v1h-1zM118 785h1v1h-1zM139 785h1v1h-1zM167 785h1v1h-1zM62 786h1v1h-1zM77 786h1v1h-1zM107 786h1v1h-1zM110 786h1v1h-1zM113 786h1v1h-1zM121 786h1v1h-1zM130 786h1v1h-1zM135 786h1v1h-1zM146 786h1v1h-1zM85 787h1v1h-1zM121 787h1v1h-1zM125 787h1v1h-1zM190 787h1v1h-1zM102 788h1v1h-1zM118 788h1v1h-1zM125 788h1v1h-1zM166 788h1v1h-1zM65 789h1v1h-1zM82 789h1v1h-1zM104 789h1v1h-1zM119 789h1v1h-1zM125 789h1v1h-1zM129 789h1v1h-1zM86 790h1v1h-1zM68 791h1v1h-1zM78 791h1v1h-1zM97 791h1v1h-1zM99 791h1v1h-1zM57 792h1v1h-1zM74 792h1v1h-1zM105 792h1v1h-1zM112 792h1v1h-1zM119 792h1v1h-1zM143 792h1v1h-1zM176 792h1v1h-1zM56 793h1v1h-1zM77 793h1v1h-1zM83 793h1v1h-1zM102 793h1v1h-1zM115 793h1v1h-1zM124 794h1v1h-1zM127 794h1v1h-1zM131 794h1v1h-1zM141 794h1v1h-1zM87 795h1v1h-1zM96 795h1v1h-1zM105 795h1v1h-1zM109 795h1v1h-1zM119 795h1v1h-1zM121 795h1v1h-1zM56 796h1v1h-1zM60 796h1v1h-1zM65 796h1v1h-1zM88 796h1v1h-1zM100 796h1v1h-1zM159 796h1v1h-1zM102 797h1v1h-1zM128 797h1v1h-1zM140 797h1v1h-1zM113 798h1v1h-1zM116 798h2v1h-2zM123 798h1v1h-1zM66 799h1v1h-1zM74 799h1v1h-1zM118 799h1v1h-1zM131 799h1v1h-1zM62 800h2v1h-2zM131 800h1v1h-1zM134 800h2v1h-2zM122 803h1v1h-1zM135 803h1v1h-1zM153 803h1v1h-1zM144 804h1v1h-1zM149 804h1v1h-1zM225 804h1v1h-1zM132 805h1v1h-1zM138 805h1v1h-1zM178 805h1v1h-1zM167 806h1v1h-1zM120 807h1v1h-1zM123 807h1v1h-1zM137 808h1v1h-1zM162 808h1v1h-1zM119 810h1v1h-1zM121 810h1v1h-1zM126 811h1v1h-1zM128 812h1v1h-1zM119 813h1v1h-1zM128 814h1v1h-1zM123 815h1v1h-1zM136 816h1v1h-1zM168 816h1v1h-1zM139 820h1v1h-1zM158 822h1v1h-1zM120 823h1v1h-1zM123 824h1v1h-1zM199 824h1v1h-1zM142 825h1v1h-1zM121 828h1v1h-1zM144 828h2v1h-2zM118 832h1v1h-1zM204 832h1v1h-1zM169 833h1v1h-1zM123 834h1v1h-1zM122 836h1v1h-1zM122 837h1v1h-1zM177 838h1v1h-1zM210 838h1v1h-1zM127 839h1v1h-1zM120 840h1v1h-1zM123 842h1v1h-1zM149 843h1v1h-1zM127 844h1v1h-1zM172 847h1v1h-1zM128 848h1v1h-1zM187 848h1v1h-1zM119 851h1v1h-1zM124 854h1v1h-1zM126 854h1v1h-1zM151 854h1v1h-1zM118 855h1v1h-1zM127 857h1v1h-1zM195 857h1v1h-1zM120 860h1v1h-1z" fill="#666"/>
<path d="M87.0 839.5L86.2 839.0L86.1 837.0L85.4 836.0L84.0 835.4L82.0 835.6L81.5 835.2L80.9 833.5L81.5 832.4L86.5 831.7L88.5 833.1L91.3 834.0L91.5 836.0L90.5 838.5L87.0 839.5 M87.0 842.0L86.0 842.4L85.0 842.2L83.0 840.3L79.2 838.0L79.2 833.5L80.0 831.5L81.5 830.4L85.5 829.8L88.5 828.1L90.5 828.1L92.5 829.2L95.0 834.0L95.1 835.0L94.4 836.0L94.7 837.0L92.4 839.5L87.0 842.0 M97.0 838.2L95.2 837.5L95.0 837.0L95.8 836.0L96.5 836.0L97.4 837.0L97.0 838.2 M86.0 844.6L85.0 844.3L82.0 842.2L79.0 842.0L77.5 840.6L76.8 838.5L77.8 834.0L79.0 831.0L82.0 827.1L84.5 828.0L87.5 826.1L91.5 826.4L94.4 828.0L96.0 831.9L98.5 834.0L99.6 837.0L99.7 839.0L98.4 840.5L95.5 841.4L91.5 841.6L86.0 844.6 M87.5 846.0L85.5 846.1L82.0 844.0L78.5 843.2L76.2 840.5L75.9 838.0L76.8 833.5L80.8 825.5L82.0 825.0L84.5 825.3L87.5 824.2L90.0 824.3L95.5 827.0L98.3 830.5L100.5 832.4L101.1 834.0L101.2 839.5L100.5 841.3L96.6 844.5L92.5 845.3L89.5 845.2L87.5 846.0 M98.0 847.6L92.5 847.2L86.0 847.6L77.5 844.1L75.3 840.5L74.9 838.0L75.6 833.0L79.9 824.5L81.0 823.9L87.0 822.9L90.5 822.7L99.7 828.0L102.0 833.0L102.1 840.0L101.7 841.5L100.0 844.0L99.5 846.6L98.0 847.6 M96.0 849.5L88.5 849.0L85.0 849.8L80.0 847.4L77.0 846.8L74.4 840.5L73.1 831.5L74.0 830.0L76.0 829.0L78.6 823.5L81.0 822.6L90.5 821.6L92.5 822.2L95.0 823.9L98.0 824.5L100.5 826.7L102.7 832.5L102.7 841.0L101.4 844.0L100.4 848.0L99.0 849.2L96.0 849.5 M99.0 851.5L90.0 850.2L84.5 851.7L79.5 849.1L77.0 848.7L76.1 848.0L73.7 841.5L71.6 834.0L72.0 830.5L75.3 827.0L76.6 823.5L77.5 822.5L81.0 821.0L88.5 820.5L92.0 820.8L96.0 822.8L98.5 822.5L99.5 823.0L101.5 826.7L103.1 831.0L103.4 840.0L101.6 848.5L99.0 851.5 M57.0 842.1L56.3 840.0L57.0 834.6L57.5 835.4L57.7 837.5L57.5 841.0L57.0 842.1 M85.0 857.0L82.0 857.3L80.0 856.5L81.0 855.8L83.5 855.8L88.3 856.5L85.0 857.0 M99.5 853.2L98.5 853.2L95.5 851.9L91.0 851.2L84.5 852.9L76.5 849.6L75.5 848.7L72.7 842.5L71.8 838.0L70.2 834.5L71.1 830.0L74.2 826.5L75.6 823.0L76.5 821.9L81.5 819.7L85.5 819.9L91.0 819.5L93.0 820.0L95.5 821.5L99.0 821.4L100.2 822.0L103.5 830.5L103.8 840.5L102.3 849.0L100.5 852.3L99.5 853.2 M57.0 846.1L56.5 845.2L55.8 840.0L56.1 835.0L56.9 831.5L56.4 828.0L57.0 826.9L57.7 828.0L57.3 831.5L58.3 837.0L58.0 841.5L57.0 846.1 M89.5 857.6L81.5 857.8L75.5 857.1L74.7 856.5L76.0 855.7L79.2 855.0L85.5 854.9L89.5 855.3L91.3 856.0L91.7 856.5L91.3 857.0L89.5 857.6 M57.0 858.1L57.0 857.2L57.0 858.1 M89.5 858.0L81.0 858.2L75.5 857.8L73.4 857.0L73.2 856.5L74.0 855.6L79.8 853.0L75.5 849.9L73.5 846.5L69.7 842.5L70.3 838.0L69.0 834.0L70.2 829.5L73.1 826.5L75.4 821.5L79.3 819.5L82.0 818.7L85.5 819.1L91.5 818.8L96.0 820.4L99.0 820.5L100.5 821.0L101.2 822.0L104.0 830.5L104.1 842.0L103.3 845.0L103.0 848.9L100.3 855.5L98.1 857.0L93.5 857.1L89.5 858.0 M57.0 847.7L56.1 846.5L55.5 840.0L56.1 831.5L56.0 828.0L57.0 825.0L58.2 828.0L58.7 837.0L58.0 845.5L57.0 847.7 M94.1 855.5L96.9 854.5L96.4 853.5L94.1 852.5L91.0 852.1L87.9 853.5L88.4 854.0L94.1 855.5 M57.0 859.1L56.1 858.5L55.9 857.5L57.0 856.1L57.7 856.5L58.0 857.5L57.0 859.1 M83.5 858.5L75.5 858.2L71.9 857.0L71.8 856.5L72.8 855.5L76.0 853.9L76.7 852.5L68.6 843.5L68.7 837.0L68.1 834.0L69.2 829.5L72.4 826.0L73.2 822.5L74.0 821.1L78.9 819.0L83.0 818.1L86.0 818.6L91.5 818.4L100.5 820.2L101.9 821.5L104.5 831.5L104.5 842.0L103.7 845.0L103.6 848.5L101.6 855.5L100.7 856.5L98.5 857.5L83.5 858.5 M57.0 848.8L55.8 847.0L55.2 840.0L55.7 827.5L56.5 822.5L57.0 821.3L57.5 821.2L58.6 828.0L59.0 837.5L58.2 846.5L57.0 848.8 M57.0 859.6L55.9 859.0L55.6 857.5L56.0 856.1L57.0 855.4L58.0 855.9L58.5 857.0L58.0 858.8L57.0 859.6 M90.5 858.5L75.5 858.5L70.0 857.3L67.0 857.6L65.9 857.0L67.0 856.1L70.5 856.2L75.3 853.0L74.2 851.0L68.1 844.5L67.5 843.0L67.4 833.5L68.8 828.5L71.7 825.5L71.6 821.5L73.0 819.9L82.5 817.7L86.0 818.2L91.0 818.0L100.5 819.5L101.7 820.0L102.5 821.0L104.7 830.5L104.9 841.0L104.0 848.5L102.5 855.7L101.5 856.8L98.5 857.9L90.5 858.5 M57.0 849.8L56.0 848.7L55.5 847.2L55.0 840.0L55.9 823.0L56.5 820.7L57.5 820.0L58.5 822.0L59.3 837.5L58.6 846.5L58.0 848.6L57.0 849.8 M57.5 859.8L56.0 859.6L55.3 858.0L55.7 856.0L57.0 854.7L58.0 855.1L59.0 856.5L58.6 858.5L57.5 859.8 M82.5 859.0L66.5 858.0L64.8 857.0L65.5 856.0L66.5 855.6L71.0 855.2L73.1 853.5L73.6 852.5L69.3 846.5L67.2 844.5L66.6 843.0L66.5 834.0L68.0 828.4L70.7 825.5L70.2 822.0L70.5 820.5L73.0 819.0L83.0 817.4L86.5 817.9L92.0 817.7L102.0 819.3L103.1 820.5L105.0 831.0L105.1 842.0L103.0 856.5L98.5 858.2L82.5 859.0 M57.0 851.1L55.3 847.5L54.8 840.0L55.6 823.0L56.4 820.0L57.5 819.3L58.5 820.3L58.9 821.5L59.6 837.5L58.9 847.0L58.0 849.7L57.0 851.1 M57.5 860.1L56.0 859.9L55.1 858.0L55.5 855.8L57.0 853.8L58.0 854.3L59.7 856.5L58.6 859.0L57.5 860.1 M90.5 859.0L81.0 859.2L67.0 858.4L65.0 858.0L63.8 857.0L65.4 855.5L70.0 854.9L71.6 853.5L71.5 852.5L70.1 851.5L69.2 847.5L65.7 843.5L65.1 840.0L65.9 833.5L67.1 828.0L67.0 826.0L69.0 825.0L69.5 820.5L71.2 819.0L83.0 817.1L97.5 818.0L102.0 818.8L103.5 819.9L105.3 831.5L105.3 841.5L104.7 848.5L103.8 852.5L103.8 856.5L102.5 857.4L99.0 858.4L90.5 859.0 M58.0 860.1L57.0 860.5L56.0 860.2L54.9 858.0L55.2 856.0L56.5 853.0L55.0 846.5L54.7 840.0L55.0 828.0L55.7 821.0L56.2 819.5L57.0 818.8L58.5 819.5L59.2 821.0L59.8 829.5L59.9 837.5L59.4 845.5L57.9 852.5L58.9 854.5L61.1 856.5L58.0 860.1 M57.5 860.6L56.5 860.7L55.5 860.1L54.7 858.0L56.0 853.0L54.8 846.5L54.8 828.0L55.4 821.0L56.5 818.5L57.5 818.3L58.5 818.9L59.5 820.5L59.8 822.0L60.2 838.0L59.7 845.5L58.5 852.5L59.5 854.4L63.0 855.9L69.5 854.0L68.5 852.0L69.0 849.5L68.7 848.0L64.9 844.0L63.7 840.0L64.0 838.0L65.1 835.5L65.2 832.0L64.7 830.5L65.6 828.0L65.0 824.5L68.0 823.6L69.2 819.5L73.0 818.1L83.0 816.9L86.5 817.4L91.0 817.1L97.5 817.6L102.0 818.3L103.5 819.0L104.1 820.5L104.2 823.5L105.5 831.0L105.6 841.5L104.1 852.5L104.2 857.0L98.5 858.7L82.0 859.4L66.5 858.6L62.5 857.3L60.0 858.1L57.5 860.6 M58.0 860.6L57.0 860.9L55.7 860.5L54.9 859.5L54.5 858.0L55.7 853.0L54.6 846.5L54.6 828.0L55.3 820.5L56.5 818.0L58.0 818.0L59.9 820.5L60.5 827.7L61.0 829.3L61.5 829.6L63.7 827.5L63.4 824.0L64.0 822.5L67.0 822.7L68.4 819.5L71.7 818.0L83.0 816.7L86.5 817.1L91.0 816.9L97.5 817.4L102.5 818.0L104.0 819.0L105.7 831.0L105.8 841.5L104.5 852.0L104.9 856.5L104.5 857.4L98.5 859.0L88.0 859.5L67.0 858.9L62.0 857.9L60.0 858.5L58.0 860.6 M64.4 855.0L67.6 853.5L68.4 849.0L67.6 847.5L65.0 845.9L63.5 844.0L62.8 838.5L64.2 835.5L64.3 834.0L63.8 833.0L61.5 832.3L61.0 832.5L60.5 834.3L60.2 845.0L59.0 852.0L60.0 854.1L63.0 855.2L64.4 855.0 M57.0 861.1L55.0 860.1L54.4 858.0L55.4 853.0L54.5 847.0L54.2 840.5L54.5 828.0L55.1 820.5L56.5 817.5L58.0 817.5L60.2 820.0L61.5 825.6L62.4 822.5L63.5 821.1L66.5 820.8L69.0 818.5L72.5 817.5L83.0 816.5L86.5 816.9L97.5 817.1L102.5 817.7L104.0 818.5L104.7 820.0L104.8 823.5L105.9 831.0L105.9 842.0L104.7 852.5L105.4 856.5L105.0 857.5L98.5 859.2L88.0 859.7L67.0 859.1L61.5 858.3L60.5 858.5L58.4 860.5L57.0 861.1 M61.6 837.5L63.2 835.0L63.0 834.1L62.0 833.7L61.3 834.0L60.9 835.0L61.0 836.6L61.6 837.5 M64.6 854.5L66.6 853.5L67.7 849.0L67.0 847.9L64.0 847.0L61.7 844.5L62.0 842.5L61.5 839.3L60.8 842.0L61.2 844.5L59.7 848.5L59.4 852.0L60.5 853.7L63.0 854.6L64.6 854.5 M57.5 861.2L56.0 861.1L55.1 860.5L54.2 858.0L55.2 853.0L54.3 847.0L54.1 840.5L54.3 827.5L55.0 820.0L56.5 817.0L58.0 817.1L61.5 820.5L66.0 819.6L71.5 817.5L82.5 816.3L102.0 817.3L104.4 818.5L105.0 820.0L105.0 823.5L106.1 831.0L106.1 841.5L105.0 852.5L105.9 856.5L105.5 857.6L104.0 858.3L98.5 859.3L88.0 859.9L67.0 859.3L61.5 858.6L60.2 859.0L57.5 861.2 M64.4 854.0L66.0 853.0L66.9 849.0L66.2 848.5L64.0 848.2L62.0 846.5L61.0 846.5L59.9 849.0L60.0 852.0L61.0 853.1L64.4 854.0 M58.0 861.2L56.5 861.4L55.5 861.0L54.6 860.0L54.1 858.0L55.0 853.0L54.2 847.5L53.9 840.5L54.4 823.5L55.1 819.0L56.5 816.5L58.0 816.6L61.5 819.3L66.0 818.9L72.5 817.1L83.0 816.1L102.0 817.1L104.5 818.2L105.2 820.0L105.3 823.5L106.2 830.5L106.3 841.5L105.2 852.5L106.3 856.5L106.0 857.7L104.5 858.5L99.0 859.4L88.0 860.0L67.0 859.5L61.5 858.8L60.5 859.1L58.0 861.2 M61.5 851.5L62.9 849.0L62.6 848.0L61.5 847.2L60.5 848.2L60.2 850.0L60.5 851.3L61.5 851.5 M57.0 861.6L55.5 861.2L54.8 860.5L54.0 858.0L54.8 853.0L53.8 840.5L54.3 823.5L55.1 818.5L56.5 816.0L57.5 815.9L60.0 818.0L61.5 818.6L66.5 818.3L73.0 816.8L83.0 816.0L102.0 816.9L104.7 818.0L105.5 820.0L105.5 823.5L106.4 830.5L106.4 842.0L105.4 852.5L106.8 857.0L106.2 858.0L104.5 858.7L98.5 859.7L88.0 860.2L67.0 859.7L61.5 859.1L57.0 861.6 M61.7 849.5L61.5 848.3L61.0 848.5L60.9 849.5L61.0 849.9L61.7 849.5 M57.5 861.6L56.0 861.6L55.0 861.0L54.3 860.0L53.8 858.0L54.6 853.0L53.7 840.5L54.2 823.0L54.9 818.5L56.5 815.3L57.5 815.4L60.0 817.6L61.5 818.1L66.5 817.9L72.5 816.7L83.0 815.8L102.0 816.7L104.0 817.2L104.9 818.0L105.7 820.0L106.5 830.0L106.6 841.5L105.6 852.5L106.0 854.5L107.3 857.0L106.8 858.0L105.0 858.8L99.0 859.8L88.0 860.3L67.0 859.8L61.5 859.3L57.5 861.6 M58.0 861.6L56.5 861.8L55.0 861.2L54.2 860.0L53.7 858.0L54.5 853.0L53.6 840.5L54.0 823.0L54.7 818.5L56.5 814.2L57.0 814.1L60.0 817.2L61.5 817.7L66.5 817.6L73.5 816.4L83.0 815.7L101.5 816.4L103.5 816.8L104.8 817.5L105.8 819.5L106.7 830.0L106.7 841.5L105.8 852.5L106.2 854.5L107.9 857.0L107.3 858.0L105.5 858.9L99.0 859.9L88.5 860.4L76.0 860.3L61.5 859.5L58.0 861.6 M58.5 861.5L56.5 861.9L55.0 861.3L54.0 860.0L53.6 858.0L54.3 853.0L53.5 840.5L53.9 823.5L54.6 818.5L56.5 812.7L57.0 812.6L58.2 815.0L59.5 816.5L61.5 817.4L67.0 817.3L73.5 816.2L83.0 815.6L102.0 816.3L104.0 816.8L105.0 817.5L106.0 819.5L106.8 830.5L106.8 841.5L106.0 852.6L106.5 854.6L109.0 857.0L108.5 857.5L105.5 859.1L98.5 860.1L81.0 860.6L62.0 859.6L60.5 860.0L58.5 861.5 M57.5 862.0L56.0 862.0L54.5 861.0L53.5 858.0L54.2 853.0L53.4 840.5L53.8 823.0L56.5 809.5L57.2 810.0L58.5 815.0L61.0 817.0L67.0 817.1L73.5 816.1L83.0 815.4L102.0 816.1L105.0 817.2L106.1 819.5L106.9 830.0L107.0 841.5L106.2 853.0L107.0 854.9L110.1 856.5L110.0 857.3L106.0 859.2L98.5 860.2L81.0 860.7L62.0 859.8L60.9 860.0L57.5 862.0 M57.5 862.2L56.0 862.1L54.5 861.2L53.8 860.0L53.4 858.0L54.1 853.0L53.3 840.5L53.7 823.0L56.0 809.0L57.0 808.9L57.5 809.5L59.0 815.3L60.0 816.3L61.5 816.9L67.0 816.9L74.0 815.9L83.0 815.3L101.5 815.9L103.5 816.2L105.0 817.0L106.3 819.5L107.1 830.0L107.1 841.5L106.4 853.0L107.5 855.1L110.5 856.2L111.0 857.0L110.7 857.5L106.0 859.4L98.5 860.3L81.0 860.8L62.0 860.0L57.5 862.2 M58.0 862.1L56.0 862.2L54.7 861.5L53.7 860.0L53.3 858.0L54.0 853.0L53.2 840.5L53.6 823.0L55.4 809.5L56.0 808.5L57.0 808.4L57.8 809.5L59.1 815.0L60.0 816.0L61.5 816.6L67.0 816.7L74.0 815.7L83.0 815.2L101.5 815.8L104.0 816.2L105.2 817.0L106.4 819.5L107.2 830.0L107.2 841.5L106.6 853.0L107.5 854.8L110.9 856.0L111.4 857.5L106.0 859.6L99.0 860.4L81.0 860.9L62.0 860.1L58.0 862.1 M58.5 862.0L56.5 862.4L55.0 861.9L53.8 860.5L53.2 858.0L53.8 853.0L53.1 840.5L53.4 823.5L55.2 809.5L56.0 808.0L57.0 808.0L58.0 809.2L59.3 815.0L61.5 816.4L67.5 816.5L74.0 815.6L83.0 815.1L102.0 815.7L104.0 816.1L105.5 817.0L106.6 819.5L107.3 830.0L107.3 841.5L106.7 853.0L107.5 854.5L111.4 856.0L112.0 857.0L111.5 858.0L106.0 859.7L98.5 860.6L81.0 861.0L62.0 860.3L58.5 862.0 M57.0 862.5L55.5 862.3L54.4 861.5L53.5 860.0L53.1 858.0L53.7 853.0L53.0 840.5L53.3 823.5L54.6 815.5L54.9 809.5L55.6 808.0L56.5 807.5L57.8 808.5L58.7 810.5L59.3 814.5L60.0 815.5L61.5 816.2L67.5 816.3L83.0 815.0L102.0 815.6L104.0 815.9L105.5 816.8L106.7 819.5L107.4 829.5L106.9 853.0L107.8 854.5L110.5 855.2L111.8 856.0L112.4 857.0L112.1 858.0L106.5 859.8L98.5 860.7L81.0 861.2L62.0 860.4L57.0 862.5 M57.5 862.6L55.5 862.4L54.2 861.5L53.3 860.0L53.0 858.0L53.6 853.0L52.9 840.5L53.2 823.5L54.7 809.5L55.5 807.7L56.5 807.1L57.8 808.0L58.9 810.5L59.5 814.5L60.3 815.5L61.5 816.0L67.5 816.2L83.0 814.9L101.0 815.3L104.0 815.8L105.5 816.6L106.8 819.5L107.5 830.0L107.0 852.9L108.0 854.4L110.7 855.0L112.2 856.0L112.9 857.0L112.7 858.0L106.5 859.9L98.5 860.8L81.0 861.3L62.0 860.6L57.5 862.6 M58.0 862.6L56.0 862.6L54.5 861.9L53.2 860.0L52.9 858.0L53.5 853.0L52.8 840.5L53.2 823.0L54.6 809.5L55.5 807.3L56.5 806.7L57.5 807.3L58.9 810.0L59.7 814.5L60.5 815.4L62.0 816.0L67.5 816.0L83.0 814.8L101.5 815.2L104.0 815.6L105.5 816.5L106.9 819.0L107.6 829.5L107.7 841.5L107.1 852.5L108.0 854.2L111.2 855.0L114.2 857.5L112.0 858.8L106.5 860.1L99.0 860.9L81.0 861.4L62.5 860.7L61.0 860.9L58.0 862.6 M58.0 862.7L56.0 862.8L54.5 862.0L53.3 860.5L52.8 858.0L53.4 853.0L52.7 840.5L53.1 823.0L54.5 809.0L56.0 806.4L57.0 806.3L58.7 809.0L60.0 814.7L62.0 815.8L67.5 815.9L83.0 814.7L102.0 815.2L104.5 815.7L105.7 816.5L107.1 819.5L107.8 829.5L107.4 853.0L108.1 854.0L111.0 854.7L113.5 856.3L115.5 856.8L115.8 857.5L112.2 859.0L106.5 860.2L99.0 861.0L81.0 861.4L62.5 860.8L61.0 861.1L58.0 862.7" fill="none" stroke="#222" stroke-width="1.0"/>
</g>
<path d="M55.5 688H229V861" fill="none" stroke="#aaa" stroke-width="1"/>
<path d="M55.5 688V861H229" fill="none" stroke="#555" stroke-width="1.1"/>
<path d="M51.0 861.0H55.5M55.5 861V865M53.5 848.0H55.5M68.6 861V863M53.5 840.4H55.5M76.2 861V863M53.5 835.0H55.5M81.6 861V863M53.5 830.8H55.5M85.8 861V863M53.5 827.3H55.5M89.3 861V863M53.5 824.4H55.5M92.2 861V863M53.5 821.9H55.5M94.7 861V863M53.5 819.7H55.5M96.9 861V863M51.0 817.8H55.5M98.9 861V865M53.5 804.7H55.5M111.9 861V863M53.5 797.1H55.5M119.6 861V863M53.5 791.7H55.5M125.0 861V863M53.5 787.5H55.5M129.2 861V863M53.5 784.1H55.5M132.6 861V863M53.5 781.2H55.5M135.5 861V863M53.5 778.7H55.5M138.0 861V863M53.5 776.5H55.5M140.3 861V863M51.0 774.5H55.5M142.2 861V865M53.5 761.5H55.5M155.3 861V863M53.5 753.9H55.5M162.9 861V863M53.5 748.5H55.5M168.4 861V863M53.5 744.3H55.5M172.6 861V863M53.5 740.8H55.5M176.0 861V863M53.5 737.9H55.5M178.9 861V863M53.5 735.4H55.5M181.4 861V863M53.5 733.2H55.5M183.6 861V863M51.0 731.2H55.5M185.6 861V865M53.5 718.2H55.5M198.7 861V863M53.5 710.6H55.5M206.3 861V863M53.5 705.2H55.5M211.7 861V863M53.5 701.0H55.5M215.9 861V863M53.5 697.6H55.5M219.4 861V863M53.5 694.7H55.5M222.3 861V863M53.5 692.2H55.5M224.8 861V863M53.5 690.0H55.5M227.0 861V863M51.0 688.0H55.5M229.0 861V865" stroke="#444" stroke-width="0.8" fill="none"/>
<rect x="106.2" y="715.6" width="108.89999999999999" height="58.69999999999993" fill="none" stroke="#222" stroke-width="1"/>
<text x="211.29999999999998" y="730.5" font-size="14.8" text-anchor="end">1.48</text>
<rect x="137.7" y="804.2" width="91.30000000000001" height="56.799999999999955" fill="#fff"/>
<path d="M137.7 861V804.2H229" fill="none" stroke="#444" stroke-width="1"/>
<path d="M137.7 853.9h2M137.7 846.8h2M137.7 839.7h2M137.7 832.6h2M137.7 825.5h2M137.7 818.4h2M137.7 811.3h2" stroke="#555" stroke-width="0.7"/>
<path d="M138.5 860.3C141.2 860.3 151.2 860.4 155.0 860.3C158.8 860.2 159.8 860.3 161.5 859.8C163.2 859.2 163.8 858.5 165.0 857.0C166.2 855.5 167.7 853.3 168.7 851.0C169.7 848.7 170.2 846.8 171.0 843.0C171.8 839.2 172.8 833.2 173.5 828.0C174.2 822.8 174.8 815.6 175.3 812.0C175.8 808.4 176.0 806.4 176.4 806.4C176.8 806.4 177.1 808.6 177.5 812.0C177.9 815.4 178.3 824.3 178.8 826.5C179.3 828.7 179.8 825.3 180.3 825.0C180.8 824.7 181.4 823.3 181.9 824.5C182.4 825.7 182.8 828.8 183.3 832.0C183.8 835.2 184.4 842.1 185.0 843.8C185.6 845.5 186.2 842.3 186.8 842.0C187.4 841.7 188.1 841.1 188.6 841.8C189.1 842.5 189.6 844.8 190.0 846.0C190.4 847.2 190.5 849.0 191.0 849.0C191.5 849.0 192.4 846.6 193.0 846.0C193.6 845.4 194.1 844.8 194.7 845.5C195.3 846.2 195.8 848.6 196.5 850.0C197.2 851.4 198.2 853.5 199.2 854.0C200.1 854.5 201.4 852.8 202.2 853.0C203.0 853.2 203.3 854.5 204.0 855.0C204.7 855.5 205.6 855.9 206.3 856.0C207.1 856.1 207.8 855.7 208.5 855.5C209.2 855.3 209.7 855.9 210.4 855.0C211.1 854.1 211.8 851.5 212.5 850.0C213.2 848.5 213.9 845.7 214.5 845.9C215.1 846.1 215.6 848.7 216.3 851.0C217.0 853.3 217.9 858.0 218.5 859.5C219.1 861.0 218.3 860.2 220.0 860.3C221.7 860.4 227.1 860.3 228.5 860.3" fill="none" stroke="#222" stroke-width="0.9"/>
<clipPath id="c868"><rect x="55.5" y="868" width="173.5" height="173"/></clipPath>
<g clip-path="url(#c868)">
<path d="M143 914h1v1h-1zM144 915h2v1h-2zM201 915h1v1h-1zM203 915h1v1h-1zM144 916h1v1h-1zM154 917h1v1h-1zM201 917h1v1h-1zM154 918h2v1h-2zM154 919h1v1h-1zM151 920h1v1h-1zM204 920h1v1h-1zM145 921h1v1h-1zM147 921h1v1h-1zM198 921h1v1h-1zM203 921h1v1h-1zM158 922h2v1h-2zM198 922h1v1h-1zM202 922h1v1h-1zM204 922h1v1h-1zM145 923h1v1h-1zM147 923h1v1h-1zM198 923h1v1h-1zM201 923h2v1h-2zM132 924h2v1h-2zM140 924h1v1h-1zM144 924h1v1h-1zM149 924h1v1h-1zM160 924h2v1h-2zM196 924h1v1h-1zM208 924h1v1h-1zM135 925h1v1h-1zM142 925h1v1h-1zM144 925h3v1h-3zM148 925h1v1h-1zM163 925h1v1h-1zM195 925h1v1h-1zM198 925h1v1h-1zM201 925h1v1h-1zM204 925h1v1h-1zM208 925h1v1h-1zM134 926h1v1h-1zM146 926h1v1h-1zM154 926h1v1h-1zM156 926h1v1h-1zM162 926h1v1h-1zM199 926h3v1h-3zM205 926h2v1h-2zM208 926h1v1h-1zM134 927h1v1h-1zM136 927h1v1h-1zM143 927h1v1h-1zM148 927h1v1h-1zM155 927h1v1h-1zM195 927h1v1h-1zM197 927h1v1h-1zM200 927h1v1h-1zM205 927h1v1h-1zM136 928h1v1h-1zM138 928h1v1h-1zM150 928h1v1h-1zM156 928h2v1h-2zM192 928h1v1h-1zM194 928h1v1h-1zM196 928h3v1h-3zM201 928h2v1h-2zM144 929h2v1h-2zM151 929h1v1h-1zM193 929h1v1h-1zM195 929h1v1h-1zM197 929h1v1h-1zM200 929h3v1h-3zM206 929h1v1h-1zM138 930h1v1h-1zM145 930h1v1h-1zM149 930h1v1h-1zM196 930h4v1h-4zM204 930h2v1h-2zM147 931h1v1h-1zM153 931h1v1h-1zM195 931h2v1h-2zM200 931h2v1h-2zM204 931h4v1h-4zM136 932h1v1h-1zM146 932h2v1h-2zM154 932h1v1h-1zM197 932h1v1h-1zM199 932h1v1h-1zM201 932h2v1h-2zM207 932h1v1h-1zM149 933h1v1h-1zM190 933h1v1h-1zM198 933h1v1h-1zM200 933h2v1h-2zM203 933h1v1h-1zM205 933h2v1h-2zM208 933h1v1h-1zM128 934h1v1h-1zM191 934h2v1h-2zM196 934h1v1h-1zM199 934h4v1h-4zM204 934h1v1h-1zM190 935h1v1h-1zM195 935h1v1h-1zM199 935h1v1h-1zM202 935h4v1h-4zM197 936h1v1h-1zM199 936h2v1h-2zM203 936h1v1h-1zM195 937h1v1h-1zM199 937h1v1h-1zM201 937h2v1h-2zM204 937h1v1h-1zM201 938h1v1h-1zM203 938h1v1h-1zM196 939h1v1h-1zM198 939h1v1h-1zM200 939h1v1h-1zM205 939h1v1h-1zM196 940h1v1h-1zM198 940h2v1h-2zM201 940h3v1h-3zM207 940h1v1h-1zM199 941h1v1h-1zM202 941h1v1h-1zM207 941h1v1h-1zM79 942h1v1h-1zM198 942h1v1h-1zM200 942h6v1h-6zM80 943h2v1h-2zM197 943h2v1h-2zM203 943h2v1h-2zM199 944h1v1h-1zM204 944h1v1h-1zM198 945h3v1h-3zM203 945h1v1h-1zM88 946h1v1h-1zM87 947h1v1h-1zM199 947h1v1h-1zM85 948h2v1h-2zM108 948h1v1h-1zM201 948h1v1h-1zM92 950h1v1h-1zM94 950h1v1h-1zM93 952h1v1h-1zM64 953h1v1h-1zM74 953h1v1h-1zM94 954h1v1h-1zM66 955h1v1h-1zM73 956h1v1h-1zM73 958h1v1h-1zM84 959h1v1h-1zM86 959h1v1h-1zM86 960h2v1h-2zM89 962h1v1h-1zM98 964h1v1h-1zM79 965h1v1h-1zM113 968h1v1h-1zM56 974h1v1h-1zM58 974h1v1h-1zM56 976h1v1h-1zM58 976h1v1h-1zM60 976h2v1h-2zM81 976h1v1h-1zM99 976h1v1h-1zM61 977h2v1h-2zM80 977h1v1h-1zM90 977h1v1h-1zM97 977h1v1h-1zM108 977h2v1h-2zM79 978h1v1h-1zM83 978h1v1h-1zM89 978h1v1h-1zM96 978h1v1h-1zM99 978h1v1h-1zM60 979h1v1h-1zM73 979h1v1h-1zM85 979h1v1h-1zM87 979h3v1h-3zM97 979h1v1h-1zM106 979h1v1h-1zM108 979h1v1h-1zM110 979h1v1h-1zM68 980h1v1h-1zM70 980h1v1h-1zM77 980h1v1h-1zM81 980h1v1h-1zM86 980h2v1h-2zM95 980h1v1h-1zM109 980h1v1h-1zM60 981h1v1h-1zM65 981h2v1h-2zM71 981h1v1h-1zM75 981h2v1h-2zM78 981h1v1h-1zM83 981h1v1h-1zM98 981h1v1h-1zM111 981h1v1h-1zM67 982h2v1h-2zM73 982h2v1h-2zM79 982h2v1h-2zM82 982h1v1h-1zM85 982h1v1h-1zM88 982h1v1h-1zM91 982h1v1h-1zM97 982h1v1h-1zM101 982h1v1h-1zM61 983h1v1h-1zM64 983h2v1h-2zM73 983h1v1h-1zM76 983h2v1h-2zM82 983h2v1h-2zM85 983h1v1h-1zM87 983h4v1h-4zM92 983h2v1h-2zM97 983h1v1h-1zM108 983h1v1h-1zM65 984h1v1h-1zM67 984h2v1h-2zM72 984h1v1h-1zM74 984h2v1h-2zM77 984h2v1h-2zM82 984h1v1h-1zM86 984h2v1h-2zM91 984h1v1h-1zM95 984h1v1h-1zM99 984h2v1h-2zM105 984h1v1h-1zM62 985h2v1h-2zM65 985h1v1h-1zM68 985h1v1h-1zM75 985h1v1h-1zM80 985h1v1h-1zM82 985h1v1h-1zM84 985h1v1h-1zM89 985h2v1h-2zM99 985h1v1h-1zM105 985h2v1h-2zM108 985h1v1h-1zM60 986h1v1h-1zM62 986h2v1h-2zM66 986h1v1h-1zM68 986h1v1h-1zM70 986h1v1h-1zM72 986h1v1h-1zM75 986h1v1h-1zM77 986h1v1h-1zM84 986h2v1h-2zM89 986h3v1h-3zM93 986h1v1h-1zM98 986h2v1h-2zM101 986h1v1h-1zM107 986h1v1h-1zM110 986h1v1h-1zM60 987h2v1h-2zM63 987h1v1h-1zM65 987h2v1h-2zM68 987h2v1h-2zM72 987h1v1h-1zM74 987h7v1h-7zM82 987h3v1h-3zM86 987h3v1h-3zM92 987h1v1h-1zM96 987h3v1h-3zM100 987h1v1h-1zM102 987h1v1h-1zM104 987h1v1h-1zM111 987h1v1h-1zM61 988h2v1h-2zM64 988h1v1h-1zM66 988h1v1h-1zM69 988h2v1h-2zM73 988h5v1h-5zM79 988h5v1h-5zM85 988h2v1h-2zM90 988h3v1h-3zM94 988h1v1h-1zM96 988h4v1h-4zM101 988h1v1h-1zM107 988h2v1h-2zM113 988h1v1h-1zM62 989h1v1h-1zM65 989h8v1h-8zM74 989h1v1h-1zM76 989h3v1h-3zM80 989h2v1h-2zM83 989h1v1h-1zM86 989h3v1h-3zM92 989h1v1h-1zM94 989h5v1h-5zM100 989h6v1h-6zM109 989h2v1h-2zM62 990h2v1h-2zM66 990h3v1h-3zM70 990h1v1h-1zM72 990h2v1h-2zM76 990h6v1h-6zM83 990h4v1h-4zM88 990h6v1h-6zM95 990h4v1h-4zM101 990h2v1h-2zM104 990h8v1h-8zM60 991h1v1h-1zM62 991h11v1h-11zM74 991h5v1h-5zM80 991h1v1h-1zM82 991h1v1h-1zM85 991h18v1h-18zM104 991h1v1h-1zM106 991h3v1h-3zM111 991h4v1h-4zM116 991h1v1h-1zM61 992h17v1h-17zM79 992h1v1h-1zM81 992h12v1h-12zM94 992h7v1h-7zM103 992h1v1h-1zM107 992h2v1h-2zM110 992h1v1h-1zM112 992h1v1h-1zM60 993h3v1h-3zM64 993h4v1h-4zM69 993h9v1h-9zM79 993h5v1h-5zM85 993h8v1h-8zM94 993h10v1h-10zM105 993h2v1h-2zM108 993h1v1h-1zM110 993h1v1h-1zM116 993h1v1h-1zM118 993h1v1h-1zM60 994h5v1h-5zM66 994h3v1h-3zM71 994h22v1h-22zM94 994h5v1h-5zM100 994h4v1h-4zM105 994h1v1h-1zM107 994h6v1h-6zM116 994h1v1h-1zM62 995h27v1h-27zM90 995h16v1h-16zM107 995h2v1h-2zM111 995h3v1h-3zM117 995h1v1h-1zM63 996h3v1h-3zM99 996h4v1h-4zM104 996h4v1h-4zM109 996h2v1h-2zM113 996h1v1h-1zM116 996h1v1h-1zM104 997h2v1h-2zM107 997h4v1h-4zM112 997h1v1h-1zM107 998h4v1h-4zM118 998h1v1h-1zM105 999h2v1h-2zM108 999h1v1h-1zM114 999h3v1h-3zM106 1000h2v1h-2zM110 1000h1v1h-1zM112 1000h1v1h-1zM116 1000h1v1h-1zM106 1001h5v1h-5zM112 1001h3v1h-3zM116 1001h1v1h-1zM106 1002h5v1h-5zM115 1002h3v1h-3zM107 1003h2v1h-2zM112 1003h3v1h-3zM106 1004h4v1h-4zM112 1004h1v1h-1zM117 1004h1v1h-1zM106 1005h2v1h-2zM109 1005h2v1h-2zM114 1005h1v1h-1zM106 1006h6v1h-6zM114 1006h1v1h-1zM118 1006h1v1h-1zM106 1007h4v1h-4zM111 1007h1v1h-1zM113 1007h2v1h-2zM106 1008h3v1h-3zM110 1008h1v1h-1zM112 1008h3v1h-3zM116 1008h4v1h-4zM106 1009h1v1h-1zM108 1009h5v1h-5zM114 1009h2v1h-2zM117 1009h2v1h-2zM107 1010h4v1h-4zM113 1010h3v1h-3zM107 1011h5v1h-5zM114 1011h1v1h-1zM107 1012h4v1h-4zM112 1012h2v1h-2zM116 1012h3v1h-3zM121 1012h1v1h-1zM106 1013h3v1h-3zM110 1013h2v1h-2zM113 1013h1v1h-1zM116 1013h2v1h-2zM119 1013h2v1h-2zM122 1013h1v1h-1zM107 1014h2v1h-2zM110 1014h2v1h-2zM108 1015h2v1h-2zM111 1015h2v1h-2zM106 1016h8v1h-8zM110 1017h1v1h-1zM112 1017h1v1h-1zM115 1017h1v1h-1zM117 1017h1v1h-1zM107 1018h7v1h-7zM115 1018h1v1h-1zM107 1019h8v1h-8zM117 1019h1v1h-1zM107 1020h2v1h-2zM110 1020h2v1h-2zM106 1021h2v1h-2zM109 1021h2v1h-2zM106 1022h5v1h-5zM112 1022h1v1h-1zM114 1022h2v1h-2zM106 1023h1v1h-1zM109 1023h2v1h-2zM113 1023h1v1h-1zM107 1024h3v1h-3zM116 1024h2v1h-2zM106 1025h4v1h-4zM111 1025h2v1h-2zM107 1026h3v1h-3zM111 1026h4v1h-4zM107 1027h6v1h-6zM114 1027h1v1h-1zM106 1028h1v1h-1zM108 1028h1v1h-1zM110 1028h4v1h-4zM106 1029h4v1h-4zM111 1029h2v1h-2zM114 1029h2v1h-2zM106 1030h6v1h-6zM118 1030h1v1h-1zM106 1031h4v1h-4zM111 1031h1v1h-1zM113 1031h1v1h-1zM115 1031h6v1h-6zM106 1032h3v1h-3zM110 1032h1v1h-1zM113 1032h1v1h-1zM119 1032h1v1h-1zM107 1033h7v1h-7zM112 1034h1v1h-1zM123 1036h1v1h-1zM126 1036h1v1h-1zM121 1037h1v1h-1zM122 1038h1v1h-1zM124 1038h1v1h-1zM126 1038h1v1h-1z" fill="#333"/>
<path d="M139 868h1v1h-1zM113 893h1v1h-1zM156 896h1v1h-1zM120 900h1v1h-1zM185 900h1v1h-1zM205 904h1v1h-1zM73 905h1v1h-1zM139 906h1v1h-1zM178 906h1v1h-1zM134 907h1v1h-1zM205 907h1v1h-1zM103 908h1v1h-1zM155 908h1v1h-1zM191 908h1v1h-1zM200 908h1v1h-1zM207 908h1v1h-1zM147 909h1v1h-1zM94 910h1v1h-1zM120 910h1v1h-1zM139 911h1v1h-1zM151 911h1v1h-1zM176 911h1v1h-1zM127 913h1v1h-1zM131 913h1v1h-1zM134 913h1v1h-1zM142 913h1v1h-1zM195 913h1v1h-1zM200 913h1v1h-1zM90 914h1v1h-1zM131 914h1v1h-1zM156 914h2v1h-2zM154 915h1v1h-1zM101 916h1v1h-1zM119 916h1v1h-1zM129 916h1v1h-1zM136 916h1v1h-1zM173 916h1v1h-1zM200 916h1v1h-1zM204 916h1v1h-1zM207 916h1v1h-1zM218 916h1v1h-1zM100 917h1v1h-1zM141 917h1v1h-1zM167 917h1v1h-1zM185 917h1v1h-1zM121 918h1v1h-1zM149 918h1v1h-1zM157 918h1v1h-1zM163 918h1v1h-1zM180 918h1v1h-1zM192 918h1v1h-1zM136 919h1v1h-1zM141 919h1v1h-1zM150 919h1v1h-1zM163 920h1v1h-1zM174 920h1v1h-1zM188 920h1v1h-1zM195 920h1v1h-1zM199 920h1v1h-1zM206 920h1v1h-1zM71 921h1v1h-1zM100 921h1v1h-1zM106 921h1v1h-1zM129 921h1v1h-1zM131 921h1v1h-1zM153 921h1v1h-1zM157 921h1v1h-1zM210 921h1v1h-1zM68 922h1v1h-1zM124 922h2v1h-2zM129 922h1v1h-1zM138 922h1v1h-1zM142 922h1v1h-1zM150 922h1v1h-1zM70 923h1v1h-1zM89 923h1v1h-1zM122 923h1v1h-1zM138 923h1v1h-1zM84 924h1v1h-1zM130 925h1v1h-1zM152 925h1v1h-1zM164 925h1v1h-1zM214 925h1v1h-1zM84 926h1v1h-1zM174 926h1v1h-1zM190 926h1v1h-1zM104 927h1v1h-1zM107 927h1v1h-1zM115 927h1v1h-1zM140 927h1v1h-1zM167 927h1v1h-1zM159 928h1v1h-1zM185 929h1v1h-1zM78 930h1v1h-1zM126 930h1v1h-1zM132 930h1v1h-1zM165 930h1v1h-1zM170 930h1v1h-1zM80 931h1v1h-1zM83 931h2v1h-2zM104 931h1v1h-1zM139 931h1v1h-1zM154 931h1v1h-1zM191 931h1v1h-1zM93 932h1v1h-1zM135 932h1v1h-1zM143 932h1v1h-1zM159 932h1v1h-1zM163 932h1v1h-1zM186 932h1v1h-1zM74 933h1v1h-1zM126 933h1v1h-1zM128 933h1v1h-1zM134 933h1v1h-1zM142 933h1v1h-1zM67 934h1v1h-1zM76 934h1v1h-1zM98 934h1v1h-1zM138 934h1v1h-1zM153 934h1v1h-1zM75 935h1v1h-1zM97 935h1v1h-1zM101 935h1v1h-1zM149 935h1v1h-1zM175 935h1v1h-1zM187 935h1v1h-1zM67 936h1v1h-1zM126 936h1v1h-1zM147 936h1v1h-1zM157 936h1v1h-1zM187 936h1v1h-1zM102 937h1v1h-1zM141 937h1v1h-1zM156 938h1v1h-1zM98 939h1v1h-1zM168 939h1v1h-1zM81 940h1v1h-1zM99 940h1v1h-1zM120 940h1v1h-1zM187 940h1v1h-1zM212 940h1v1h-1zM91 941h1v1h-1zM128 941h1v1h-1zM57 942h1v1h-1zM122 942h1v1h-1zM135 942h1v1h-1zM66 943h1v1h-1zM90 943h2v1h-2zM106 943h1v1h-1zM191 943h1v1h-1zM82 944h1v1h-1zM145 944h1v1h-1zM208 944h1v1h-1zM74 945h1v1h-1zM86 945h1v1h-1zM68 946h1v1h-1zM92 946h1v1h-1zM60 947h1v1h-1zM69 947h1v1h-1zM106 947h1v1h-1zM109 947h1v1h-1zM81 948h1v1h-1zM109 948h1v1h-1zM67 949h1v1h-1zM77 949h1v1h-1zM84 949h1v1h-1zM93 949h1v1h-1zM121 949h1v1h-1zM139 949h1v1h-1zM189 949h1v1h-1zM202 949h1v1h-1zM81 950h1v1h-1zM124 950h1v1h-1zM134 950h1v1h-1zM203 950h1v1h-1zM62 951h1v1h-1zM81 951h1v1h-1zM67 952h1v1h-1zM73 952h1v1h-1zM76 952h1v1h-1zM110 952h1v1h-1zM67 953h1v1h-1zM70 953h1v1h-1zM96 953h1v1h-1zM100 953h1v1h-1zM196 953h1v1h-1zM199 953h1v1h-1zM64 954h1v1h-1zM93 954h1v1h-1zM101 954h1v1h-1zM120 954h1v1h-1zM74 955h1v1h-1zM88 955h1v1h-1zM112 955h1v1h-1zM123 955h1v1h-1zM61 956h1v1h-1zM71 956h1v1h-1zM82 956h1v1h-1zM88 956h2v1h-2zM117 956h1v1h-1zM83 957h1v1h-1zM107 957h1v1h-1zM126 957h1v1h-1zM105 958h1v1h-1zM118 958h1v1h-1zM75 959h1v1h-1zM89 959h1v1h-1zM98 959h1v1h-1zM100 959h1v1h-1zM118 959h1v1h-1zM66 960h1v1h-1zM79 960h1v1h-1zM81 960h1v1h-1zM90 960h1v1h-1zM96 960h1v1h-1zM110 960h1v1h-1zM114 960h1v1h-1zM171 960h1v1h-1zM78 961h1v1h-1zM109 961h1v1h-1zM122 961h1v1h-1zM58 962h1v1h-1zM112 962h1v1h-1zM117 962h1v1h-1zM71 963h1v1h-1zM73 963h1v1h-1zM81 963h1v1h-1zM89 963h1v1h-1zM96 963h1v1h-1zM100 963h1v1h-1zM57 964h1v1h-1zM86 964h1v1h-1zM93 964h1v1h-1zM109 964h1v1h-1zM78 965h1v1h-1zM83 965h1v1h-1zM85 965h1v1h-1zM90 965h1v1h-1zM99 965h1v1h-1zM108 965h1v1h-1zM146 965h1v1h-1zM72 966h1v1h-1zM92 966h1v1h-1zM96 966h1v1h-1zM115 966h1v1h-1zM78 967h1v1h-1zM67 968h1v1h-1zM83 968h1v1h-1zM102 968h1v1h-1zM166 968h1v1h-1zM56 969h1v1h-1zM71 969h1v1h-1zM87 969h1v1h-1zM98 969h1v1h-1zM103 969h1v1h-1zM111 969h1v1h-1zM113 969h1v1h-1zM122 969h1v1h-1zM59 970h1v1h-1zM201 970h1v1h-1zM61 971h1v1h-1zM67 971h1v1h-1zM158 971h1v1h-1zM207 971h1v1h-1zM79 972h1v1h-1zM86 972h1v1h-1zM92 972h1v1h-1zM75 973h1v1h-1zM77 973h1v1h-1zM89 973h1v1h-1zM95 973h1v1h-1zM101 973h2v1h-2zM111 973h1v1h-1zM95 974h1v1h-1zM98 974h1v1h-1zM116 974h1v1h-1zM70 975h1v1h-1zM93 975h1v1h-1zM135 975h1v1h-1zM83 976h1v1h-1zM110 976h1v1h-1zM119 976h1v1h-1zM78 977h1v1h-1zM105 977h1v1h-1zM122 977h1v1h-1zM67 978h1v1h-1zM71 978h1v1h-1zM100 978h1v1h-1zM105 978h1v1h-1zM119 978h1v1h-1zM165 978h1v1h-1zM112 979h1v1h-1zM140 979h1v1h-1zM57 980h1v1h-1zM94 980h1v1h-1zM153 980h1v1h-1zM118 981h1v1h-1zM148 981h1v1h-1zM60 982h1v1h-1zM105 982h1v1h-1zM108 982h1v1h-1zM116 982h1v1h-1zM102 983h1v1h-1zM111 983h1v1h-1zM222 983h1v1h-1zM118 984h1v1h-1zM121 984h1v1h-1zM136 984h1v1h-1zM114 987h1v1h-1zM119 987h1v1h-1zM128 988h1v1h-1zM120 989h1v1h-1zM136 989h1v1h-1zM122 990h1v1h-1zM123 991h1v1h-1zM140 993h1v1h-1zM213 993h1v1h-1zM121 995h1v1h-1zM132 995h1v1h-1zM164 996h1v1h-1zM122 998h1v1h-1zM119 1001h1v1h-1zM121 1002h1v1h-1zM144 1003h1v1h-1zM133 1007h1v1h-1zM123 1011h1v1h-1zM148 1011h1v1h-1zM128 1016h1v1h-1zM120 1017h1v1h-1zM123 1017h1v1h-1zM176 1017h1v1h-1zM185 1017h1v1h-1zM117 1021h1v1h-1zM128 1023h1v1h-1zM119 1024h1v1h-1zM129 1024h1v1h-1zM118 1027h1v1h-1zM123 1030h1v1h-1zM123 1033h1v1h-1zM117 1034h1v1h-1zM153 1034h1v1h-1zM157 1037h1v1h-1zM127 1038h1v1h-1zM119 1039h1v1h-1z" fill="#666"/>
<path d="M86.5 1020.5L85.7 1020.5L83.5 1019.0L81.5 1015.0L81.3 1012.5L81.7 1011.5L83.0 1010.5L84.5 1010.7L89.8 1014.0L89.5 1016.0L86.5 1020.5 M86.5 1023.5L83.5 1022.0L81.5 1021.5L79.6 1018.0L77.2 1015.0L79.5 1009.8L84.0 1007.5L85.5 1007.7L88.5 1010.9L91.5 1011.8L92.0 1012.5L91.9 1017.0L87.5 1022.9L86.5 1023.5 M87.0 1025.5L81.5 1024.2L80.1 1023.5L78.6 1021.0L77.0 1020.1L77.1 1018.5L75.4 1015.0L75.6 1013.5L77.3 1011.5L77.9 1009.0L80.6 1007.5L83.0 1005.4L86.1 1006.0L89.5 1009.6L92.0 1009.5L93.0 1010.1L94.2 1012.0L94.0 1014.5L95.6 1016.5L96.1 1018.0L95.5 1018.8L93.5 1018.9L92.5 1019.5L89.6 1022.0L88.0 1024.9L87.0 1025.5 M87.5 1027.1L85.0 1027.3L82.5 1026.8L77.5 1023.3L75.0 1022.1L73.7 1020.5L73.7 1019.5L74.7 1017.5L74.3 1013.0L75.6 1008.5L79.0 1006.7L81.0 1004.6L82.4 1004.0L85.5 1004.4L90.5 1006.1L94.0 1008.5L96.5 1009.6L97.1 1010.0L97.8 1013.0L99.8 1017.0L98.6 1023.5L98.0 1024.6L95.5 1025.7L92.9 1024.5L91.5 1023.1L89.6 1026.0L87.5 1027.1 M86.0 1028.5L83.5 1028.6L79.5 1026.9L73.5 1022.1L72.1 1019.0L73.1 1015.0L73.1 1012.0L74.5 1007.5L77.6 1005.5L79.1 1004.0L82.0 1003.0L90.5 1004.0L94.0 1006.9L98.0 1008.4L98.7 1009.5L99.0 1013.0L100.8 1017.0L100.0 1023.8L98.5 1026.0L96.0 1027.4L92.5 1026.2L89.5 1027.9L86.0 1028.5 M84.5 1030.1L80.0 1028.7L76.8 1027.0L75.5 1025.0L73.0 1022.8L71.2 1020.0L70.8 1017.0L73.3 1007.5L76.5 1003.3L79.5 1002.3L88.5 1001.9L91.5 1003.2L94.5 1005.6L99.0 1007.8L99.8 1009.5L100.1 1013.0L101.4 1016.5L101.4 1019.5L100.2 1025.5L97.0 1028.7L95.5 1028.9L93.5 1027.7L92.5 1027.6L89.5 1029.2L84.5 1030.1 M86.0 1031.1L83.5 1031.3L75.6 1028.0L74.4 1025.5L72.5 1023.6L70.1 1020.0L69.7 1016.0L70.6 1012.0L72.8 1006.5L75.5 1002.7L78.5 1001.4L85.5 1001.3L88.5 1000.6L99.0 1005.8L100.4 1009.0L102.0 1019.0L100.8 1025.5L99.5 1028.1L97.5 1030.3L96.0 1030.5L93.5 1028.9L92.5 1028.8L89.0 1030.8L86.0 1031.1 M57.0 1022.7L56.4 1022.0L56.3 1020.0L57.0 1016.1L57.5 1016.7L57.9 1020.0L57.6 1022.0L57.0 1022.7 M84.5 1037.5L82.5 1037.5L79.9 1036.5L82.5 1035.2L84.5 1034.9L86.7 1036.5L84.5 1037.5 M84.0 1038.0L76.4 1037.0L76.2 1036.0L77.0 1035.2L81.2 1034.5L82.1 1034.0L82.4 1033.0L74.5 1028.6L71.0 1022.3L69.1 1020.0L68.7 1015.5L70.4 1009.5L72.7 1004.5L74.5 1002.2L78.5 1000.7L85.0 1000.5L88.5 999.9L93.0 1001.7L95.8 1002.0L100.0 1004.9L102.3 1016.5L102.3 1019.5L101.4 1025.5L100.0 1029.1L98.5 1031.4L97.5 1032.2L96.0 1032.1L92.5 1030.1L86.6 1032.5L85.9 1033.0L85.9 1034.0L89.7 1036.0L89.9 1036.5L89.0 1037.1L84.0 1038.0 M57.0 1024.2L56.0 1022.5L55.9 1020.0L56.4 1009.0L57.0 1007.6L57.5 1007.9L57.9 1009.5L58.4 1020.5L58.0 1022.8L57.0 1024.2 M57.0 1038.7L56.5 1038.4L56.3 1037.5L57.0 1036.3L57.6 1037.5L57.0 1038.7 M86.5 1038.0L83.5 1038.4L78.0 1037.9L75.0 1037.0L75.1 1036.0L77.5 1033.0L71.5 1026.5L70.5 1022.9L68.2 1020.0L67.7 1015.5L69.3 1009.0L70.8 1007.0L72.3 1003.0L74.5 1001.2L79.5 1000.1L88.9 999.5L93.0 1000.7L96.5 1000.9L99.5 1003.1L100.8 1005.0L102.7 1018.5L102.0 1024.5L100.5 1029.8L99.0 1032.7L97.5 1034.4L94.0 1033.4L92.0 1031.8L88.7 1033.0L88.1 1034.0L88.8 1034.5L91.5 1035.3L94.0 1034.7L95.4 1036.0L94.0 1036.9L92.0 1036.9L86.5 1038.0 M57.0 1027.3L55.8 1023.0L55.6 1020.5L56.0 1008.5L57.0 1005.7L57.5 1006.0L58.4 1009.0L58.8 1020.5L57.5 1026.9L57.0 1027.3 M57.0 1030.6L57.0 1029.1L57.5 1030.0L57.0 1030.6 M57.5 1039.1L56.5 1039.2L55.8 1038.0L56.0 1036.5L57.0 1035.3L57.6 1035.5L58.2 1037.0L57.5 1039.1 M85.0 1038.6L77.5 1038.3L72.0 1037.6L70.7 1037.0L71.0 1036.4L74.5 1035.6L75.7 1033.5L74.0 1030.5L70.0 1027.5L69.8 1023.5L67.4 1020.5L66.7 1015.0L68.0 1011.9L67.7 1008.0L70.0 1006.4L70.7 1003.5L71.7 1002.0L74.0 1000.6L80.5 999.6L88.0 999.1L93.0 1000.1L96.5 1000.2L99.5 1002.0L101.2 1004.5L102.9 1017.0L102.4 1024.5L99.7 1033.5L99.6 1035.5L98.8 1036.5L95.0 1037.4L85.0 1038.6 M57.5 1032.1L57.0 1032.2L56.2 1030.5L55.3 1020.5L55.7 1008.0L56.5 1004.9L57.5 1004.2L58.9 1009.0L59.1 1020.5L58.3 1025.0L58.2 1030.5L57.5 1032.1 M57.5 1039.6L56.3 1039.5L55.5 1038.0L55.8 1036.0L57.0 1034.2L58.0 1034.9L58.6 1037.0L58.4 1038.5L57.5 1039.6 M87.5 1038.5L83.0 1038.9L72.0 1038.2L67.7 1036.5L73.5 1035.3L74.8 1034.0L74.7 1033.0L73.5 1031.2L70.5 1029.3L69.0 1027.8L68.7 1024.0L66.5 1021.0L66.4 1017.5L65.6 1015.0L67.1 1011.5L66.2 1008.0L66.5 1006.6L69.0 1005.3L70.1 1002.5L73.0 1000.3L88.0 998.8L96.0 999.7L99.5 1001.1L101.5 1004.0L103.2 1018.5L102.6 1025.0L100.6 1033.0L100.8 1036.0L100.0 1036.8L98.0 1037.4L87.5 1038.5 M57.0 1040.0L55.9 1039.5L55.3 1038.0L56.5 1033.0L55.8 1030.5L55.1 1020.0L55.5 1007.5L56.4 1004.0L57.5 1002.9L58.4 1004.0L59.3 1009.0L59.4 1021.0L58.8 1025.0L58.7 1030.5L58.0 1033.0L58.9 1038.0L58.2 1039.5L57.0 1040.0 M85.0 1039.0L72.0 1038.5L66.0 1037.5L65.0 1037.0L65.0 1036.5L66.0 1035.9L73.5 1034.5L74.0 1033.5L73.5 1032.5L71.0 1031.0L68.5 1028.5L67.5 1024.5L65.8 1022.0L65.4 1018.0L64.2 1015.0L64.0 1012.0L65.2 1009.5L65.5 1005.6L66.0 1004.8L68.0 1003.9L70.0 1001.5L73.5 999.7L88.0 998.6L97.5 999.6L100.7 1001.5L101.9 1004.0L102.4 1006.5L103.4 1018.5L102.9 1024.5L101.3 1032.5L101.5 1036.5L100.0 1037.4L96.7 1038.0L85.0 1039.0 M57.5 1040.2L56.0 1040.0L55.1 1038.0L56.0 1033.0L54.9 1020.5L55.4 1006.5L56.5 1002.8L57.5 1001.7L58.5 1002.4L58.9 1003.5L59.9 1013.0L59.8 1021.5L58.6 1033.0L59.3 1037.5L58.5 1039.5L57.5 1040.2 M87.0 1039.0L83.5 1039.3L72.0 1038.8L65.5 1038.0L63.5 1037.0L63.4 1036.5L64.5 1035.8L72.4 1033.5L70.5 1032.1L67.2 1028.0L66.9 1025.5L65.0 1022.5L62.2 1012.5L62.6 1011.0L64.3 1008.5L64.2 1005.0L64.8 1004.0L72.5 999.6L88.0 998.3L96.5 999.1L100.5 1000.5L101.9 1003.0L102.7 1006.0L103.6 1018.0L103.1 1024.5L101.8 1032.5L102.2 1036.5L101.5 1037.3L100.0 1037.9L87.0 1039.0 M57.0 1040.5L55.5 1039.8L54.9 1038.0L55.7 1033.0L54.7 1020.0L55.2 1006.0L56.5 1001.7L57.5 1000.7L58.7 1001.5L59.5 1003.0L60.6 1013.0L59.0 1033.0L59.7 1037.5L58.9 1039.5L57.0 1040.5 M57.5 1040.7L56.5 1040.7L55.4 1040.0L54.7 1037.5L55.5 1033.5L54.6 1022.0L54.8 1008.5L55.4 1004.0L57.0 999.9L58.5 1000.5L60.3 1002.5L60.8 1004.0L60.5 1007.6L61.0 1009.7L61.5 1010.1L63.4 1008.0L63.3 1007.0L61.7 1005.0L62.0 1003.6L73.0 999.1L88.5 998.1L97.0 998.9L101.1 1000.5L102.9 1005.5L103.8 1017.5L102.2 1032.5L102.7 1036.0L102.0 1037.5L100.5 1038.1L96.0 1038.6L83.5 1039.5L72.0 1039.1L65.0 1038.3L62.7 1037.5L62.1 1037.0L62.4 1036.0L68.5 1034.0L69.2 1033.5L69.4 1032.5L68.5 1030.7L65.3 1028.0L65.9 1026.0L63.5 1020.3L62.1 1018.5L61.5 1016.8L61.0 1017.1L60.7 1019.0L59.4 1033.0L60.3 1037.0L59.1 1039.5L57.5 1040.7 M58.0 1040.7L56.5 1040.9L55.5 1040.3L54.5 1038.0L55.2 1033.5L54.4 1021.5L54.6 1008.5L55.1 1004.5L56.5 999.4L57.5 999.1L60.0 1000.9L64.0 1001.7L73.5 998.7L88.5 998.0L97.5 998.8L100.5 999.7L101.5 1000.4L103.1 1005.5L104.0 1017.5L102.5 1032.5L103.1 1036.0L102.6 1037.5L100.0 1038.5L83.5 1039.6L72.0 1039.3L64.5 1038.5L61.0 1037.7L58.0 1040.7 M61.7 1035.5L67.0 1033.9L68.3 1032.5L67.6 1031.0L63.9 1028.5L63.4 1027.0L63.8 1025.0L63.6 1023.5L62.9 1021.5L62.0 1020.5L61.5 1020.6L61.0 1022.6L59.8 1033.0L60.5 1035.4L61.7 1035.5 M57.5 1041.0L55.4 1040.5L54.4 1038.0L55.1 1033.5L54.3 1022.0L54.5 1008.5L54.9 1004.5L56.5 998.3L57.0 998.0L57.5 998.3L60.0 1000.3L64.5 1000.8L73.5 998.5L88.0 997.8L97.5 998.6L101.6 1000.0L103.3 1005.5L104.2 1017.5L102.8 1032.0L103.5 1036.5L103.0 1037.6L100.5 1038.7L84.0 1039.8L72.0 1039.5L61.5 1038.2L57.5 1041.0 M62.5 1034.5L66.0 1033.3L66.8 1032.5L66.3 1031.5L63.5 1029.4L62.0 1027.3L61.5 1027.2L60.8 1028.5L60.2 1033.5L61.0 1034.8L62.5 1034.5 M58.0 1041.1L56.5 1041.2L55.5 1040.8L54.5 1039.5L54.2 1038.0L54.9 1033.5L54.1 1022.0L54.3 1008.0L55.6 1000.0L56.5 997.0L57.1 997.0L58.7 999.0L60.0 999.8L64.5 1000.2L73.5 998.3L88.0 997.6L97.5 998.4L101.0 999.3L102.0 1000.0L103.5 1005.5L104.3 1017.5L103.1 1032.5L103.8 1036.5L103.1 1038.0L100.5 1038.9L84.0 1039.9L72.0 1039.7L61.5 1038.6L58.0 1041.1 M62.0 1034.0L64.1 1033.0L64.6 1032.0L64.2 1031.0L62.0 1029.3L61.5 1029.5L60.7 1033.0L61.0 1033.9L62.0 1034.0 M58.5 1041.0L57.0 1041.4L55.5 1040.9L54.4 1039.5L54.1 1038.0L54.7 1033.5L54.0 1022.0L54.2 1008.0L55.5 999.0L56.5 996.2L57.5 996.5L59.0 998.8L60.5 999.5L65.0 999.7L73.5 998.1L88.0 997.5L97.5 998.2L102.0 999.6L102.8 1001.0L103.7 1005.5L104.4 1017.0L103.3 1032.0L104.2 1036.5L103.6 1038.0L101.0 1039.0L84.0 1040.1L72.0 1039.9L61.5 1039.0L58.5 1041.0 M62.7 1032.5L62.5 1031.7L62.0 1032.0L62.0 1032.7L62.7 1032.5 M57.5 1041.5L56.0 1041.4L55.0 1040.7L54.0 1038.0L54.6 1033.5L53.9 1022.0L54.1 1008.0L55.5 997.5L56.1 996.0L57.0 995.6L57.5 995.9L59.0 998.3L60.5 999.2L65.0 999.4L73.5 997.9L88.5 997.3L98.0 998.1L101.0 998.7L102.3 999.5L103.9 1005.5L104.6 1017.0L103.5 1032.0L104.5 1036.5L104.0 1038.0L101.0 1039.3L84.5 1040.2L72.0 1040.0L61.5 1039.2L57.5 1041.5 M58.0 1041.5L56.5 1041.7L55.1 1041.0L54.3 1040.0L53.8 1038.0L54.4 1033.5L53.8 1022.0L53.9 1008.5L55.2 997.5L56.0 995.5L57.5 995.4L59.1 998.0L60.5 998.9L65.0 999.1L73.5 997.8L88.5 997.2L97.5 997.8L101.0 998.5L102.5 999.4L104.1 1005.5L104.7 1017.0L103.7 1032.5L104.8 1037.0L104.0 1038.4L101.0 1039.4L84.5 1040.4L72.0 1040.2L61.5 1039.5L58.0 1041.5 M58.0 1041.7L56.5 1041.8L55.0 1041.1L54.2 1040.0L53.7 1038.0L54.3 1033.5L53.7 1022.0L53.8 1008.0L55.1 997.0L56.0 995.1L57.5 995.0L59.5 998.1L61.0 998.7L65.0 998.8L73.5 997.6L88.5 997.1L97.5 997.7L101.0 998.3L102.5 999.1L103.3 1000.5L104.3 1005.5L104.8 1016.5L103.9 1032.5L105.2 1037.0L104.3 1038.5L101.0 1039.6L84.5 1040.5L61.5 1039.7L58.0 1041.7 M58.5 1041.6L56.5 1041.9L55.0 1041.2L54.1 1040.0L53.6 1038.0L54.1 1033.5L53.6 1022.0L53.7 1007.5L54.9 997.0L56.0 994.7L57.5 994.5L59.5 997.8L61.0 998.5L65.0 998.6L73.5 997.5L88.5 996.9L98.0 997.6L101.5 998.3L102.7 999.0L103.5 1000.5L104.3 1004.5L104.7 1011.0L105.0 1018.5L104.1 1032.5L105.7 1037.0L104.8 1038.5L101.5 1039.7L84.5 1040.6L62.0 1039.9L58.5 1041.6 M57.5 1042.0L56.0 1041.9L54.6 1041.0L53.5 1038.0L54.0 1033.5L53.5 1022.0L53.7 1007.0L54.8 996.5L56.0 994.2L57.0 993.8L57.5 994.1L59.6 997.5L61.0 998.3L88.5 996.8L97.5 997.4L101.5 998.1L103.0 999.0L103.7 1000.5L104.6 1006.0L105.1 1018.0L104.3 1032.5L105.0 1035.0L106.5 1037.0L105.7 1038.0L104.0 1039.3L102.0 1039.8L85.0 1040.7L62.0 1040.0L57.5 1042.0 M110.0 1037.7L108.2 1037.5L107.6 1037.0L109.3 1037.0L110.0 1037.7 M58.0 1042.0L56.5 1042.1L55.0 1041.5L53.8 1040.0L53.4 1038.0L53.9 1033.5L53.3 1021.5L53.6 1006.5L54.6 996.5L55.2 995.0L56.5 993.3L57.5 993.5L59.8 997.5L61.0 998.1L88.5 996.7L98.0 997.3L101.5 997.9L103.0 998.8L103.9 1000.5L104.8 1006.5L105.2 1018.0L104.5 1033.2L106.0 1035.8L111.0 1037.0L111.6 1037.5L111.5 1038.1L110.0 1038.6L107.0 1037.9L104.0 1039.5L101.5 1040.0L85.0 1040.8L62.0 1040.2L58.0 1042.0 M58.0 1042.2L56.5 1042.3L54.8 1041.5L53.7 1040.0L53.3 1038.0L53.8 1033.5L53.2 1022.0L53.4 1007.5L54.5 996.5L56.1 993.0L56.5 990.0L57.0 989.8L57.5 990.4L57.7 993.0L59.5 996.7L61.0 997.9L88.5 996.6L98.0 997.2L101.5 997.8L103.0 998.5L103.9 1000.0L104.9 1006.0L105.3 1018.0L104.6 1033.0L106.0 1035.4L112.0 1037.0L112.4 1037.5L112.0 1038.5L110.5 1039.0L106.5 1038.4L104.0 1039.7L101.5 1040.2L85.0 1040.9L62.0 1040.4L58.0 1042.2 M58.5 1042.1L56.5 1042.4L55.0 1041.8L53.8 1040.5L53.2 1038.0L53.7 1033.5L53.1 1022.0L53.3 1007.0L54.3 996.5L55.8 993.0L55.8 990.5L56.5 989.1L57.0 989.0L57.8 990.0L58.5 994.0L59.9 997.0L61.0 997.7L88.5 996.5L98.5 997.2L102.0 997.8L103.2 998.5L104.2 1000.5L105.0 1006.5L105.4 1018.0L104.8 1027.5L104.9 1033.5L106.0 1035.1L112.5 1036.8L113.0 1037.5L112.7 1038.5L110.5 1039.3L106.5 1038.7L102.0 1040.3L85.0 1041.0L62.0 1040.5L58.5 1042.1 M59.0 1042.0L57.0 1042.5L55.0 1041.9L53.7 1040.5L53.1 1038.0L53.6 1033.5L53.1 1022.0L53.3 1006.5L54.2 996.5L55.5 993.0L55.6 990.0L56.5 988.2L57.0 988.2L58.0 989.7L58.7 994.0L60.0 996.9L61.0 997.6L88.5 996.3L100.5 997.3L103.4 998.5L104.2 1000.0L105.2 1006.5L105.5 1018.0L105.0 1033.2L105.5 1034.3L106.5 1035.0L112.7 1036.5L113.5 1037.5L113.2 1038.5L111.0 1039.6L107.0 1038.9L102.0 1040.4L79.5 1041.2L62.0 1040.7L59.0 1042.0 M57.5 1042.6L55.5 1042.3L54.3 1041.5L53.4 1040.0L53.0 1038.0L53.5 1033.5L53.0 1022.0L53.2 1006.5L54.1 996.0L55.2 993.0L55.4 990.0L56.5 986.0L57.0 985.8L58.4 990.0L59.5 995.5L61.0 997.4L89.0 996.2L101.0 997.3L103.5 998.3L104.4 1000.0L105.3 1006.0L105.7 1018.0L105.0 1027.5L105.1 1033.0L105.5 1034.0L106.5 1034.8L113.3 1036.5L113.9 1037.5L113.5 1038.6L111.5 1039.7L107.0 1039.1L101.5 1040.6L79.5 1041.3L62.0 1040.8L57.5 1042.6 M58.0 1042.6L56.0 1042.6L54.5 1041.8L53.3 1040.0L52.9 1038.0L53.4 1033.5L52.9 1022.0L53.1 1006.0L53.9 996.5L55.0 993.0L55.1 990.0L56.5 984.7L57.0 984.6L57.5 985.1L59.1 994.0L60.0 996.3L61.0 997.2L89.0 996.1L101.0 997.1L103.5 998.1L104.5 1000.0L105.4 1006.0L105.8 1018.0L105.1 1027.5L105.3 1033.0L106.5 1034.5L113.5 1036.3L114.3 1037.5L113.5 1039.0L111.0 1040.0L107.0 1039.3L102.0 1040.7L85.0 1041.4L62.0 1040.9L58.0 1042.6 M58.5 1042.5L56.5 1042.8L54.5 1041.9L53.2 1040.0L52.8 1038.0L53.3 1033.5L52.8 1021.5L53.1 1005.5L53.8 996.5L54.8 993.0L55.7 985.5L56.5 984.0L57.5 984.2L57.9 985.0L59.3 994.0L60.0 996.0L61.0 997.1L89.0 996.0L98.5 996.7L102.0 997.2L103.5 998.0L104.7 1000.0L105.5 1006.0L105.9 1018.0L105.3 1027.5L105.4 1033.0L106.5 1034.3L114.0 1036.3L114.7 1037.5L113.9 1039.0L111.5 1040.2L107.0 1039.5L101.5 1040.8L79.5 1041.5L62.0 1041.1L58.5 1042.5" fill="none" stroke="#222" stroke-width="1.0"/>
</g>
<path d="M55.5 868H229V1041" fill="none" stroke="#aaa" stroke-width="1"/>
<path d="M55.5 868V1041H229" fill="none" stroke="#555" stroke-width="1.1"/>
<path d="M51.0 1041.0H55.5M55.5 1041V1045M53.5 1028.0H55.5M68.6 1041V1043M53.5 1020.4H55.5M76.2 1041V1043M53.5 1015.0H55.5M81.6 1041V1043M53.5 1010.8H55.5M85.8 1041V1043M53.5 1007.3H55.5M89.3 1041V1043M53.5 1004.4H55.5M92.2 1041V1043M53.5 1001.9H55.5M94.7 1041V1043M53.5 999.7H55.5M96.9 1041V1043M51.0 997.8H55.5M98.9 1041V1045M53.5 984.7H55.5M111.9 1041V1043M53.5 977.1H55.5M119.6 1041V1043M53.5 971.7H55.5M125.0 1041V1043M53.5 967.5H55.5M129.2 1041V1043M53.5 964.1H55.5M132.6 1041V1043M53.5 961.2H55.5M135.5 1041V1043M53.5 958.7H55.5M138.0 1041V1043M53.5 956.5H55.5M140.3 1041V1043M51.0 954.5H55.5M142.2 1041V1045M53.5 941.5H55.5M155.3 1041V1043M53.5 933.9H55.5M162.9 1041V1043M53.5 928.5H55.5M168.4 1041V1043M53.5 924.3H55.5M172.6 1041V1043M53.5 920.8H55.5M176.0 1041V1043M53.5 917.9H55.5M178.9 1041V1043M53.5 915.4H55.5M181.4 1041V1043M53.5 913.2H55.5M183.6 1041V1043M51.0 911.2H55.5M185.6 1041V1045M53.5 898.2H55.5M198.7 1041V1043M53.5 890.6H55.5M206.3 1041V1043M53.5 885.2H55.5M211.7 1041V1043M53.5 881.0H55.5M215.9 1041V1043M53.5 877.6H55.5M219.4 1041V1043M53.5 874.7H55.5M222.3 1041V1043M53.5 872.2H55.5M224.8 1041V1043M53.5 870.0H55.5M227.0 1041V1043M51.0 868.0H55.5M229.0 1041V1045" stroke="#444" stroke-width="0.8" fill="none"/>
<rect x="106.2" y="897" width="108.89999999999999" height="58.89999999999998" fill="none" stroke="#222" stroke-width="1"/>
<text x="211.29999999999998" y="911.9" font-size="14.8" text-anchor="end">0.54</text>
<rect x="137.7" y="985.6" width="91.30000000000001" height="55.39999999999998" fill="#fff"/>
<path d="M137.7 1041V985.6H229" fill="none" stroke="#444" stroke-width="1"/>
<path d="M137.7 1034.1h2M137.7 1027.2h2M137.7 1020.2h2M137.7 1013.3h2M137.7 1006.4h2M137.7 999.5h2M137.7 992.5h2" stroke="#555" stroke-width="0.7"/>
<path d="M138.5 1040.3C141.8 1040.3 153.8 1040.4 158.0 1040.3C162.2 1040.2 161.8 1040.5 163.6 1039.8C165.4 1039.1 167.2 1037.5 168.7 1036.0C170.2 1034.5 171.3 1032.5 172.7 1031.0C174.0 1029.5 175.8 1027.8 176.8 1026.9C177.8 1026.1 178.1 1026.4 178.8 1025.9C179.5 1025.4 180.3 1023.6 180.9 1023.8C181.5 1024.0 182.0 1025.7 182.5 1026.9C183.0 1028.1 183.4 1030.8 183.9 1031.0C184.4 1031.2 184.7 1029.6 185.4 1027.9C186.1 1026.2 187.3 1021.5 188.0 1020.8C188.7 1020.1 188.9 1021.8 189.4 1023.8C189.9 1025.8 190.4 1031.1 191.0 1033.0C191.6 1034.9 192.1 1035.2 192.7 1035.0C193.3 1034.8 193.9 1032.0 194.7 1032.0C195.4 1032.0 196.4 1034.3 197.2 1035.0C197.9 1035.7 198.4 1036.3 199.2 1036.0C200.0 1035.7 201.2 1032.8 202.2 1033.0C203.1 1033.2 204.1 1036.8 204.9 1037.0C205.8 1037.2 206.5 1035.0 207.3 1034.0C208.1 1033.0 209.1 1033.0 209.8 1031.0C210.5 1029.0 210.9 1027.1 211.4 1021.8C211.9 1016.5 212.5 1005.3 213.0 999.4C213.5 993.5 214.1 988.0 214.5 986.6C214.9 985.2 215.1 986.4 215.5 991.3C215.9 996.1 216.6 1008.2 217.1 1015.7C217.6 1023.2 218.1 1032.0 218.5 1036.0C218.9 1040.0 219.1 1039.3 219.5 1040.0C219.9 1040.7 219.5 1040.2 221.0 1040.3C222.5 1040.3 227.2 1040.3 228.5 1040.3" fill="none" stroke="#222" stroke-width="0.9"/>
<text x="5" y="88" font-size="22" text-anchor="start" font-weight="normal" >WT</text>
<text x="5.2" y="271" font-size="22" text-anchor="start" font-weight="normal" >Tg<tspan dx="1" dy="-3">+</tspan></text>
<text x="5.6" y="556.2" font-size="22" text-anchor="start" font-weight="normal" letter-spacing="0.5">BSA</text>
<text x="5.8" y="736.2" font-size="22" text-anchor="start" font-weight="normal" >WT</text>
<text x="5.2" y="919.5" font-size="22" text-anchor="start" font-weight="normal" >Tg<tspan dx="1" dy="-3">+</tspan></text>
<path d="M26 422V328M26 422H121.69999999999999" stroke="#111" stroke-width="2" fill="none"/>
<path d="M21 332L26 313L31 332Z" fill="#111"/>
<path d="M117.69999999999999 417L136.7 422L117.69999999999999 427Z" fill="#111"/>
<text transform="translate(21,380.5) rotate(-90)" font-size="20.5" text-anchor="middle">CD8<tspan font-family="Liberation Serif" font-style="italic">α</tspan></text>
<text x="40.3" y="442.7" font-size="20" text-anchor="start" font-weight="normal" >CFSE</text>
<path d="M25.5 1071V975M25.5 1071H122.5" stroke="#111" stroke-width="2" fill="none"/>
<path d="M20.5 979L25.5 960L30.5 979Z" fill="#111"/>
<path d="M118.5 1066L137.5 1071L118.5 1076Z" fill="#111"/>
<text transform="translate(22,1031) rotate(-90)" font-size="20.5" text-anchor="middle">tetramer</text>
<text x="40.5" y="1092.5" font-size="20" text-anchor="start" font-weight="normal" >CFSE</text>
</svg>
</body></html>
